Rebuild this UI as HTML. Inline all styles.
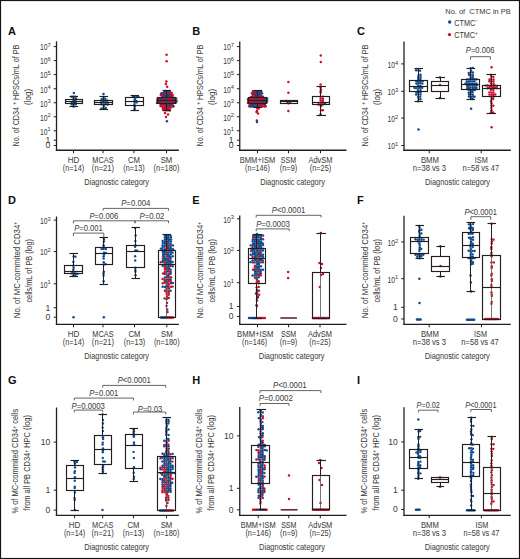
<!DOCTYPE html>
<html><head><meta charset="utf-8"><style>
html,body{margin:0;padding:0;background:#fff;}
body{width:520px;height:559px;overflow:hidden;}
svg{display:block;font-family:"Liberation Sans",sans-serif;}
text{stroke:#444;stroke-width:0.04px;}
</style></head><body>
<svg width="520" height="559" viewBox="0 0 520 559">
<rect x="0" y="0" width="520" height="559" fill="#fff"/>
<text x="8.10" y="34.80" font-size="11" text-anchor="start" fill="#111" font-weight="bold">A</text>
<text transform="translate(18.90,146.50) rotate(-90)" font-size="8.6" text-anchor="start" fill="#404040" textLength="39.50" lengthAdjust="spacingAndGlyphs">No. of CD34</text>
<text transform="translate(16.10,105.00) rotate(-90)" font-size="5.8" text-anchor="start" fill="#404040">+</text>
<text transform="translate(18.90,100.00) rotate(-90)" font-size="8.6" text-anchor="start" fill="#404040" textLength="55.40" lengthAdjust="spacingAndGlyphs"> HPSCs/mL of PB</text>
<text transform="translate(30.70,96.90) rotate(-90)" font-size="8.6" text-anchor="middle" fill="#404040" textLength="16.00" lengthAdjust="spacingAndGlyphs">(log)</text>
<line x1="56.50" y1="41.30" x2="56.50" y2="150.90" stroke="#231f20" stroke-width="1.3"/>
<line x1="55.85" y1="150.25" x2="178.90" y2="150.25" stroke="#231f20" stroke-width="1.3"/>
<line x1="53.70" y1="46.60" x2="56.50" y2="46.60" stroke="#231f20" stroke-width="1"/>
<text x="47.60" y="50.40" font-size="8.8" text-anchor="end" fill="#404040" textLength="7.60" lengthAdjust="spacingAndGlyphs">10</text>
<text x="47.60" y="47.20" font-size="5.8" text-anchor="start" fill="#404040">7</text>
<line x1="53.70" y1="60.60" x2="56.50" y2="60.60" stroke="#231f20" stroke-width="1"/>
<text x="47.60" y="64.40" font-size="8.8" text-anchor="end" fill="#404040" textLength="7.60" lengthAdjust="spacingAndGlyphs">10</text>
<text x="47.60" y="61.20" font-size="5.8" text-anchor="start" fill="#404040">6</text>
<line x1="53.70" y1="74.60" x2="56.50" y2="74.60" stroke="#231f20" stroke-width="1"/>
<text x="47.60" y="78.40" font-size="8.8" text-anchor="end" fill="#404040" textLength="7.60" lengthAdjust="spacingAndGlyphs">10</text>
<text x="47.60" y="75.20" font-size="5.8" text-anchor="start" fill="#404040">5</text>
<line x1="53.70" y1="88.75" x2="56.50" y2="88.75" stroke="#231f20" stroke-width="1"/>
<text x="47.60" y="92.55" font-size="8.8" text-anchor="end" fill="#404040" textLength="7.60" lengthAdjust="spacingAndGlyphs">10</text>
<text x="47.60" y="89.35" font-size="5.8" text-anchor="start" fill="#404040">4</text>
<line x1="53.70" y1="102.75" x2="56.50" y2="102.75" stroke="#231f20" stroke-width="1"/>
<text x="47.60" y="106.55" font-size="8.8" text-anchor="end" fill="#404040" textLength="7.60" lengthAdjust="spacingAndGlyphs">10</text>
<text x="47.60" y="103.35" font-size="5.8" text-anchor="start" fill="#404040">3</text>
<line x1="53.70" y1="116.75" x2="56.50" y2="116.75" stroke="#231f20" stroke-width="1"/>
<text x="47.60" y="120.55" font-size="8.8" text-anchor="end" fill="#404040" textLength="7.60" lengthAdjust="spacingAndGlyphs">10</text>
<text x="47.60" y="117.35" font-size="5.8" text-anchor="start" fill="#404040">2</text>
<line x1="53.70" y1="130.75" x2="56.50" y2="130.75" stroke="#231f20" stroke-width="1"/>
<text x="47.60" y="134.55" font-size="8.8" text-anchor="end" fill="#404040" textLength="7.60" lengthAdjust="spacingAndGlyphs">10</text>
<text x="47.60" y="131.35" font-size="5.8" text-anchor="start" fill="#404040">1</text>
<line x1="53.70" y1="140.20" x2="56.50" y2="140.20" stroke="#231f20" stroke-width="1"/>
<text x="50.30" y="143.10" font-size="8.6" text-anchor="end" fill="#404040">1</text>
<line x1="53.70" y1="145.50" x2="56.50" y2="145.50" stroke="#231f20" stroke-width="1"/>
<text x="50.30" y="148.40" font-size="8.6" text-anchor="end" fill="#404040">0</text>
<line x1="73.50" y1="150.25" x2="73.50" y2="153.25" stroke="#231f20" stroke-width="1"/>
<text x="73.50" y="162.85" font-size="8.6" text-anchor="middle" fill="#404040" textLength="11.60" lengthAdjust="spacingAndGlyphs">HD</text>
<text x="73.50" y="171.25" font-size="8.6" text-anchor="middle" fill="#404040" textLength="21.40" lengthAdjust="spacingAndGlyphs">(n=14)</text>
<line x1="103.00" y1="150.25" x2="103.00" y2="153.25" stroke="#231f20" stroke-width="1"/>
<text x="103.00" y="162.85" font-size="8.6" text-anchor="middle" fill="#404040" textLength="21.30" lengthAdjust="spacingAndGlyphs">MCAS</text>
<text x="103.00" y="171.25" font-size="8.6" text-anchor="middle" fill="#404040" textLength="22.30" lengthAdjust="spacingAndGlyphs">(n=21)</text>
<line x1="134.00" y1="150.25" x2="134.00" y2="153.25" stroke="#231f20" stroke-width="1"/>
<text x="134.00" y="162.85" font-size="8.6" text-anchor="middle" fill="#404040" textLength="12.00" lengthAdjust="spacingAndGlyphs">CM</text>
<text x="134.00" y="171.25" font-size="8.6" text-anchor="middle" fill="#404040" textLength="21.40" lengthAdjust="spacingAndGlyphs">(n=13)</text>
<line x1="166.50" y1="150.25" x2="166.50" y2="153.25" stroke="#231f20" stroke-width="1"/>
<text x="166.50" y="162.85" font-size="8.6" text-anchor="middle" fill="#404040" textLength="11.60" lengthAdjust="spacingAndGlyphs">SM</text>
<text x="166.50" y="171.25" font-size="8.6" text-anchor="middle" fill="#404040" textLength="25.80" lengthAdjust="spacingAndGlyphs">(n=180)</text>
<text x="116.60" y="185.05" font-size="9.2" text-anchor="middle" fill="#404040" textLength="64.70" lengthAdjust="spacingAndGlyphs">Diagnostic category</text>
<circle cx="73.60" cy="100.59" r="1.2" fill="#0f4c8e"/>
<circle cx="73.96" cy="102.33" r="1.2" fill="#0f4c8e"/>
<circle cx="73.46" cy="96.77" r="1.2" fill="#0f4c8e"/>
<circle cx="71.74" cy="104.26" r="1.2" fill="#0f4c8e"/>
<circle cx="71.65" cy="102.64" r="1.2" fill="#0f4c8e"/>
<circle cx="73.52" cy="106.50" r="1.2" fill="#0f4c8e"/>
<circle cx="75.44" cy="96.61" r="1.2" fill="#0f4c8e"/>
<circle cx="71.81" cy="96.73" r="1.2" fill="#0f4c8e"/>
<circle cx="75.63" cy="102.73" r="1.2" fill="#0f4c8e"/>
<circle cx="73.64" cy="98.83" r="1.2" fill="#0f4c8e"/>
<circle cx="75.41" cy="100.65" r="1.2" fill="#0f4c8e"/>
<circle cx="75.71" cy="104.22" r="1.2" fill="#0f4c8e"/>
<circle cx="73.55" cy="104.65" r="1.2" fill="#0f4c8e"/>
<circle cx="75.96" cy="98.55" r="1.2" fill="#0f4c8e"/>
<circle cx="73.90" cy="93.00" r="1.25" fill="#0f4c8e"/>
<line x1="73.50" y1="96.50" x2="73.50" y2="99.50" stroke="#231f20" stroke-width="1.0"/>
<line x1="73.50" y1="103.50" x2="73.50" y2="106.50" stroke="#231f20" stroke-width="1.0"/>
<line x1="69.50" y1="96.50" x2="78.00" y2="96.50" stroke="#231f20" stroke-width="1.15"/>
<line x1="69.50" y1="106.50" x2="78.00" y2="106.50" stroke="#231f20" stroke-width="1.15"/>
<rect x="65.50" y="99.50" width="17.00" height="4.00" fill="none" stroke="#231f20" stroke-width="1.15"/>
<line x1="65.50" y1="101.50" x2="82.50" y2="101.50" stroke="#231f20" stroke-width="1.15"/>
<circle cx="101.22" cy="104.21" r="1.2" fill="#0f4c8e"/>
<circle cx="103.58" cy="96.89" r="1.2" fill="#0f4c8e"/>
<circle cx="105.80" cy="108.05" r="1.2" fill="#0f4c8e"/>
<circle cx="105.32" cy="100.41" r="1.2" fill="#0f4c8e"/>
<circle cx="103.42" cy="98.84" r="1.2" fill="#0f4c8e"/>
<circle cx="101.53" cy="108.44" r="1.2" fill="#0f4c8e"/>
<circle cx="107.71" cy="102.67" r="1.2" fill="#0f4c8e"/>
<circle cx="105.55" cy="104.28" r="1.2" fill="#0f4c8e"/>
<circle cx="103.64" cy="108.19" r="1.2" fill="#0f4c8e"/>
<circle cx="105.28" cy="98.72" r="1.2" fill="#0f4c8e"/>
<circle cx="107.24" cy="100.51" r="1.2" fill="#0f4c8e"/>
<circle cx="103.38" cy="102.41" r="1.2" fill="#0f4c8e"/>
<circle cx="101.36" cy="100.67" r="1.2" fill="#0f4c8e"/>
<circle cx="105.63" cy="102.34" r="1.2" fill="#0f4c8e"/>
<circle cx="107.75" cy="104.62" r="1.2" fill="#0f4c8e"/>
<circle cx="103.78" cy="106.11" r="1.2" fill="#0f4c8e"/>
<circle cx="101.34" cy="102.64" r="1.2" fill="#0f4c8e"/>
<circle cx="103.59" cy="104.61" r="1.2" fill="#0f4c8e"/>
<circle cx="101.73" cy="99.09" r="1.2" fill="#0f4c8e"/>
<circle cx="103.37" cy="100.95" r="1.2" fill="#0f4c8e"/>
<circle cx="103.50" cy="94.00" r="1.25" fill="#0f4c8e"/>
<line x1="103.50" y1="96.50" x2="103.50" y2="100.50" stroke="#231f20" stroke-width="1.0"/>
<line x1="103.50" y1="104.50" x2="103.50" y2="109.50" stroke="#231f20" stroke-width="1.0"/>
<line x1="99.50" y1="96.50" x2="108.00" y2="96.50" stroke="#231f20" stroke-width="1.15"/>
<line x1="99.50" y1="109.50" x2="108.00" y2="109.50" stroke="#231f20" stroke-width="1.15"/>
<rect x="94.50" y="100.50" width="18.00" height="4.00" fill="none" stroke="#231f20" stroke-width="1.15"/>
<line x1="94.50" y1="102.50" x2="112.50" y2="102.50" stroke="#231f20" stroke-width="1.15"/>
<circle cx="134.65" cy="108.38" r="1.2" fill="#0f4c8e"/>
<circle cx="136.42" cy="100.92" r="1.2" fill="#0f4c8e"/>
<circle cx="134.67" cy="100.44" r="1.2" fill="#0f4c8e"/>
<circle cx="134.70" cy="106.29" r="1.2" fill="#0f4c8e"/>
<circle cx="136.59" cy="102.38" r="1.2" fill="#0f4c8e"/>
<circle cx="134.57" cy="110.03" r="1.2" fill="#0f4c8e"/>
<circle cx="136.91" cy="97.03" r="1.2" fill="#0f4c8e"/>
<circle cx="134.70" cy="97.10" r="1.2" fill="#0f4c8e"/>
<circle cx="134.63" cy="102.65" r="1.2" fill="#0f4c8e"/>
<circle cx="134.42" cy="104.63" r="1.2" fill="#0f4c8e"/>
<circle cx="132.97" cy="96.77" r="1.2" fill="#0f4c8e"/>
<circle cx="138.50" cy="96.87" r="1.2" fill="#0f4c8e"/>
<circle cx="134.90" cy="99.09" r="1.2" fill="#0f4c8e"/>
<line x1="134.50" y1="95.50" x2="134.50" y2="97.50" stroke="#231f20" stroke-width="1.0"/>
<line x1="134.50" y1="105.50" x2="134.50" y2="110.50" stroke="#231f20" stroke-width="1.0"/>
<line x1="130.50" y1="95.50" x2="139.00" y2="95.50" stroke="#231f20" stroke-width="1.15"/>
<line x1="130.50" y1="110.50" x2="139.00" y2="110.50" stroke="#231f20" stroke-width="1.15"/>
<rect x="125.50" y="97.50" width="18.00" height="8.00" fill="none" stroke="#231f20" stroke-width="1.15"/>
<line x1="125.50" y1="101.50" x2="143.50" y2="101.50" stroke="#231f20" stroke-width="1.15"/>
<circle cx="167.88" cy="91.40" r="1.2" fill="#cc1028"/>
<circle cx="175.51" cy="102.80" r="1.2" fill="#0f4c8e"/>
<circle cx="169.62" cy="110.47" r="1.2" fill="#cc1028"/>
<circle cx="162.84" cy="96.79" r="1.2" fill="#cc1028"/>
<circle cx="164.31" cy="104.32" r="1.2" fill="#cc1028"/>
<circle cx="166.36" cy="94.99" r="1.2" fill="#cc1028"/>
<circle cx="173.11" cy="98.68" r="1.2" fill="#cc1028"/>
<circle cx="169.18" cy="100.55" r="1.2" fill="#cc1028"/>
<circle cx="165.39" cy="92.99" r="1.2" fill="#cc1028"/>
<circle cx="172.32" cy="100.90" r="1.2" fill="#0f4c8e"/>
<circle cx="171.27" cy="98.81" r="1.2" fill="#0f4c8e"/>
<circle cx="164.81" cy="96.85" r="1.2" fill="#cc1028"/>
<circle cx="168.67" cy="102.80" r="1.2" fill="#cc1028"/>
<circle cx="162.88" cy="108.40" r="1.2" fill="#cc1028"/>
<circle cx="170.62" cy="94.79" r="1.2" fill="#cc1028"/>
<circle cx="167.40" cy="98.89" r="1.2" fill="#0f4c8e"/>
<circle cx="173.58" cy="106.32" r="1.2" fill="#cc1028"/>
<circle cx="162.46" cy="104.54" r="1.2" fill="#cc1028"/>
<circle cx="158.53" cy="100.63" r="1.2" fill="#cc1028"/>
<circle cx="169.44" cy="108.18" r="1.2" fill="#cc1028"/>
<circle cx="170.40" cy="104.51" r="1.2" fill="#cc1028"/>
<circle cx="157.85" cy="98.61" r="1.2" fill="#cc1028"/>
<circle cx="164.44" cy="91.24" r="1.2" fill="#0f4c8e"/>
<circle cx="167.66" cy="92.89" r="1.2" fill="#cc1028"/>
<circle cx="157.22" cy="100.64" r="1.2" fill="#0f4c8e"/>
<circle cx="171.30" cy="102.68" r="1.2" fill="#cc1028"/>
<circle cx="164.10" cy="99.05" r="1.2" fill="#cc1028"/>
<circle cx="175.03" cy="102.47" r="1.2" fill="#cc1028"/>
<circle cx="172.79" cy="98.73" r="1.2" fill="#cc1028"/>
<circle cx="166.77" cy="102.70" r="1.2" fill="#0f4c8e"/>
<circle cx="166.86" cy="104.60" r="1.2" fill="#0f4c8e"/>
<circle cx="161.65" cy="102.50" r="1.2" fill="#cc1028"/>
<circle cx="168.66" cy="104.68" r="1.2" fill="#cc1028"/>
<circle cx="166.48" cy="108.36" r="1.2" fill="#0f4c8e"/>
<circle cx="173.60" cy="102.64" r="1.2" fill="#cc1028"/>
<circle cx="169.58" cy="104.29" r="1.2" fill="#0f4c8e"/>
<circle cx="165.26" cy="102.61" r="1.2" fill="#cc1028"/>
<circle cx="161.61" cy="106.26" r="1.2" fill="#0f4c8e"/>
<circle cx="169.57" cy="90.91" r="1.2" fill="#cc1028"/>
<circle cx="160.50" cy="98.62" r="1.2" fill="#0f4c8e"/>
<circle cx="168.59" cy="106.26" r="1.2" fill="#0f4c8e"/>
<circle cx="168.48" cy="95.17" r="1.2" fill="#cc1028"/>
<circle cx="156.91" cy="102.89" r="1.2" fill="#cc1028"/>
<circle cx="157.54" cy="102.63" r="1.2" fill="#cc1028"/>
<circle cx="160.33" cy="98.54" r="1.2" fill="#cc1028"/>
<circle cx="162.80" cy="94.89" r="1.2" fill="#cc1028"/>
<circle cx="172.89" cy="106.49" r="1.2" fill="#0f4c8e"/>
<circle cx="161.48" cy="94.98" r="1.2" fill="#cc1028"/>
<circle cx="171.50" cy="104.59" r="1.2" fill="#cc1028"/>
<circle cx="168.53" cy="91.33" r="1.2" fill="#0f4c8e"/>
<circle cx="164.10" cy="102.51" r="1.2" fill="#0f4c8e"/>
<circle cx="167.48" cy="104.60" r="1.2" fill="#cc1028"/>
<circle cx="165.74" cy="104.43" r="1.2" fill="#0f4c8e"/>
<circle cx="166.89" cy="100.88" r="1.2" fill="#cc1028"/>
<circle cx="164.77" cy="102.40" r="1.2" fill="#cc1028"/>
<circle cx="164.61" cy="93.18" r="1.2" fill="#0f4c8e"/>
<circle cx="175.59" cy="100.65" r="1.2" fill="#0f4c8e"/>
<circle cx="166.82" cy="110.15" r="1.2" fill="#cc1028"/>
<circle cx="165.79" cy="98.63" r="1.2" fill="#cc1028"/>
<circle cx="163.43" cy="95.03" r="1.2" fill="#cc1028"/>
<circle cx="167.78" cy="110.03" r="1.2" fill="#cc1028"/>
<circle cx="165.65" cy="95.21" r="1.2" fill="#cc1028"/>
<circle cx="166.55" cy="96.97" r="1.2" fill="#cc1028"/>
<circle cx="174.95" cy="100.86" r="1.2" fill="#cc1028"/>
<circle cx="168.07" cy="98.81" r="1.2" fill="#0f4c8e"/>
<circle cx="171.51" cy="102.65" r="1.2" fill="#0f4c8e"/>
<circle cx="159.48" cy="98.97" r="1.2" fill="#cc1028"/>
<circle cx="167.75" cy="106.29" r="1.2" fill="#cc1028"/>
<circle cx="158.71" cy="98.85" r="1.2" fill="#cc1028"/>
<circle cx="168.28" cy="100.58" r="1.2" fill="#0f4c8e"/>
<circle cx="160.51" cy="102.63" r="1.2" fill="#cc1028"/>
<circle cx="161.77" cy="100.51" r="1.2" fill="#cc1028"/>
<circle cx="161.46" cy="93.23" r="1.2" fill="#0f4c8e"/>
<circle cx="165.63" cy="106.59" r="1.2" fill="#0f4c8e"/>
<circle cx="166.54" cy="91.18" r="1.2" fill="#0f4c8e"/>
<circle cx="163.84" cy="96.92" r="1.2" fill="#cc1028"/>
<circle cx="176.63" cy="100.99" r="1.2" fill="#0f4c8e"/>
<circle cx="163.30" cy="110.05" r="1.2" fill="#cc1028"/>
<circle cx="166.68" cy="98.59" r="1.2" fill="#0f4c8e"/>
<circle cx="168.47" cy="99.08" r="1.2" fill="#cc1028"/>
<circle cx="163.33" cy="100.83" r="1.2" fill="#cc1028"/>
<circle cx="165.87" cy="102.51" r="1.2" fill="#0f4c8e"/>
<circle cx="158.60" cy="102.44" r="1.2" fill="#cc1028"/>
<circle cx="174.50" cy="102.79" r="1.2" fill="#cc1028"/>
<circle cx="169.82" cy="99.00" r="1.2" fill="#cc1028"/>
<circle cx="168.54" cy="108.03" r="1.2" fill="#cc1028"/>
<circle cx="165.57" cy="108.30" r="1.2" fill="#cc1028"/>
<circle cx="163.56" cy="102.89" r="1.2" fill="#cc1028"/>
<circle cx="169.80" cy="100.97" r="1.2" fill="#0f4c8e"/>
<circle cx="165.75" cy="110.24" r="1.2" fill="#cc1028"/>
<circle cx="169.51" cy="106.43" r="1.2" fill="#0f4c8e"/>
<circle cx="173.22" cy="102.38" r="1.2" fill="#cc1028"/>
<circle cx="169.29" cy="102.84" r="1.2" fill="#0f4c8e"/>
<circle cx="170.41" cy="102.73" r="1.2" fill="#cc1028"/>
<circle cx="162.87" cy="106.58" r="1.2" fill="#cc1028"/>
<circle cx="176.26" cy="98.61" r="1.2" fill="#cc1028"/>
<circle cx="172.73" cy="94.92" r="1.2" fill="#cc1028"/>
<circle cx="165.75" cy="96.89" r="1.2" fill="#cc1028"/>
<circle cx="162.14" cy="98.98" r="1.2" fill="#cc1028"/>
<circle cx="160.71" cy="94.76" r="1.2" fill="#cc1028"/>
<circle cx="162.22" cy="100.48" r="1.2" fill="#cc1028"/>
<circle cx="168.46" cy="93.32" r="1.2" fill="#cc1028"/>
<circle cx="172.66" cy="97.05" r="1.2" fill="#cc1028"/>
<circle cx="170.34" cy="108.55" r="1.2" fill="#cc1028"/>
<circle cx="170.43" cy="106.13" r="1.2" fill="#0f4c8e"/>
<circle cx="171.31" cy="100.81" r="1.2" fill="#cc1028"/>
<circle cx="171.49" cy="94.75" r="1.2" fill="#cc1028"/>
<circle cx="166.47" cy="106.20" r="1.2" fill="#0f4c8e"/>
<circle cx="159.12" cy="100.71" r="1.2" fill="#cc1028"/>
<circle cx="174.27" cy="98.54" r="1.2" fill="#cc1028"/>
<circle cx="164.72" cy="108.32" r="1.2" fill="#cc1028"/>
<circle cx="175.36" cy="98.52" r="1.2" fill="#0f4c8e"/>
<circle cx="160.87" cy="100.45" r="1.2" fill="#cc1028"/>
<circle cx="172.39" cy="104.78" r="1.2" fill="#0f4c8e"/>
<circle cx="167.71" cy="97.05" r="1.2" fill="#0f4c8e"/>
<circle cx="171.53" cy="106.42" r="1.2" fill="#cc1028"/>
<circle cx="163.00" cy="102.42" r="1.2" fill="#cc1028"/>
<circle cx="157.56" cy="98.86" r="1.2" fill="#cc1028"/>
<circle cx="173.69" cy="98.57" r="1.2" fill="#0f4c8e"/>
<circle cx="163.42" cy="99.01" r="1.2" fill="#cc1028"/>
<circle cx="171.79" cy="92.85" r="1.2" fill="#cc1028"/>
<circle cx="167.58" cy="95.27" r="1.2" fill="#0f4c8e"/>
<circle cx="167.30" cy="102.31" r="1.2" fill="#cc1028"/>
<circle cx="161.32" cy="104.60" r="1.2" fill="#0f4c8e"/>
<circle cx="159.06" cy="102.37" r="1.2" fill="#cc1028"/>
<circle cx="173.04" cy="100.49" r="1.2" fill="#cc1028"/>
<circle cx="160.44" cy="106.11" r="1.2" fill="#cc1028"/>
<circle cx="164.83" cy="106.65" r="1.2" fill="#cc1028"/>
<circle cx="169.77" cy="102.39" r="1.2" fill="#cc1028"/>
<circle cx="165.69" cy="90.91" r="1.2" fill="#0f4c8e"/>
<circle cx="160.66" cy="104.48" r="1.2" fill="#cc1028"/>
<circle cx="171.33" cy="97.04" r="1.2" fill="#cc1028"/>
<circle cx="175.60" cy="98.64" r="1.2" fill="#cc1028"/>
<circle cx="162.90" cy="99.07" r="1.2" fill="#0f4c8e"/>
<circle cx="169.90" cy="92.96" r="1.2" fill="#0f4c8e"/>
<circle cx="169.35" cy="95.20" r="1.2" fill="#0f4c8e"/>
<circle cx="168.90" cy="97.10" r="1.2" fill="#0f4c8e"/>
<circle cx="168.84" cy="109.96" r="1.2" fill="#cc1028"/>
<circle cx="165.45" cy="98.74" r="1.2" fill="#0f4c8e"/>
<circle cx="169.56" cy="96.94" r="1.2" fill="#0f4c8e"/>
<circle cx="159.77" cy="100.64" r="1.2" fill="#cc1028"/>
<circle cx="161.84" cy="97.04" r="1.2" fill="#cc1028"/>
<circle cx="163.62" cy="92.89" r="1.2" fill="#cc1028"/>
<circle cx="171.79" cy="98.75" r="1.2" fill="#0f4c8e"/>
<circle cx="167.25" cy="100.77" r="1.2" fill="#0f4c8e"/>
<circle cx="170.76" cy="92.80" r="1.2" fill="#cc1028"/>
<circle cx="162.79" cy="93.31" r="1.2" fill="#0f4c8e"/>
<circle cx="159.49" cy="102.85" r="1.2" fill="#0f4c8e"/>
<circle cx="163.54" cy="108.14" r="1.2" fill="#cc1028"/>
<circle cx="175.85" cy="102.32" r="1.2" fill="#0f4c8e"/>
<circle cx="164.78" cy="109.97" r="1.2" fill="#cc1028"/>
<circle cx="167.34" cy="108.07" r="1.2" fill="#cc1028"/>
<circle cx="163.94" cy="100.84" r="1.2" fill="#cc1028"/>
<circle cx="160.88" cy="102.37" r="1.2" fill="#0f4c8e"/>
<circle cx="169.24" cy="98.93" r="1.2" fill="#cc1028"/>
<circle cx="164.85" cy="100.64" r="1.2" fill="#cc1028"/>
<circle cx="170.71" cy="99.00" r="1.2" fill="#cc1028"/>
<circle cx="164.55" cy="95.25" r="1.2" fill="#0f4c8e"/>
<circle cx="170.62" cy="96.86" r="1.2" fill="#cc1028"/>
<circle cx="173.78" cy="100.95" r="1.2" fill="#cc1028"/>
<circle cx="163.87" cy="106.39" r="1.2" fill="#cc1028"/>
<circle cx="167.96" cy="102.36" r="1.2" fill="#cc1028"/>
<circle cx="163.53" cy="104.54" r="1.2" fill="#cc1028"/>
<circle cx="172.56" cy="102.52" r="1.2" fill="#cc1028"/>
<circle cx="161.99" cy="102.35" r="1.2" fill="#cc1028"/>
<circle cx="161.15" cy="98.94" r="1.2" fill="#0f4c8e"/>
<circle cx="166.78" cy="93.23" r="1.2" fill="#cc1028"/>
<circle cx="170.63" cy="100.90" r="1.2" fill="#cc1028"/>
<circle cx="164.74" cy="98.80" r="1.2" fill="#cc1028"/>
<circle cx="165.65" cy="100.63" r="1.2" fill="#0f4c8e"/>
<circle cx="166.60" cy="54.80" r="1.25" fill="#cc1028"/>
<circle cx="166.60" cy="61.30" r="1.25" fill="#cc1028"/>
<circle cx="166.40" cy="81.50" r="1.25" fill="#cc1028"/>
<circle cx="165.80" cy="84.00" r="1.25" fill="#cc1028"/>
<circle cx="167.20" cy="86.70" r="1.25" fill="#cc1028"/>
<circle cx="165.00" cy="113.00" r="1.25" fill="#cc1028"/>
<circle cx="168.00" cy="114.50" r="1.25" fill="#cc1028"/>
<circle cx="166.00" cy="117.00" r="1.25" fill="#cc1028"/>
<circle cx="166.90" cy="121.30" r="1.25" fill="#0f4c8e"/>
<line x1="166.50" y1="90.50" x2="166.50" y2="97.50" stroke="#231f20" stroke-width="1.0"/>
<line x1="166.50" y1="103.50" x2="166.50" y2="110.50" stroke="#231f20" stroke-width="1.0"/>
<line x1="162.50" y1="90.50" x2="171.00" y2="90.50" stroke="#231f20" stroke-width="1.15"/>
<line x1="162.50" y1="110.50" x2="171.00" y2="110.50" stroke="#231f20" stroke-width="1.15"/>
<rect x="157.50" y="97.50" width="18.00" height="6.00" fill="none" stroke="#231f20" stroke-width="1.15"/>
<line x1="157.50" y1="100.50" x2="175.50" y2="100.50" stroke="#231f20" stroke-width="1.15"/>
<text x="192.30" y="34.80" font-size="11" text-anchor="start" fill="#111" font-weight="bold">B</text>
<text transform="translate(203.00,146.50) rotate(-90)" font-size="8.6" text-anchor="start" fill="#404040" textLength="39.50" lengthAdjust="spacingAndGlyphs">No. of CD34</text>
<text transform="translate(200.20,105.00) rotate(-90)" font-size="5.8" text-anchor="start" fill="#404040">+</text>
<text transform="translate(203.00,100.00) rotate(-90)" font-size="8.6" text-anchor="start" fill="#404040" textLength="55.40" lengthAdjust="spacingAndGlyphs"> HPSCs/mL of PB</text>
<text transform="translate(214.60,96.90) rotate(-90)" font-size="8.6" text-anchor="middle" fill="#404040" textLength="16.00" lengthAdjust="spacingAndGlyphs">(log)</text>
<line x1="239.75" y1="41.50" x2="239.75" y2="150.90" stroke="#231f20" stroke-width="1.3"/>
<line x1="239.10" y1="150.25" x2="346.50" y2="150.25" stroke="#231f20" stroke-width="1.3"/>
<line x1="236.95" y1="46.60" x2="239.75" y2="46.60" stroke="#231f20" stroke-width="1"/>
<text x="230.85" y="50.40" font-size="8.8" text-anchor="end" fill="#404040" textLength="7.60" lengthAdjust="spacingAndGlyphs">10</text>
<text x="230.85" y="47.20" font-size="5.8" text-anchor="start" fill="#404040">7</text>
<line x1="236.95" y1="60.60" x2="239.75" y2="60.60" stroke="#231f20" stroke-width="1"/>
<text x="230.85" y="64.40" font-size="8.8" text-anchor="end" fill="#404040" textLength="7.60" lengthAdjust="spacingAndGlyphs">10</text>
<text x="230.85" y="61.20" font-size="5.8" text-anchor="start" fill="#404040">6</text>
<line x1="236.95" y1="74.60" x2="239.75" y2="74.60" stroke="#231f20" stroke-width="1"/>
<text x="230.85" y="78.40" font-size="8.8" text-anchor="end" fill="#404040" textLength="7.60" lengthAdjust="spacingAndGlyphs">10</text>
<text x="230.85" y="75.20" font-size="5.8" text-anchor="start" fill="#404040">5</text>
<line x1="236.95" y1="88.75" x2="239.75" y2="88.75" stroke="#231f20" stroke-width="1"/>
<text x="230.85" y="92.55" font-size="8.8" text-anchor="end" fill="#404040" textLength="7.60" lengthAdjust="spacingAndGlyphs">10</text>
<text x="230.85" y="89.35" font-size="5.8" text-anchor="start" fill="#404040">4</text>
<line x1="236.95" y1="102.75" x2="239.75" y2="102.75" stroke="#231f20" stroke-width="1"/>
<text x="230.85" y="106.55" font-size="8.8" text-anchor="end" fill="#404040" textLength="7.60" lengthAdjust="spacingAndGlyphs">10</text>
<text x="230.85" y="103.35" font-size="5.8" text-anchor="start" fill="#404040">3</text>
<line x1="236.95" y1="116.75" x2="239.75" y2="116.75" stroke="#231f20" stroke-width="1"/>
<text x="230.85" y="120.55" font-size="8.8" text-anchor="end" fill="#404040" textLength="7.60" lengthAdjust="spacingAndGlyphs">10</text>
<text x="230.85" y="117.35" font-size="5.8" text-anchor="start" fill="#404040">2</text>
<line x1="236.95" y1="130.75" x2="239.75" y2="130.75" stroke="#231f20" stroke-width="1"/>
<text x="230.85" y="134.55" font-size="8.8" text-anchor="end" fill="#404040" textLength="7.60" lengthAdjust="spacingAndGlyphs">10</text>
<text x="230.85" y="131.35" font-size="5.8" text-anchor="start" fill="#404040">1</text>
<line x1="236.95" y1="140.20" x2="239.75" y2="140.20" stroke="#231f20" stroke-width="1"/>
<text x="233.55" y="143.10" font-size="8.6" text-anchor="end" fill="#404040">1</text>
<line x1="236.95" y1="145.50" x2="239.75" y2="145.50" stroke="#231f20" stroke-width="1"/>
<text x="233.55" y="148.40" font-size="8.6" text-anchor="end" fill="#404040">0</text>
<line x1="257.50" y1="150.25" x2="257.50" y2="153.25" stroke="#231f20" stroke-width="1"/>
<text x="257.50" y="162.85" font-size="8.6" text-anchor="middle" fill="#404040" textLength="35.40" lengthAdjust="spacingAndGlyphs">BMM+ISM</text>
<text x="257.50" y="171.25" font-size="8.6" text-anchor="middle" fill="#404040" textLength="24.90" lengthAdjust="spacingAndGlyphs">(n=146)</text>
<line x1="288.50" y1="150.25" x2="288.50" y2="153.25" stroke="#231f20" stroke-width="1"/>
<text x="288.50" y="162.85" font-size="8.6" text-anchor="middle" fill="#404040" textLength="15.30" lengthAdjust="spacingAndGlyphs">SSM</text>
<text x="288.50" y="171.25" font-size="8.6" text-anchor="middle" fill="#404040" textLength="17.50" lengthAdjust="spacingAndGlyphs">(n=9)</text>
<line x1="320.50" y1="150.25" x2="320.50" y2="153.25" stroke="#231f20" stroke-width="1"/>
<text x="320.50" y="162.85" font-size="8.6" text-anchor="middle" fill="#404040" textLength="24.00" lengthAdjust="spacingAndGlyphs">AdvSM</text>
<text x="320.50" y="171.25" font-size="8.6" text-anchor="middle" fill="#404040" textLength="21.40" lengthAdjust="spacingAndGlyphs">(n=25)</text>
<text x="292.50" y="185.05" font-size="9.2" text-anchor="middle" fill="#404040" textLength="64.70" lengthAdjust="spacingAndGlyphs">Diagnostic category</text>
<circle cx="259.28" cy="104.67" r="1.2" fill="#0f4c8e"/>
<circle cx="258.74" cy="100.57" r="1.2" fill="#0f4c8e"/>
<circle cx="255.07" cy="102.85" r="1.2" fill="#cc1028"/>
<circle cx="260.83" cy="93.18" r="1.2" fill="#cc1028"/>
<circle cx="253.83" cy="106.56" r="1.2" fill="#cc1028"/>
<circle cx="252.32" cy="102.75" r="1.2" fill="#cc1028"/>
<circle cx="252.77" cy="100.89" r="1.2" fill="#cc1028"/>
<circle cx="261.86" cy="106.31" r="1.2" fill="#0f4c8e"/>
<circle cx="252.11" cy="96.88" r="1.2" fill="#cc1028"/>
<circle cx="251.76" cy="98.54" r="1.2" fill="#0f4c8e"/>
<circle cx="260.09" cy="106.23" r="1.2" fill="#cc1028"/>
<circle cx="263.14" cy="100.70" r="1.2" fill="#0f4c8e"/>
<circle cx="267.21" cy="98.57" r="1.2" fill="#0f4c8e"/>
<circle cx="258.28" cy="106.44" r="1.2" fill="#0f4c8e"/>
<circle cx="257.61" cy="100.62" r="1.2" fill="#cc1028"/>
<circle cx="264.25" cy="98.51" r="1.2" fill="#0f4c8e"/>
<circle cx="256.00" cy="94.87" r="1.2" fill="#cc1028"/>
<circle cx="251.36" cy="100.44" r="1.2" fill="#cc1028"/>
<circle cx="252.87" cy="96.85" r="1.2" fill="#0f4c8e"/>
<circle cx="254.44" cy="98.51" r="1.2" fill="#0f4c8e"/>
<circle cx="254.75" cy="93.19" r="1.2" fill="#cc1028"/>
<circle cx="262.05" cy="93.20" r="1.2" fill="#0f4c8e"/>
<circle cx="249.82" cy="106.14" r="1.2" fill="#0f4c8e"/>
<circle cx="256.88" cy="98.62" r="1.2" fill="#0f4c8e"/>
<circle cx="257.79" cy="102.58" r="1.2" fill="#0f4c8e"/>
<circle cx="252.07" cy="106.28" r="1.2" fill="#cc1028"/>
<circle cx="264.22" cy="106.56" r="1.2" fill="#cc1028"/>
<circle cx="260.24" cy="91.30" r="1.2" fill="#cc1028"/>
<circle cx="254.95" cy="100.93" r="1.2" fill="#cc1028"/>
<circle cx="252.73" cy="94.78" r="1.2" fill="#0f4c8e"/>
<circle cx="267.21" cy="100.71" r="1.2" fill="#0f4c8e"/>
<circle cx="253.82" cy="93.05" r="1.2" fill="#cc1028"/>
<circle cx="249.79" cy="104.54" r="1.2" fill="#0f4c8e"/>
<circle cx="259.50" cy="102.57" r="1.2" fill="#0f4c8e"/>
<circle cx="259.84" cy="93.09" r="1.2" fill="#cc1028"/>
<circle cx="261.42" cy="98.78" r="1.2" fill="#cc1028"/>
<circle cx="260.19" cy="96.71" r="1.2" fill="#0f4c8e"/>
<circle cx="249.90" cy="98.90" r="1.2" fill="#cc1028"/>
<circle cx="254.74" cy="97.16" r="1.2" fill="#cc1028"/>
<circle cx="248.93" cy="98.71" r="1.2" fill="#cc1028"/>
<circle cx="258.20" cy="91.21" r="1.2" fill="#0f4c8e"/>
<circle cx="258.77" cy="108.49" r="1.2" fill="#cc1028"/>
<circle cx="260.42" cy="98.54" r="1.2" fill="#cc1028"/>
<circle cx="258.23" cy="96.64" r="1.2" fill="#0f4c8e"/>
<circle cx="259.74" cy="95.09" r="1.2" fill="#cc1028"/>
<circle cx="262.80" cy="104.26" r="1.2" fill="#cc1028"/>
<circle cx="263.27" cy="99.05" r="1.2" fill="#cc1028"/>
<circle cx="260.44" cy="100.87" r="1.2" fill="#0f4c8e"/>
<circle cx="255.77" cy="92.87" r="1.2" fill="#cc1028"/>
<circle cx="263.97" cy="100.53" r="1.2" fill="#cc1028"/>
<circle cx="260.04" cy="104.24" r="1.2" fill="#cc1028"/>
<circle cx="257.95" cy="93.10" r="1.2" fill="#cc1028"/>
<circle cx="259.30" cy="95.08" r="1.2" fill="#cc1028"/>
<circle cx="254.39" cy="102.33" r="1.2" fill="#0f4c8e"/>
<circle cx="265.78" cy="106.17" r="1.2" fill="#cc1028"/>
<circle cx="248.88" cy="100.47" r="1.2" fill="#cc1028"/>
<circle cx="265.78" cy="101.00" r="1.2" fill="#cc1028"/>
<circle cx="252.74" cy="98.80" r="1.2" fill="#0f4c8e"/>
<circle cx="258.70" cy="91.48" r="1.2" fill="#0f4c8e"/>
<circle cx="250.90" cy="98.97" r="1.2" fill="#cc1028"/>
<circle cx="263.02" cy="102.37" r="1.2" fill="#cc1028"/>
<circle cx="262.65" cy="100.80" r="1.2" fill="#0f4c8e"/>
<circle cx="250.78" cy="104.74" r="1.2" fill="#0f4c8e"/>
<circle cx="253.09" cy="100.42" r="1.2" fill="#0f4c8e"/>
<circle cx="257.14" cy="102.75" r="1.2" fill="#cc1028"/>
<circle cx="256.71" cy="100.77" r="1.2" fill="#0f4c8e"/>
<circle cx="256.71" cy="94.78" r="1.2" fill="#cc1028"/>
<circle cx="254.92" cy="98.56" r="1.2" fill="#cc1028"/>
<circle cx="265.80" cy="102.56" r="1.2" fill="#0f4c8e"/>
<circle cx="262.70" cy="106.14" r="1.2" fill="#cc1028"/>
<circle cx="257.89" cy="95.13" r="1.2" fill="#0f4c8e"/>
<circle cx="257.05" cy="91.20" r="1.2" fill="#cc1028"/>
<circle cx="256.76" cy="93.11" r="1.2" fill="#0f4c8e"/>
<circle cx="252.79" cy="91.12" r="1.2" fill="#cc1028"/>
<circle cx="247.91" cy="99.08" r="1.2" fill="#0f4c8e"/>
<circle cx="254.76" cy="104.80" r="1.2" fill="#cc1028"/>
<circle cx="263.78" cy="102.39" r="1.2" fill="#0f4c8e"/>
<circle cx="264.19" cy="104.50" r="1.2" fill="#cc1028"/>
<circle cx="254.97" cy="94.89" r="1.2" fill="#0f4c8e"/>
<circle cx="259.88" cy="100.46" r="1.2" fill="#cc1028"/>
<circle cx="250.65" cy="100.79" r="1.2" fill="#cc1028"/>
<circle cx="262.05" cy="104.48" r="1.2" fill="#cc1028"/>
<circle cx="248.65" cy="102.42" r="1.2" fill="#cc1028"/>
<circle cx="252.68" cy="102.58" r="1.2" fill="#cc1028"/>
<circle cx="256.30" cy="106.33" r="1.2" fill="#cc1028"/>
<circle cx="264.29" cy="102.46" r="1.2" fill="#cc1028"/>
<circle cx="259.23" cy="93.37" r="1.2" fill="#0f4c8e"/>
<circle cx="258.23" cy="104.27" r="1.2" fill="#cc1028"/>
<circle cx="252.29" cy="104.55" r="1.2" fill="#0f4c8e"/>
<circle cx="251.09" cy="96.92" r="1.2" fill="#cc1028"/>
<circle cx="257.28" cy="108.43" r="1.2" fill="#cc1028"/>
<circle cx="254.06" cy="94.86" r="1.2" fill="#cc1028"/>
<circle cx="254.28" cy="91.18" r="1.2" fill="#cc1028"/>
<circle cx="256.00" cy="96.63" r="1.2" fill="#0f4c8e"/>
<circle cx="255.76" cy="91.38" r="1.2" fill="#0f4c8e"/>
<circle cx="256.96" cy="97.05" r="1.2" fill="#cc1028"/>
<circle cx="255.12" cy="91.37" r="1.2" fill="#cc1028"/>
<circle cx="251.03" cy="102.85" r="1.2" fill="#0f4c8e"/>
<circle cx="249.38" cy="102.32" r="1.2" fill="#0f4c8e"/>
<circle cx="253.90" cy="97.16" r="1.2" fill="#cc1028"/>
<circle cx="256.92" cy="104.70" r="1.2" fill="#0f4c8e"/>
<circle cx="257.81" cy="98.59" r="1.2" fill="#cc1028"/>
<circle cx="250.16" cy="102.36" r="1.2" fill="#cc1028"/>
<circle cx="252.91" cy="104.35" r="1.2" fill="#0f4c8e"/>
<circle cx="256.38" cy="102.60" r="1.2" fill="#0f4c8e"/>
<circle cx="255.95" cy="104.54" r="1.2" fill="#cc1028"/>
<circle cx="252.92" cy="93.00" r="1.2" fill="#0f4c8e"/>
<circle cx="258.58" cy="102.62" r="1.2" fill="#cc1028"/>
<circle cx="260.04" cy="102.49" r="1.2" fill="#cc1028"/>
<circle cx="250.82" cy="106.53" r="1.2" fill="#0f4c8e"/>
<circle cx="265.17" cy="102.61" r="1.2" fill="#cc1028"/>
<circle cx="258.52" cy="98.74" r="1.2" fill="#cc1028"/>
<circle cx="262.07" cy="96.62" r="1.2" fill="#cc1028"/>
<circle cx="255.21" cy="106.67" r="1.2" fill="#0f4c8e"/>
<circle cx="253.43" cy="98.85" r="1.2" fill="#cc1028"/>
<circle cx="259.19" cy="106.52" r="1.2" fill="#0f4c8e"/>
<circle cx="249.47" cy="100.87" r="1.2" fill="#cc1028"/>
<circle cx="264.86" cy="106.32" r="1.2" fill="#cc1028"/>
<circle cx="265.39" cy="98.53" r="1.2" fill="#0f4c8e"/>
<circle cx="261.27" cy="96.73" r="1.2" fill="#cc1028"/>
<circle cx="265.10" cy="100.54" r="1.2" fill="#0f4c8e"/>
<circle cx="261.99" cy="102.33" r="1.2" fill="#0f4c8e"/>
<circle cx="247.91" cy="102.88" r="1.2" fill="#cc1028"/>
<circle cx="248.05" cy="100.87" r="1.2" fill="#cc1028"/>
<circle cx="249.07" cy="106.27" r="1.2" fill="#cc1028"/>
<circle cx="259.98" cy="99.00" r="1.2" fill="#cc1028"/>
<circle cx="256.89" cy="106.67" r="1.2" fill="#0f4c8e"/>
<circle cx="262.99" cy="96.65" r="1.2" fill="#0f4c8e"/>
<circle cx="266.76" cy="102.36" r="1.2" fill="#cc1028"/>
<circle cx="262.60" cy="99.03" r="1.2" fill="#cc1028"/>
<circle cx="253.84" cy="104.60" r="1.2" fill="#0f4c8e"/>
<circle cx="261.58" cy="100.82" r="1.2" fill="#0f4c8e"/>
<circle cx="256.15" cy="100.92" r="1.2" fill="#cc1028"/>
<circle cx="256.02" cy="98.61" r="1.2" fill="#0f4c8e"/>
<circle cx="252.72" cy="106.27" r="1.2" fill="#0f4c8e"/>
<circle cx="261.23" cy="91.16" r="1.2" fill="#0f4c8e"/>
<circle cx="264.80" cy="104.57" r="1.2" fill="#0f4c8e"/>
<circle cx="254.38" cy="100.67" r="1.2" fill="#cc1028"/>
<circle cx="260.83" cy="94.81" r="1.2" fill="#0f4c8e"/>
<circle cx="261.01" cy="104.39" r="1.2" fill="#cc1028"/>
<circle cx="260.80" cy="106.45" r="1.2" fill="#cc1028"/>
<circle cx="260.98" cy="102.67" r="1.2" fill="#cc1028"/>
<circle cx="251.86" cy="93.20" r="1.2" fill="#cc1028"/>
<circle cx="266.01" cy="98.93" r="1.2" fill="#cc1028"/>
<circle cx="253.72" cy="102.50" r="1.2" fill="#cc1028"/>
<circle cx="259.22" cy="97.18" r="1.2" fill="#cc1028"/>
<circle cx="256.50" cy="112.00" r="1.25" fill="#cc1028"/>
<circle cx="258.00" cy="113.50" r="1.25" fill="#cc1028"/>
<circle cx="257.00" cy="111.00" r="1.25" fill="#cc1028"/>
<circle cx="256.90" cy="120.40" r="1.25" fill="#cc1028"/>
<circle cx="257.00" cy="122.10" r="1.25" fill="#0f4c8e"/>
<line x1="257.50" y1="90.50" x2="257.50" y2="97.50" stroke="#231f20" stroke-width="1.0"/>
<line x1="257.50" y1="103.50" x2="257.50" y2="107.50" stroke="#231f20" stroke-width="1.0"/>
<line x1="253.50" y1="90.50" x2="262.00" y2="90.50" stroke="#231f20" stroke-width="1.15"/>
<line x1="253.50" y1="107.50" x2="262.00" y2="107.50" stroke="#231f20" stroke-width="1.15"/>
<rect x="248.50" y="97.50" width="18.00" height="6.00" fill="none" stroke="#231f20" stroke-width="1.15"/>
<line x1="248.50" y1="100.50" x2="266.50" y2="100.50" stroke="#231f20" stroke-width="1.15"/>
<circle cx="288.40" cy="82.10" r="1.25" fill="#cc1028"/>
<circle cx="288.40" cy="92.70" r="1.25" fill="#cc1028"/>
<circle cx="288.40" cy="110.90" r="1.25" fill="#cc1028"/>
<circle cx="286.50" cy="101.00" r="1.25" fill="#cc1028"/>
<circle cx="290.00" cy="102.00" r="1.25" fill="#cc1028"/>
<circle cx="287.50" cy="103.00" r="1.25" fill="#cc1028"/>
<line x1="288.50" y1="103.50" x2="288.50" y2="104.50" stroke="#231f20" stroke-width="1.0"/>
<rect x="280.50" y="100.50" width="17.00" height="3.00" fill="none" stroke="#231f20" stroke-width="1.15"/>
<line x1="280.50" y1="101.50" x2="297.50" y2="101.50" stroke="#231f20" stroke-width="1.15"/>
<circle cx="320.57" cy="114.16" r="1.2" fill="#cc1028"/>
<circle cx="320.56" cy="87.57" r="1.2" fill="#cc1028"/>
<circle cx="321.09" cy="104.75" r="1.2" fill="#cc1028"/>
<circle cx="322.87" cy="110.24" r="1.2" fill="#cc1028"/>
<circle cx="322.77" cy="104.49" r="1.2" fill="#cc1028"/>
<circle cx="320.70" cy="91.32" r="1.2" fill="#cc1028"/>
<circle cx="322.94" cy="98.84" r="1.2" fill="#cc1028"/>
<circle cx="320.65" cy="92.84" r="1.2" fill="#cc1028"/>
<circle cx="318.59" cy="102.87" r="1.2" fill="#cc1028"/>
<circle cx="322.83" cy="102.50" r="1.2" fill="#cc1028"/>
<circle cx="318.64" cy="104.65" r="1.2" fill="#cc1028"/>
<circle cx="320.99" cy="106.33" r="1.2" fill="#cc1028"/>
<circle cx="320.96" cy="89.48" r="1.2" fill="#cc1028"/>
<circle cx="320.92" cy="102.64" r="1.2" fill="#cc1028"/>
<circle cx="320.64" cy="98.66" r="1.2" fill="#cc1028"/>
<circle cx="320.63" cy="100.52" r="1.2" fill="#cc1028"/>
<circle cx="320.56" cy="96.78" r="1.2" fill="#cc1028"/>
<circle cx="323.01" cy="96.62" r="1.2" fill="#cc1028"/>
<circle cx="320.93" cy="110.16" r="1.2" fill="#cc1028"/>
<circle cx="322.82" cy="100.77" r="1.2" fill="#cc1028"/>
<circle cx="320.80" cy="55.50" r="1.25" fill="#cc1028"/>
<circle cx="320.80" cy="61.90" r="1.25" fill="#cc1028"/>
<circle cx="320.60" cy="84.60" r="1.25" fill="#cc1028"/>
<circle cx="325.00" cy="103.50" r="1.25" fill="#0f4c8e"/>
<line x1="320.50" y1="86.50" x2="320.50" y2="96.50" stroke="#231f20" stroke-width="1.0"/>
<line x1="320.50" y1="104.50" x2="320.50" y2="115.50" stroke="#231f20" stroke-width="1.0"/>
<line x1="316.50" y1="86.50" x2="326.00" y2="86.50" stroke="#231f20" stroke-width="1.15"/>
<line x1="316.50" y1="115.50" x2="326.00" y2="115.50" stroke="#231f20" stroke-width="1.15"/>
<rect x="312.50" y="96.50" width="17.00" height="8.00" fill="none" stroke="#231f20" stroke-width="1.15"/>
<line x1="312.50" y1="102.50" x2="329.50" y2="102.50" stroke="#231f20" stroke-width="1.15"/>
<text x="357.10" y="34.80" font-size="11" text-anchor="start" fill="#111" font-weight="bold">C</text>
<text transform="translate(367.70,146.50) rotate(-90)" font-size="8.6" text-anchor="start" fill="#404040" textLength="39.50" lengthAdjust="spacingAndGlyphs">No. of CD34</text>
<text transform="translate(364.90,105.00) rotate(-90)" font-size="5.8" text-anchor="start" fill="#404040">+</text>
<text transform="translate(367.70,100.00) rotate(-90)" font-size="8.6" text-anchor="start" fill="#404040" textLength="55.40" lengthAdjust="spacingAndGlyphs"> HPSCs/mL of PB</text>
<text transform="translate(379.60,96.90) rotate(-90)" font-size="8.6" text-anchor="middle" fill="#404040" textLength="16.00" lengthAdjust="spacingAndGlyphs">(log)</text>
<line x1="404.00" y1="41.50" x2="404.00" y2="150.90" stroke="#231f20" stroke-width="1.3"/>
<line x1="403.35" y1="150.25" x2="510.80" y2="150.25" stroke="#231f20" stroke-width="1.3"/>
<line x1="401.20" y1="63.90" x2="404.00" y2="63.90" stroke="#231f20" stroke-width="1"/>
<text x="395.10" y="67.70" font-size="8.8" text-anchor="end" fill="#404040" textLength="7.60" lengthAdjust="spacingAndGlyphs">10</text>
<text x="395.10" y="64.50" font-size="5.8" text-anchor="start" fill="#404040">4</text>
<line x1="401.20" y1="91.30" x2="404.00" y2="91.30" stroke="#231f20" stroke-width="1"/>
<text x="395.10" y="95.10" font-size="8.8" text-anchor="end" fill="#404040" textLength="7.60" lengthAdjust="spacingAndGlyphs">10</text>
<text x="395.10" y="91.90" font-size="5.8" text-anchor="start" fill="#404040">3</text>
<line x1="401.20" y1="118.10" x2="404.00" y2="118.10" stroke="#231f20" stroke-width="1"/>
<text x="395.10" y="121.90" font-size="8.8" text-anchor="end" fill="#404040" textLength="7.60" lengthAdjust="spacingAndGlyphs">10</text>
<text x="395.10" y="118.70" font-size="5.8" text-anchor="start" fill="#404040">2</text>
<line x1="401.20" y1="145.50" x2="404.00" y2="145.50" stroke="#231f20" stroke-width="1"/>
<text x="395.10" y="149.30" font-size="8.8" text-anchor="end" fill="#404040" textLength="7.60" lengthAdjust="spacingAndGlyphs">10</text>
<text x="395.10" y="146.10" font-size="5.8" text-anchor="start" fill="#404040">1</text>
<line x1="429.20" y1="150.25" x2="429.20" y2="153.25" stroke="#231f20" stroke-width="1"/>
<text x="429.90" y="162.85" font-size="8.6" text-anchor="middle" fill="#404040" textLength="18.00" lengthAdjust="spacingAndGlyphs">BMM</text>
<text x="429.40" y="171.25" font-size="8.6" text-anchor="middle" fill="#404040" textLength="33.30" lengthAdjust="spacingAndGlyphs">n=38 vs 3</text>
<line x1="481.20" y1="150.25" x2="481.20" y2="153.25" stroke="#231f20" stroke-width="1"/>
<text x="481.30" y="162.85" font-size="8.6" text-anchor="middle" fill="#404040" textLength="13.00" lengthAdjust="spacingAndGlyphs">ISM</text>
<text x="480.80" y="171.25" font-size="8.6" text-anchor="middle" fill="#404040" textLength="36.50" lengthAdjust="spacingAndGlyphs">n=58 vs 47</text>
<text x="457.50" y="185.05" font-size="9.2" text-anchor="middle" fill="#404040" textLength="65.10" lengthAdjust="spacingAndGlyphs">Diagnostic category</text>
<circle cx="420.59" cy="90.12" r="1.2" fill="#0f4c8e"/>
<circle cx="416.14" cy="94.48" r="1.2" fill="#0f4c8e"/>
<circle cx="418.53" cy="87.81" r="1.2" fill="#0f4c8e"/>
<circle cx="416.47" cy="92.33" r="1.2" fill="#0f4c8e"/>
<circle cx="418.17" cy="101.26" r="1.2" fill="#0f4c8e"/>
<circle cx="418.30" cy="70.33" r="1.2" fill="#0f4c8e"/>
<circle cx="418.56" cy="98.79" r="1.2" fill="#0f4c8e"/>
<circle cx="418.24" cy="83.50" r="1.2" fill="#0f4c8e"/>
<circle cx="420.56" cy="74.71" r="1.2" fill="#0f4c8e"/>
<circle cx="418.21" cy="77.25" r="1.2" fill="#0f4c8e"/>
<circle cx="418.44" cy="79.19" r="1.2" fill="#0f4c8e"/>
<circle cx="418.20" cy="96.90" r="1.2" fill="#0f4c8e"/>
<circle cx="416.32" cy="81.15" r="1.2" fill="#0f4c8e"/>
<circle cx="420.40" cy="81.57" r="1.2" fill="#0f4c8e"/>
<circle cx="420.53" cy="94.41" r="1.2" fill="#0f4c8e"/>
<circle cx="418.20" cy="81.54" r="1.2" fill="#0f4c8e"/>
<circle cx="416.29" cy="88.17" r="1.2" fill="#0f4c8e"/>
<circle cx="418.08" cy="92.57" r="1.2" fill="#0f4c8e"/>
<circle cx="418.13" cy="90.15" r="1.2" fill="#0f4c8e"/>
<circle cx="420.41" cy="86.03" r="1.2" fill="#0f4c8e"/>
<circle cx="414.39" cy="87.86" r="1.2" fill="#0f4c8e"/>
<circle cx="418.53" cy="75.08" r="1.2" fill="#0f4c8e"/>
<circle cx="422.35" cy="83.62" r="1.2" fill="#0f4c8e"/>
<circle cx="420.21" cy="83.31" r="1.2" fill="#0f4c8e"/>
<circle cx="420.59" cy="76.93" r="1.2" fill="#0f4c8e"/>
<circle cx="418.31" cy="94.45" r="1.2" fill="#0f4c8e"/>
<circle cx="420.43" cy="99.27" r="1.2" fill="#0f4c8e"/>
<circle cx="420.27" cy="96.64" r="1.2" fill="#0f4c8e"/>
<circle cx="416.46" cy="83.46" r="1.2" fill="#0f4c8e"/>
<circle cx="420.49" cy="78.91" r="1.2" fill="#0f4c8e"/>
<circle cx="416.09" cy="70.22" r="1.2" fill="#0f4c8e"/>
<circle cx="422.20" cy="87.84" r="1.2" fill="#0f4c8e"/>
<circle cx="422.46" cy="81.25" r="1.2" fill="#0f4c8e"/>
<circle cx="420.09" cy="87.85" r="1.2" fill="#0f4c8e"/>
<circle cx="418.12" cy="85.58" r="1.2" fill="#0f4c8e"/>
<circle cx="420.47" cy="92.30" r="1.2" fill="#0f4c8e"/>
<circle cx="420.04" cy="70.65" r="1.2" fill="#0f4c8e"/>
<circle cx="418.50" cy="129.40" r="1.25" fill="#0f4c8e"/>
<line x1="418.50" y1="68.50" x2="418.50" y2="80.50" stroke="#231f20" stroke-width="1.0"/>
<line x1="418.50" y1="91.50" x2="418.50" y2="101.50" stroke="#231f20" stroke-width="1.0"/>
<line x1="414.50" y1="68.50" x2="423.00" y2="68.50" stroke="#231f20" stroke-width="1.15"/>
<line x1="414.50" y1="101.50" x2="423.00" y2="101.50" stroke="#231f20" stroke-width="1.15"/>
<rect x="409.50" y="80.50" width="18.00" height="11.00" fill="none" stroke="#231f20" stroke-width="1.15"/>
<line x1="409.50" y1="86.50" x2="427.50" y2="86.50" stroke="#231f20" stroke-width="1.15"/>
<circle cx="440.00" cy="77.50" r="1.25" fill="#cc1028"/>
<circle cx="440.00" cy="85.00" r="1.25" fill="#cc1028"/>
<circle cx="440.00" cy="98.10" r="1.25" fill="#cc1028"/>
<line x1="440.50" y1="77.50" x2="440.50" y2="81.50" stroke="#231f20" stroke-width="1.0"/>
<line x1="440.50" y1="91.50" x2="440.50" y2="98.50" stroke="#231f20" stroke-width="1.0"/>
<line x1="435.50" y1="77.50" x2="445.00" y2="77.50" stroke="#231f20" stroke-width="1.15"/>
<line x1="435.50" y1="98.50" x2="445.00" y2="98.50" stroke="#231f20" stroke-width="1.15"/>
<rect x="431.50" y="81.50" width="17.00" height="10.00" fill="none" stroke="#231f20" stroke-width="1.15"/>
<line x1="431.50" y1="85.50" x2="448.50" y2="85.50" stroke="#231f20" stroke-width="1.15"/>
<circle cx="467.14" cy="79.36" r="1.2" fill="#0f4c8e"/>
<circle cx="470.89" cy="96.91" r="1.2" fill="#0f4c8e"/>
<circle cx="470.76" cy="94.38" r="1.2" fill="#0f4c8e"/>
<circle cx="470.77" cy="81.36" r="1.2" fill="#0f4c8e"/>
<circle cx="474.53" cy="96.78" r="1.2" fill="#0f4c8e"/>
<circle cx="472.48" cy="83.62" r="1.2" fill="#0f4c8e"/>
<circle cx="472.91" cy="88.01" r="1.2" fill="#0f4c8e"/>
<circle cx="470.76" cy="98.97" r="1.2" fill="#0f4c8e"/>
<circle cx="468.95" cy="94.54" r="1.2" fill="#0f4c8e"/>
<circle cx="474.34" cy="79.16" r="1.2" fill="#0f4c8e"/>
<circle cx="476.75" cy="85.57" r="1.2" fill="#0f4c8e"/>
<circle cx="470.70" cy="92.14" r="1.2" fill="#0f4c8e"/>
<circle cx="468.96" cy="74.70" r="1.2" fill="#0f4c8e"/>
<circle cx="471.06" cy="70.65" r="1.2" fill="#0f4c8e"/>
<circle cx="466.87" cy="83.39" r="1.2" fill="#0f4c8e"/>
<circle cx="468.90" cy="79.48" r="1.2" fill="#0f4c8e"/>
<circle cx="474.46" cy="81.14" r="1.2" fill="#0f4c8e"/>
<circle cx="469.11" cy="81.63" r="1.2" fill="#0f4c8e"/>
<circle cx="471.02" cy="90.22" r="1.2" fill="#0f4c8e"/>
<circle cx="474.85" cy="90.04" r="1.2" fill="#0f4c8e"/>
<circle cx="474.28" cy="83.76" r="1.2" fill="#0f4c8e"/>
<circle cx="472.78" cy="90.35" r="1.2" fill="#0f4c8e"/>
<circle cx="468.82" cy="92.67" r="1.2" fill="#0f4c8e"/>
<circle cx="472.87" cy="96.53" r="1.2" fill="#0f4c8e"/>
<circle cx="472.87" cy="75.08" r="1.2" fill="#0f4c8e"/>
<circle cx="468.65" cy="90.02" r="1.2" fill="#0f4c8e"/>
<circle cx="470.51" cy="85.54" r="1.2" fill="#0f4c8e"/>
<circle cx="470.75" cy="72.48" r="1.2" fill="#0f4c8e"/>
<circle cx="472.53" cy="92.31" r="1.2" fill="#0f4c8e"/>
<circle cx="468.86" cy="87.94" r="1.2" fill="#0f4c8e"/>
<circle cx="470.69" cy="77.16" r="1.2" fill="#0f4c8e"/>
<circle cx="470.67" cy="75.07" r="1.2" fill="#0f4c8e"/>
<circle cx="474.80" cy="87.85" r="1.2" fill="#0f4c8e"/>
<circle cx="469.27" cy="83.62" r="1.2" fill="#0f4c8e"/>
<circle cx="472.76" cy="94.64" r="1.2" fill="#0f4c8e"/>
<circle cx="472.79" cy="67.92" r="1.2" fill="#0f4c8e"/>
<circle cx="467.08" cy="85.69" r="1.2" fill="#0f4c8e"/>
<circle cx="471.06" cy="83.84" r="1.2" fill="#0f4c8e"/>
<circle cx="470.88" cy="79.15" r="1.2" fill="#0f4c8e"/>
<circle cx="472.89" cy="77.12" r="1.2" fill="#0f4c8e"/>
<circle cx="468.78" cy="72.83" r="1.2" fill="#0f4c8e"/>
<circle cx="472.62" cy="85.78" r="1.2" fill="#0f4c8e"/>
<circle cx="472.69" cy="99.07" r="1.2" fill="#0f4c8e"/>
<circle cx="468.93" cy="96.58" r="1.2" fill="#0f4c8e"/>
<circle cx="470.68" cy="87.83" r="1.2" fill="#0f4c8e"/>
<circle cx="476.49" cy="79.28" r="1.2" fill="#0f4c8e"/>
<circle cx="472.63" cy="79.04" r="1.2" fill="#0f4c8e"/>
<circle cx="470.67" cy="68.21" r="1.2" fill="#0f4c8e"/>
<circle cx="472.96" cy="72.57" r="1.2" fill="#0f4c8e"/>
<circle cx="465.43" cy="83.74" r="1.2" fill="#0f4c8e"/>
<circle cx="467.20" cy="88.12" r="1.2" fill="#0f4c8e"/>
<circle cx="476.43" cy="87.92" r="1.2" fill="#0f4c8e"/>
<circle cx="466.73" cy="81.52" r="1.2" fill="#0f4c8e"/>
<circle cx="474.78" cy="85.79" r="1.2" fill="#0f4c8e"/>
<circle cx="476.33" cy="83.46" r="1.2" fill="#0f4c8e"/>
<circle cx="468.68" cy="86.07" r="1.2" fill="#0f4c8e"/>
<circle cx="472.53" cy="81.38" r="1.2" fill="#0f4c8e"/>
<circle cx="471.10" cy="108.70" r="1.25" fill="#0f4c8e"/>
<line x1="470.50" y1="68.50" x2="470.50" y2="79.50" stroke="#231f20" stroke-width="1.0"/>
<line x1="470.50" y1="89.50" x2="470.50" y2="99.50" stroke="#231f20" stroke-width="1.0"/>
<line x1="466.50" y1="68.50" x2="475.00" y2="68.50" stroke="#231f20" stroke-width="1.15"/>
<line x1="466.50" y1="99.50" x2="475.00" y2="99.50" stroke="#231f20" stroke-width="1.15"/>
<rect x="461.50" y="79.50" width="18.00" height="10.00" fill="none" stroke="#231f20" stroke-width="1.15"/>
<line x1="461.50" y1="84.50" x2="479.50" y2="84.50" stroke="#231f20" stroke-width="1.15"/>
<circle cx="493.53" cy="79.49" r="1.2" fill="#cc1028"/>
<circle cx="493.48" cy="87.71" r="1.2" fill="#cc1028"/>
<circle cx="491.52" cy="92.60" r="1.2" fill="#cc1028"/>
<circle cx="489.64" cy="86.04" r="1.2" fill="#cc1028"/>
<circle cx="493.13" cy="98.97" r="1.2" fill="#cc1028"/>
<circle cx="491.59" cy="87.75" r="1.2" fill="#cc1028"/>
<circle cx="493.39" cy="90.03" r="1.2" fill="#cc1028"/>
<circle cx="491.01" cy="90.03" r="1.2" fill="#cc1028"/>
<circle cx="493.52" cy="96.81" r="1.2" fill="#cc1028"/>
<circle cx="491.53" cy="94.75" r="1.2" fill="#cc1028"/>
<circle cx="491.54" cy="99.10" r="1.2" fill="#cc1028"/>
<circle cx="493.37" cy="94.70" r="1.2" fill="#cc1028"/>
<circle cx="495.16" cy="87.77" r="1.2" fill="#cc1028"/>
<circle cx="491.10" cy="101.18" r="1.2" fill="#cc1028"/>
<circle cx="491.49" cy="110.13" r="1.2" fill="#cc1028"/>
<circle cx="495.25" cy="94.53" r="1.2" fill="#cc1028"/>
<circle cx="491.24" cy="79.23" r="1.2" fill="#cc1028"/>
<circle cx="496.92" cy="88.16" r="1.2" fill="#cc1028"/>
<circle cx="491.33" cy="105.50" r="1.2" fill="#cc1028"/>
<circle cx="493.38" cy="76.86" r="1.2" fill="#cc1028"/>
<circle cx="493.41" cy="92.52" r="1.2" fill="#cc1028"/>
<circle cx="485.67" cy="85.61" r="1.2" fill="#cc1028"/>
<circle cx="489.42" cy="94.60" r="1.2" fill="#cc1028"/>
<circle cx="493.35" cy="105.68" r="1.2" fill="#cc1028"/>
<circle cx="491.31" cy="96.69" r="1.2" fill="#cc1028"/>
<circle cx="493.20" cy="112.47" r="1.2" fill="#cc1028"/>
<circle cx="491.02" cy="74.98" r="1.2" fill="#cc1028"/>
<circle cx="493.58" cy="83.63" r="1.2" fill="#cc1028"/>
<circle cx="489.20" cy="87.93" r="1.2" fill="#cc1028"/>
<circle cx="487.57" cy="88.26" r="1.2" fill="#cc1028"/>
<circle cx="491.46" cy="103.13" r="1.2" fill="#cc1028"/>
<circle cx="489.55" cy="79.40" r="1.2" fill="#cc1028"/>
<circle cx="489.31" cy="81.29" r="1.2" fill="#cc1028"/>
<circle cx="491.16" cy="81.17" r="1.2" fill="#cc1028"/>
<circle cx="491.30" cy="85.78" r="1.2" fill="#cc1028"/>
<circle cx="491.04" cy="112.36" r="1.2" fill="#cc1028"/>
<circle cx="487.51" cy="85.52" r="1.2" fill="#cc1028"/>
<circle cx="489.45" cy="92.37" r="1.2" fill="#cc1028"/>
<circle cx="491.04" cy="83.45" r="1.2" fill="#cc1028"/>
<circle cx="491.36" cy="107.85" r="1.2" fill="#cc1028"/>
<circle cx="494.80" cy="85.51" r="1.2" fill="#cc1028"/>
<circle cx="493.51" cy="81.38" r="1.2" fill="#cc1028"/>
<circle cx="491.34" cy="76.76" r="1.2" fill="#cc1028"/>
<circle cx="496.98" cy="85.87" r="1.2" fill="#cc1028"/>
<circle cx="493.15" cy="85.82" r="1.2" fill="#cc1028"/>
<circle cx="491.60" cy="67.30" r="1.25" fill="#cc1028"/>
<circle cx="491.60" cy="127.20" r="1.25" fill="#cc1028"/>
<line x1="491.50" y1="74.50" x2="491.50" y2="85.50" stroke="#231f20" stroke-width="1.0"/>
<line x1="491.50" y1="96.50" x2="491.50" y2="113.50" stroke="#231f20" stroke-width="1.0"/>
<line x1="486.50" y1="74.50" x2="496.00" y2="74.50" stroke="#231f20" stroke-width="1.15"/>
<line x1="486.50" y1="113.50" x2="496.00" y2="113.50" stroke="#231f20" stroke-width="1.15"/>
<rect x="482.50" y="85.50" width="18.00" height="11.00" fill="none" stroke="#231f20" stroke-width="1.15"/>
<line x1="482.50" y1="88.50" x2="500.50" y2="88.50" stroke="#231f20" stroke-width="1.15"/>
<path d="M470.50,59.70 V56.70 H490.40 V59.70" fill="none" stroke="#555" stroke-width="0.9"/>
<text x="480.20" y="53.40" font-size="8.4" text-anchor="middle" fill="#404040" textLength="28.90" lengthAdjust="spacingAndGlyphs"><tspan font-style="italic">P</tspan>=0.006</text>
<text x="478.00" y="14.20" font-size="8.0" text-anchor="middle" fill="#404040" textLength="65.40" lengthAdjust="spacingAndGlyphs">No. of&#160; CTMC in PB</text>
<circle cx="449.70" cy="22.00" r="1.7" fill="#0f4c8e"/>
<circle cx="449.50" cy="34.60" r="1.7" fill="#cc1028"/>
<text x="454.2" y="25.5" font-size="8.6" fill="#404040" textLength="23.5" lengthAdjust="spacingAndGlyphs">CTMC<tspan font-size="5" dy="-3.2">−</tspan></text>
<text x="454.2" y="37.8" font-size="8.6" fill="#404040" textLength="23.5" lengthAdjust="spacingAndGlyphs">CTMC<tspan font-size="5.5" dy="-3.2">+</tspan></text>
<text x="8.10" y="204.00" font-size="11" text-anchor="start" fill="#111" font-weight="bold">D</text>
<text transform="translate(19.80,269.90) rotate(-90)" font-size="8.6" text-anchor="middle" fill="#404040" textLength="96.50" lengthAdjust="spacingAndGlyphs">No. of  MC-commited CD34<tspan font-size='5.8' dy='-2.8'>+</tspan></text>
<text transform="translate(32.00,270.80) rotate(-90)" font-size="8.6" text-anchor="middle" fill="#404040" textLength="63.60" lengthAdjust="spacingAndGlyphs">cells/mL of PB (log)</text>
<line x1="56.50" y1="216.50" x2="56.50" y2="324.95" stroke="#231f20" stroke-width="1.3"/>
<line x1="55.85" y1="324.30" x2="178.90" y2="324.30" stroke="#231f20" stroke-width="1.3"/>
<line x1="53.70" y1="220.10" x2="56.50" y2="220.10" stroke="#231f20" stroke-width="1"/>
<text x="47.60" y="223.90" font-size="8.8" text-anchor="end" fill="#404040" textLength="7.60" lengthAdjust="spacingAndGlyphs">10</text>
<text x="47.60" y="220.70" font-size="5.8" text-anchor="start" fill="#404040">3</text>
<line x1="53.70" y1="251.60" x2="56.50" y2="251.60" stroke="#231f20" stroke-width="1"/>
<text x="47.60" y="255.40" font-size="8.8" text-anchor="end" fill="#404040" textLength="7.60" lengthAdjust="spacingAndGlyphs">10</text>
<text x="47.60" y="252.20" font-size="5.8" text-anchor="start" fill="#404040">2</text>
<line x1="53.70" y1="283.80" x2="56.50" y2="283.80" stroke="#231f20" stroke-width="1"/>
<text x="47.60" y="287.60" font-size="8.8" text-anchor="end" fill="#404040" textLength="7.60" lengthAdjust="spacingAndGlyphs">10</text>
<text x="47.60" y="284.40" font-size="5.8" text-anchor="start" fill="#404040">1</text>
<line x1="53.70" y1="307.70" x2="56.50" y2="307.70" stroke="#231f20" stroke-width="1"/>
<text x="50.30" y="310.60" font-size="8.6" text-anchor="end" fill="#404040">1</text>
<line x1="53.70" y1="317.20" x2="56.50" y2="317.20" stroke="#231f20" stroke-width="1"/>
<text x="50.30" y="320.10" font-size="8.6" text-anchor="end" fill="#404040">0</text>
<line x1="73.50" y1="324.30" x2="73.50" y2="327.30" stroke="#231f20" stroke-width="1"/>
<text x="73.50" y="336.90" font-size="8.6" text-anchor="middle" fill="#404040" textLength="11.60" lengthAdjust="spacingAndGlyphs">HD</text>
<text x="73.50" y="345.30" font-size="8.6" text-anchor="middle" fill="#404040" textLength="21.40" lengthAdjust="spacingAndGlyphs">(n=14)</text>
<line x1="103.00" y1="324.30" x2="103.00" y2="327.30" stroke="#231f20" stroke-width="1"/>
<text x="103.00" y="336.90" font-size="8.6" text-anchor="middle" fill="#404040" textLength="21.30" lengthAdjust="spacingAndGlyphs">MCAS</text>
<text x="103.00" y="345.30" font-size="8.6" text-anchor="middle" fill="#404040" textLength="22.30" lengthAdjust="spacingAndGlyphs">(n=21)</text>
<line x1="134.50" y1="324.30" x2="134.50" y2="327.30" stroke="#231f20" stroke-width="1"/>
<text x="134.50" y="336.90" font-size="8.6" text-anchor="middle" fill="#404040" textLength="12.00" lengthAdjust="spacingAndGlyphs">CM</text>
<text x="134.50" y="345.30" font-size="8.6" text-anchor="middle" fill="#404040" textLength="21.40" lengthAdjust="spacingAndGlyphs">(n=13)</text>
<line x1="166.80" y1="324.30" x2="166.80" y2="327.30" stroke="#231f20" stroke-width="1"/>
<text x="166.80" y="336.90" font-size="8.6" text-anchor="middle" fill="#404040" textLength="11.60" lengthAdjust="spacingAndGlyphs">SM</text>
<text x="166.80" y="345.30" font-size="8.6" text-anchor="middle" fill="#404040" textLength="25.80" lengthAdjust="spacingAndGlyphs">(n=180)</text>
<text x="116.60" y="359.10" font-size="9.2" text-anchor="middle" fill="#404040" textLength="64.70" lengthAdjust="spacingAndGlyphs">Diagnostic category</text>
<circle cx="75.43" cy="256.65" r="1.2" fill="#0f4c8e"/>
<circle cx="73.26" cy="265.70" r="1.2" fill="#0f4c8e"/>
<circle cx="73.67" cy="256.45" r="1.2" fill="#0f4c8e"/>
<circle cx="75.59" cy="273.39" r="1.2" fill="#0f4c8e"/>
<circle cx="75.24" cy="275.51" r="1.2" fill="#0f4c8e"/>
<circle cx="73.68" cy="267.96" r="1.2" fill="#0f4c8e"/>
<circle cx="71.63" cy="273.38" r="1.2" fill="#0f4c8e"/>
<circle cx="73.24" cy="270.00" r="1.2" fill="#0f4c8e"/>
<circle cx="73.47" cy="275.46" r="1.2" fill="#0f4c8e"/>
<circle cx="73.38" cy="271.99" r="1.2" fill="#0f4c8e"/>
<circle cx="73.34" cy="262.01" r="1.2" fill="#0f4c8e"/>
<circle cx="77.41" cy="273.89" r="1.2" fill="#0f4c8e"/>
<circle cx="73.74" cy="273.44" r="1.2" fill="#0f4c8e"/>
<circle cx="73.50" cy="317.20" r="1.25" fill="#0f4c8e"/>
<line x1="73.50" y1="253.50" x2="73.50" y2="265.50" stroke="#231f20" stroke-width="1.0"/>
<line x1="73.50" y1="273.50" x2="73.50" y2="276.50" stroke="#231f20" stroke-width="1.0"/>
<line x1="69.50" y1="253.50" x2="78.00" y2="253.50" stroke="#231f20" stroke-width="1.15"/>
<line x1="69.50" y1="276.50" x2="78.00" y2="276.50" stroke="#231f20" stroke-width="1.15"/>
<rect x="64.50" y="265.50" width="18.00" height="8.00" fill="none" stroke="#231f20" stroke-width="1.15"/>
<line x1="64.50" y1="271.50" x2="82.50" y2="271.50" stroke="#231f20" stroke-width="1.15"/>
<circle cx="103.91" cy="271.65" r="1.2" fill="#0f4c8e"/>
<circle cx="105.78" cy="249.00" r="1.2" fill="#0f4c8e"/>
<circle cx="103.61" cy="248.88" r="1.2" fill="#0f4c8e"/>
<circle cx="103.58" cy="281.31" r="1.2" fill="#0f4c8e"/>
<circle cx="103.64" cy="258.53" r="1.2" fill="#0f4c8e"/>
<circle cx="103.65" cy="256.35" r="1.2" fill="#0f4c8e"/>
<circle cx="104.05" cy="239.58" r="1.2" fill="#0f4c8e"/>
<circle cx="105.87" cy="252.95" r="1.2" fill="#0f4c8e"/>
<circle cx="105.58" cy="264.16" r="1.2" fill="#0f4c8e"/>
<circle cx="103.78" cy="262.20" r="1.2" fill="#0f4c8e"/>
<circle cx="103.97" cy="252.72" r="1.2" fill="#0f4c8e"/>
<circle cx="103.62" cy="245.20" r="1.2" fill="#0f4c8e"/>
<circle cx="103.72" cy="247.09" r="1.2" fill="#0f4c8e"/>
<circle cx="103.72" cy="237.76" r="1.2" fill="#0f4c8e"/>
<circle cx="101.66" cy="248.94" r="1.2" fill="#0f4c8e"/>
<circle cx="103.57" cy="275.61" r="1.2" fill="#0f4c8e"/>
<circle cx="103.88" cy="241.38" r="1.2" fill="#0f4c8e"/>
<circle cx="103.52" cy="273.56" r="1.2" fill="#0f4c8e"/>
<circle cx="103.89" cy="264.38" r="1.2" fill="#0f4c8e"/>
<circle cx="104.01" cy="254.63" r="1.2" fill="#0f4c8e"/>
<circle cx="103.80" cy="317.20" r="1.25" fill="#0f4c8e"/>
<line x1="103.50" y1="237.50" x2="103.50" y2="247.50" stroke="#231f20" stroke-width="1.0"/>
<line x1="103.50" y1="264.50" x2="103.50" y2="284.50" stroke="#231f20" stroke-width="1.0"/>
<line x1="99.50" y1="237.50" x2="108.00" y2="237.50" stroke="#231f20" stroke-width="1.15"/>
<line x1="99.50" y1="284.50" x2="108.00" y2="284.50" stroke="#231f20" stroke-width="1.15"/>
<rect x="95.50" y="247.50" width="17.00" height="17.00" fill="none" stroke="#231f20" stroke-width="1.15"/>
<line x1="95.50" y1="253.50" x2="112.50" y2="253.50" stroke="#231f20" stroke-width="1.15"/>
<circle cx="135.53" cy="245.24" r="1.2" fill="#0f4c8e"/>
<circle cx="135.34" cy="271.49" r="1.2" fill="#0f4c8e"/>
<circle cx="135.39" cy="267.79" r="1.2" fill="#0f4c8e"/>
<circle cx="135.57" cy="235.57" r="1.2" fill="#0f4c8e"/>
<circle cx="135.07" cy="228.12" r="1.2" fill="#0f4c8e"/>
<circle cx="135.10" cy="246.77" r="1.2" fill="#0f4c8e"/>
<circle cx="135.44" cy="250.50" r="1.2" fill="#0f4c8e"/>
<circle cx="135.34" cy="241.06" r="1.2" fill="#0f4c8e"/>
<circle cx="135.51" cy="275.25" r="1.2" fill="#0f4c8e"/>
<circle cx="137.10" cy="250.59" r="1.2" fill="#0f4c8e"/>
<circle cx="135.32" cy="270.08" r="1.2" fill="#0f4c8e"/>
<circle cx="135.23" cy="260.55" r="1.2" fill="#0f4c8e"/>
<circle cx="135.14" cy="256.29" r="1.2" fill="#0f4c8e"/>
<line x1="135.50" y1="227.50" x2="135.50" y2="245.50" stroke="#231f20" stroke-width="1.0"/>
<line x1="135.50" y1="267.50" x2="135.50" y2="278.50" stroke="#231f20" stroke-width="1.0"/>
<line x1="131.50" y1="227.50" x2="140.00" y2="227.50" stroke="#231f20" stroke-width="1.15"/>
<line x1="131.50" y1="278.50" x2="140.00" y2="278.50" stroke="#231f20" stroke-width="1.15"/>
<rect x="126.50" y="245.50" width="18.00" height="22.00" fill="none" stroke="#231f20" stroke-width="1.15"/>
<line x1="126.50" y1="251.50" x2="144.50" y2="251.50" stroke="#231f20" stroke-width="1.15"/>
<circle cx="168.59" cy="243.24" r="1.2" fill="#0f4c8e"/>
<circle cx="170.68" cy="247.06" r="1.2" fill="#0f4c8e"/>
<circle cx="164.52" cy="298.37" r="1.2" fill="#cc1028"/>
<circle cx="168.93" cy="268.17" r="1.2" fill="#0f4c8e"/>
<circle cx="168.75" cy="266.18" r="1.2" fill="#0f4c8e"/>
<circle cx="164.71" cy="245.26" r="1.2" fill="#0f4c8e"/>
<circle cx="162.72" cy="241.00" r="1.2" fill="#0f4c8e"/>
<circle cx="172.68" cy="252.64" r="1.2" fill="#0f4c8e"/>
<circle cx="171.02" cy="241.37" r="1.2" fill="#0f4c8e"/>
<circle cx="170.58" cy="243.48" r="1.2" fill="#0f4c8e"/>
<circle cx="168.71" cy="277.13" r="1.2" fill="#0f4c8e"/>
<circle cx="162.64" cy="265.71" r="1.2" fill="#0f4c8e"/>
<circle cx="164.91" cy="251.05" r="1.2" fill="#0f4c8e"/>
<circle cx="168.82" cy="298.06" r="1.2" fill="#cc1028"/>
<circle cx="168.67" cy="264.13" r="1.2" fill="#0f4c8e"/>
<circle cx="168.60" cy="286.63" r="1.2" fill="#cc1028"/>
<circle cx="166.80" cy="294.45" r="1.2" fill="#cc1028"/>
<circle cx="167.09" cy="246.93" r="1.2" fill="#0f4c8e"/>
<circle cx="167.02" cy="248.63" r="1.2" fill="#cc1028"/>
<circle cx="170.90" cy="250.86" r="1.2" fill="#0f4c8e"/>
<circle cx="162.70" cy="283.26" r="1.2" fill="#cc1028"/>
<circle cx="162.74" cy="262.05" r="1.2" fill="#0f4c8e"/>
<circle cx="162.79" cy="260.54" r="1.2" fill="#0f4c8e"/>
<circle cx="164.76" cy="271.88" r="1.2" fill="#cc1028"/>
<circle cx="166.85" cy="286.64" r="1.2" fill="#0f4c8e"/>
<circle cx="167.04" cy="279.59" r="1.2" fill="#0f4c8e"/>
<circle cx="167.00" cy="239.47" r="1.2" fill="#0f4c8e"/>
<circle cx="164.87" cy="241.38" r="1.2" fill="#0f4c8e"/>
<circle cx="169.09" cy="239.46" r="1.2" fill="#0f4c8e"/>
<circle cx="169.03" cy="279.55" r="1.2" fill="#cc1028"/>
<circle cx="166.50" cy="290.48" r="1.2" fill="#cc1028"/>
<circle cx="171.09" cy="239.38" r="1.2" fill="#0f4c8e"/>
<circle cx="170.75" cy="263.83" r="1.2" fill="#0f4c8e"/>
<circle cx="164.66" cy="246.83" r="1.2" fill="#cc1028"/>
<circle cx="164.65" cy="279.49" r="1.2" fill="#cc1028"/>
<circle cx="168.58" cy="275.38" r="1.2" fill="#0f4c8e"/>
<circle cx="168.94" cy="260.50" r="1.2" fill="#0f4c8e"/>
<circle cx="166.59" cy="235.59" r="1.2" fill="#0f4c8e"/>
<circle cx="168.54" cy="247.10" r="1.2" fill="#0f4c8e"/>
<circle cx="166.53" cy="281.43" r="1.2" fill="#0f4c8e"/>
<circle cx="172.77" cy="256.22" r="1.2" fill="#0f4c8e"/>
<circle cx="168.81" cy="269.66" r="1.2" fill="#cc1028"/>
<circle cx="162.59" cy="249.18" r="1.2" fill="#0f4c8e"/>
<circle cx="164.70" cy="266.29" r="1.2" fill="#cc1028"/>
<circle cx="170.71" cy="269.67" r="1.2" fill="#0f4c8e"/>
<circle cx="166.72" cy="285.25" r="1.2" fill="#0f4c8e"/>
<circle cx="166.98" cy="275.70" r="1.2" fill="#0f4c8e"/>
<circle cx="164.73" cy="273.89" r="1.2" fill="#0f4c8e"/>
<circle cx="168.52" cy="235.82" r="1.2" fill="#0f4c8e"/>
<circle cx="170.74" cy="252.56" r="1.2" fill="#0f4c8e"/>
<circle cx="172.68" cy="266.24" r="1.2" fill="#0f4c8e"/>
<circle cx="168.54" cy="284.88" r="1.2" fill="#cc1028"/>
<circle cx="164.87" cy="286.97" r="1.2" fill="#0f4c8e"/>
<circle cx="166.67" cy="269.79" r="1.2" fill="#0f4c8e"/>
<circle cx="168.67" cy="245.33" r="1.2" fill="#0f4c8e"/>
<circle cx="162.91" cy="252.46" r="1.2" fill="#0f4c8e"/>
<circle cx="168.82" cy="271.43" r="1.2" fill="#cc1028"/>
<circle cx="164.71" cy="281.02" r="1.2" fill="#0f4c8e"/>
<circle cx="163.07" cy="273.43" r="1.2" fill="#cc1028"/>
<circle cx="168.51" cy="252.60" r="1.2" fill="#0f4c8e"/>
<circle cx="168.90" cy="250.53" r="1.2" fill="#0f4c8e"/>
<circle cx="166.84" cy="260.04" r="1.2" fill="#0f4c8e"/>
<circle cx="166.57" cy="266.06" r="1.2" fill="#0f4c8e"/>
<circle cx="164.87" cy="237.64" r="1.2" fill="#0f4c8e"/>
<circle cx="166.99" cy="258.56" r="1.2" fill="#0f4c8e"/>
<circle cx="168.62" cy="262.17" r="1.2" fill="#0f4c8e"/>
<circle cx="170.54" cy="260.44" r="1.2" fill="#0f4c8e"/>
<circle cx="172.59" cy="286.62" r="1.2" fill="#cc1028"/>
<circle cx="172.95" cy="245.39" r="1.2" fill="#0f4c8e"/>
<circle cx="167.00" cy="296.60" r="1.2" fill="#cc1028"/>
<circle cx="164.55" cy="264.22" r="1.2" fill="#0f4c8e"/>
<circle cx="162.81" cy="243.06" r="1.2" fill="#0f4c8e"/>
<circle cx="166.99" cy="241.59" r="1.2" fill="#0f4c8e"/>
<circle cx="171.09" cy="277.27" r="1.2" fill="#cc1028"/>
<circle cx="166.83" cy="267.92" r="1.2" fill="#0f4c8e"/>
<circle cx="170.72" cy="244.91" r="1.2" fill="#cc1028"/>
<circle cx="167.07" cy="256.28" r="1.2" fill="#cc1028"/>
<circle cx="168.78" cy="241.01" r="1.2" fill="#0f4c8e"/>
<circle cx="167.09" cy="254.57" r="1.2" fill="#0f4c8e"/>
<circle cx="166.69" cy="298.50" r="1.2" fill="#cc1028"/>
<circle cx="165.01" cy="239.56" r="1.2" fill="#0f4c8e"/>
<circle cx="166.89" cy="271.46" r="1.2" fill="#0f4c8e"/>
<circle cx="162.99" cy="256.50" r="1.2" fill="#cc1028"/>
<circle cx="166.58" cy="292.38" r="1.2" fill="#cc1028"/>
<circle cx="164.91" cy="262.23" r="1.2" fill="#cc1028"/>
<circle cx="162.95" cy="258.60" r="1.2" fill="#0f4c8e"/>
<circle cx="170.62" cy="266.02" r="1.2" fill="#cc1028"/>
<circle cx="162.98" cy="251.08" r="1.2" fill="#0f4c8e"/>
<circle cx="165.00" cy="260.03" r="1.2" fill="#0f4c8e"/>
<circle cx="168.91" cy="254.70" r="1.2" fill="#0f4c8e"/>
<circle cx="166.98" cy="277.23" r="1.2" fill="#cc1028"/>
<circle cx="170.93" cy="283.22" r="1.2" fill="#0f4c8e"/>
<circle cx="164.50" cy="256.68" r="1.2" fill="#0f4c8e"/>
<circle cx="172.85" cy="283.05" r="1.2" fill="#0f4c8e"/>
<circle cx="164.96" cy="277.38" r="1.2" fill="#0f4c8e"/>
<circle cx="164.91" cy="249.10" r="1.2" fill="#0f4c8e"/>
<circle cx="167.04" cy="252.64" r="1.2" fill="#cc1028"/>
<circle cx="170.57" cy="290.79" r="1.2" fill="#0f4c8e"/>
<circle cx="170.66" cy="271.89" r="1.2" fill="#0f4c8e"/>
<circle cx="162.55" cy="279.06" r="1.2" fill="#cc1028"/>
<circle cx="167.09" cy="243.37" r="1.2" fill="#cc1028"/>
<circle cx="170.94" cy="248.75" r="1.2" fill="#0f4c8e"/>
<circle cx="168.82" cy="283.36" r="1.2" fill="#cc1028"/>
<circle cx="163.04" cy="254.73" r="1.2" fill="#0f4c8e"/>
<circle cx="164.86" cy="290.69" r="1.2" fill="#cc1028"/>
<circle cx="169.01" cy="273.83" r="1.2" fill="#cc1028"/>
<circle cx="170.57" cy="261.90" r="1.2" fill="#0f4c8e"/>
<circle cx="170.53" cy="258.18" r="1.2" fill="#0f4c8e"/>
<circle cx="166.82" cy="244.97" r="1.2" fill="#0f4c8e"/>
<circle cx="166.98" cy="262.18" r="1.2" fill="#0f4c8e"/>
<circle cx="162.69" cy="247.10" r="1.2" fill="#0f4c8e"/>
<circle cx="168.55" cy="290.88" r="1.2" fill="#cc1028"/>
<circle cx="167.05" cy="237.61" r="1.2" fill="#0f4c8e"/>
<circle cx="170.88" cy="254.34" r="1.2" fill="#0f4c8e"/>
<circle cx="171.07" cy="286.78" r="1.2" fill="#cc1028"/>
<circle cx="164.87" cy="243.26" r="1.2" fill="#0f4c8e"/>
<circle cx="162.50" cy="245.38" r="1.2" fill="#0f4c8e"/>
<circle cx="168.51" cy="237.72" r="1.2" fill="#0f4c8e"/>
<circle cx="173.05" cy="249.15" r="1.2" fill="#0f4c8e"/>
<circle cx="168.92" cy="258.46" r="1.2" fill="#cc1028"/>
<circle cx="164.91" cy="282.87" r="1.2" fill="#cc1028"/>
<circle cx="168.93" cy="256.52" r="1.2" fill="#0f4c8e"/>
<circle cx="172.64" cy="262.03" r="1.2" fill="#0f4c8e"/>
<circle cx="166.57" cy="273.86" r="1.2" fill="#cc1028"/>
<circle cx="164.92" cy="267.73" r="1.2" fill="#cc1028"/>
<circle cx="164.92" cy="254.52" r="1.2" fill="#0f4c8e"/>
<circle cx="168.92" cy="248.74" r="1.2" fill="#0f4c8e"/>
<circle cx="170.76" cy="281.27" r="1.2" fill="#cc1028"/>
<circle cx="166.65" cy="288.74" r="1.2" fill="#cc1028"/>
<circle cx="168.72" cy="294.77" r="1.2" fill="#cc1028"/>
<circle cx="166.70" cy="250.54" r="1.2" fill="#cc1028"/>
<circle cx="165.02" cy="258.54" r="1.2" fill="#0f4c8e"/>
<circle cx="166.62" cy="264.09" r="1.2" fill="#0f4c8e"/>
<circle cx="160.82" cy="248.63" r="1.2" fill="#0f4c8e"/>
<circle cx="170.87" cy="237.41" r="1.2" fill="#0f4c8e"/>
<circle cx="168.98" cy="288.50" r="1.2" fill="#0f4c8e"/>
<circle cx="162.64" cy="286.73" r="1.2" fill="#0f4c8e"/>
<circle cx="170.79" cy="235.85" r="1.2" fill="#0f4c8e"/>
<circle cx="168.86" cy="292.69" r="1.2" fill="#cc1028"/>
<circle cx="164.71" cy="253.00" r="1.2" fill="#0f4c8e"/>
<circle cx="170.60" cy="273.74" r="1.2" fill="#0f4c8e"/>
<circle cx="160.75" cy="262.32" r="1.2" fill="#cc1028"/>
<circle cx="164.91" cy="235.79" r="1.2" fill="#0f4c8e"/>
<circle cx="166.92" cy="282.82" r="1.2" fill="#cc1028"/>
<circle cx="170.55" cy="279.35" r="1.2" fill="#0f4c8e"/>
<circle cx="164.82" cy="269.54" r="1.2" fill="#cc1028"/>
<circle cx="170.54" cy="256.73" r="1.2" fill="#0f4c8e"/>
<circle cx="168.71" cy="280.95" r="1.2" fill="#cc1028"/>
<circle cx="167.00" cy="303.00" r="1.25" fill="#cc1028"/>
<circle cx="166.50" cy="306.00" r="1.25" fill="#cc1028"/>
<circle cx="167.50" cy="312.00" r="1.25" fill="#cc1028"/>
<circle cx="166.60" cy="299.00" r="1.25" fill="#0f4c8e"/>
<circle cx="167.20" cy="309.50" r="1.25" fill="#0f4c8e"/>
<circle cx="161.00" cy="317.50" r="1.25" fill="#0f4c8e"/>
<circle cx="162.20" cy="317.50" r="1.25" fill="#0f4c8e"/>
<circle cx="163.40" cy="317.50" r="1.25" fill="#0f4c8e"/>
<circle cx="164.60" cy="317.50" r="1.25" fill="#0f4c8e"/>
<circle cx="165.80" cy="317.50" r="1.25" fill="#0f4c8e"/>
<circle cx="167.00" cy="317.50" r="1.25" fill="#cc1028"/>
<circle cx="168.20" cy="317.50" r="1.25" fill="#cc1028"/>
<circle cx="169.40" cy="317.50" r="1.25" fill="#cc1028"/>
<circle cx="170.60" cy="317.50" r="1.25" fill="#cc1028"/>
<circle cx="171.80" cy="317.50" r="1.25" fill="#cc1028"/>
<circle cx="173.00" cy="317.50" r="1.25" fill="#cc1028"/>
<line x1="166.50" y1="250.50" x2="166.50" y2="317.50" stroke="#555" stroke-width="0.8"/>
<line x1="166.50" y1="234.50" x2="166.50" y2="250.50" stroke="#231f20" stroke-width="1.0"/>
<line x1="162.50" y1="234.50" x2="171.00" y2="234.50" stroke="#231f20" stroke-width="1.15"/>
<line x1="162.50" y1="317.50" x2="171.00" y2="317.50" stroke="#231f20" stroke-width="1.15"/>
<rect x="158.50" y="250.50" width="17.00" height="67.00" fill="none" stroke="#231f20" stroke-width="1.15"/>
<line x1="158.50" y1="264.50" x2="175.50" y2="264.50" stroke="#231f20" stroke-width="1.15"/>
<path d="M73.40,236.10 V233.10 H103.80 V236.10" fill="none" stroke="#555" stroke-width="0.9"/>
<text x="88.50" y="230.90" font-size="8.4" text-anchor="middle" fill="#404040" textLength="28.40" lengthAdjust="spacingAndGlyphs"><tspan font-style="italic">P</tspan>=0.001</text>
<path d="M73.40,223.20 V220.80 H135.00 V223.20" fill="none" stroke="#555" stroke-width="0.9"/>
<text x="103.80" y="218.90" font-size="8.4" text-anchor="middle" fill="#404040" textLength="28.70" lengthAdjust="spacingAndGlyphs"><tspan font-style="italic">P</tspan>=0.006</text>
<path d="M135.00,223.20 V220.80 H168.50 V223.20" fill="none" stroke="#555" stroke-width="0.9"/>
<text x="152.00" y="218.90" font-size="8.4" text-anchor="middle" fill="#404040" textLength="24.90" lengthAdjust="spacingAndGlyphs"><tspan font-style="italic">P</tspan>=0.02</text>
<path d="M103.20,210.70 V208.40 H168.50 V210.70" fill="none" stroke="#555" stroke-width="0.9"/>
<text x="135.80" y="206.10" font-size="8.4" text-anchor="middle" fill="#404040" textLength="29.30" lengthAdjust="spacingAndGlyphs"><tspan font-style="italic">P</tspan>=0.004</text>
<text x="192.30" y="203.80" font-size="11" text-anchor="start" fill="#111" font-weight="bold">E</text>
<text transform="translate(203.30,269.90) rotate(-90)" font-size="8.6" text-anchor="middle" fill="#404040" textLength="96.50" lengthAdjust="spacingAndGlyphs">No. of  MC-commited CD34<tspan font-size='5.8' dy='-2.8'>+</tspan></text>
<text transform="translate(215.40,270.80) rotate(-90)" font-size="8.6" text-anchor="middle" fill="#404040" textLength="63.60" lengthAdjust="spacingAndGlyphs">cells/mL of PB (log)</text>
<line x1="239.75" y1="215.50" x2="239.75" y2="324.95" stroke="#231f20" stroke-width="1.3"/>
<line x1="239.10" y1="324.30" x2="346.50" y2="324.30" stroke="#231f20" stroke-width="1.3"/>
<line x1="236.95" y1="218.80" x2="239.75" y2="218.80" stroke="#231f20" stroke-width="1"/>
<text x="230.85" y="222.60" font-size="8.8" text-anchor="end" fill="#404040" textLength="7.60" lengthAdjust="spacingAndGlyphs">10</text>
<text x="230.85" y="219.40" font-size="5.8" text-anchor="start" fill="#404040">3</text>
<line x1="236.95" y1="250.40" x2="239.75" y2="250.40" stroke="#231f20" stroke-width="1"/>
<text x="230.85" y="254.20" font-size="8.8" text-anchor="end" fill="#404040" textLength="7.60" lengthAdjust="spacingAndGlyphs">10</text>
<text x="230.85" y="251.00" font-size="5.8" text-anchor="start" fill="#404040">2</text>
<line x1="236.95" y1="282.70" x2="239.75" y2="282.70" stroke="#231f20" stroke-width="1"/>
<text x="230.85" y="286.50" font-size="8.8" text-anchor="end" fill="#404040" textLength="7.60" lengthAdjust="spacingAndGlyphs">10</text>
<text x="230.85" y="283.30" font-size="5.8" text-anchor="start" fill="#404040">1</text>
<line x1="236.95" y1="306.50" x2="239.75" y2="306.50" stroke="#231f20" stroke-width="1"/>
<text x="233.55" y="309.40" font-size="8.6" text-anchor="end" fill="#404040">1</text>
<line x1="236.95" y1="316.50" x2="239.75" y2="316.50" stroke="#231f20" stroke-width="1"/>
<text x="233.55" y="319.40" font-size="8.6" text-anchor="end" fill="#404040">0</text>
<line x1="257.50" y1="324.30" x2="257.50" y2="327.30" stroke="#231f20" stroke-width="1"/>
<text x="255.20" y="336.90" font-size="8.6" text-anchor="middle" fill="#404040" textLength="36.30" lengthAdjust="spacingAndGlyphs">BMM+ISM</text>
<text x="254.70" y="345.30" font-size="8.6" text-anchor="middle" fill="#404040" textLength="25.20" lengthAdjust="spacingAndGlyphs">(n=146)</text>
<line x1="288.60" y1="324.30" x2="288.60" y2="327.30" stroke="#231f20" stroke-width="1"/>
<text x="288.60" y="336.90" font-size="8.6" text-anchor="middle" fill="#404040" textLength="15.30" lengthAdjust="spacingAndGlyphs">SSM</text>
<text x="288.60" y="345.30" font-size="8.6" text-anchor="middle" fill="#404040" textLength="17.50" lengthAdjust="spacingAndGlyphs">(n=9)</text>
<line x1="320.00" y1="324.30" x2="320.00" y2="327.30" stroke="#231f20" stroke-width="1"/>
<text x="320.00" y="336.90" font-size="8.6" text-anchor="middle" fill="#404040" textLength="24.00" lengthAdjust="spacingAndGlyphs">AdvSM</text>
<text x="320.00" y="345.30" font-size="8.6" text-anchor="middle" fill="#404040" textLength="21.40" lengthAdjust="spacingAndGlyphs">(n=25)</text>
<text x="291.70" y="359.10" font-size="9.2" text-anchor="middle" fill="#404040" textLength="65.80" lengthAdjust="spacingAndGlyphs">Diagnostic category</text>
<circle cx="252.62" cy="275.54" r="1.2" fill="#0f4c8e"/>
<circle cx="256.71" cy="287.19" r="1.2" fill="#cc1028"/>
<circle cx="253.00" cy="244.97" r="1.2" fill="#cc1028"/>
<circle cx="257.14" cy="249.02" r="1.2" fill="#0f4c8e"/>
<circle cx="253.09" cy="249.07" r="1.2" fill="#0f4c8e"/>
<circle cx="262.99" cy="256.75" r="1.2" fill="#0f4c8e"/>
<circle cx="263.01" cy="239.29" r="1.2" fill="#cc1028"/>
<circle cx="260.98" cy="252.46" r="1.2" fill="#cc1028"/>
<circle cx="258.89" cy="235.44" r="1.2" fill="#0f4c8e"/>
<circle cx="252.65" cy="260.56" r="1.2" fill="#0f4c8e"/>
<circle cx="254.76" cy="267.69" r="1.2" fill="#cc1028"/>
<circle cx="251.14" cy="248.79" r="1.2" fill="#0f4c8e"/>
<circle cx="255.03" cy="273.42" r="1.2" fill="#0f4c8e"/>
<circle cx="252.63" cy="247.03" r="1.2" fill="#0f4c8e"/>
<circle cx="261.03" cy="260.03" r="1.2" fill="#0f4c8e"/>
<circle cx="258.69" cy="277.17" r="1.2" fill="#0f4c8e"/>
<circle cx="256.69" cy="256.55" r="1.2" fill="#0f4c8e"/>
<circle cx="256.65" cy="244.87" r="1.2" fill="#0f4c8e"/>
<circle cx="255.10" cy="235.72" r="1.2" fill="#0f4c8e"/>
<circle cx="258.80" cy="286.86" r="1.2" fill="#cc1028"/>
<circle cx="256.77" cy="237.61" r="1.2" fill="#0f4c8e"/>
<circle cx="254.96" cy="246.86" r="1.2" fill="#0f4c8e"/>
<circle cx="252.86" cy="239.41" r="1.2" fill="#0f4c8e"/>
<circle cx="258.62" cy="237.32" r="1.2" fill="#0f4c8e"/>
<circle cx="263.07" cy="269.68" r="1.2" fill="#0f4c8e"/>
<circle cx="256.80" cy="273.71" r="1.2" fill="#0f4c8e"/>
<circle cx="261.13" cy="248.63" r="1.2" fill="#0f4c8e"/>
<circle cx="257.15" cy="292.60" r="1.2" fill="#cc1028"/>
<circle cx="260.92" cy="237.72" r="1.2" fill="#0f4c8e"/>
<circle cx="257.02" cy="250.98" r="1.2" fill="#0f4c8e"/>
<circle cx="250.82" cy="254.71" r="1.2" fill="#0f4c8e"/>
<circle cx="259.07" cy="254.79" r="1.2" fill="#cc1028"/>
<circle cx="256.85" cy="241.45" r="1.2" fill="#cc1028"/>
<circle cx="259.01" cy="263.90" r="1.2" fill="#0f4c8e"/>
<circle cx="260.86" cy="273.54" r="1.2" fill="#cc1028"/>
<circle cx="252.83" cy="254.44" r="1.2" fill="#0f4c8e"/>
<circle cx="258.87" cy="266.30" r="1.2" fill="#0f4c8e"/>
<circle cx="255.14" cy="271.44" r="1.2" fill="#0f4c8e"/>
<circle cx="256.83" cy="269.69" r="1.2" fill="#cc1028"/>
<circle cx="252.64" cy="256.64" r="1.2" fill="#cc1028"/>
<circle cx="259.05" cy="290.63" r="1.2" fill="#cc1028"/>
<circle cx="255.16" cy="258.38" r="1.2" fill="#0f4c8e"/>
<circle cx="255.18" cy="237.59" r="1.2" fill="#0f4c8e"/>
<circle cx="254.67" cy="262.39" r="1.2" fill="#0f4c8e"/>
<circle cx="258.78" cy="245.02" r="1.2" fill="#0f4c8e"/>
<circle cx="259.12" cy="271.59" r="1.2" fill="#cc1028"/>
<circle cx="250.71" cy="245.35" r="1.2" fill="#0f4c8e"/>
<circle cx="254.83" cy="275.47" r="1.2" fill="#0f4c8e"/>
<circle cx="262.87" cy="262.18" r="1.2" fill="#0f4c8e"/>
<circle cx="262.79" cy="260.41" r="1.2" fill="#0f4c8e"/>
<circle cx="254.92" cy="256.71" r="1.2" fill="#0f4c8e"/>
<circle cx="256.87" cy="271.70" r="1.2" fill="#0f4c8e"/>
<circle cx="253.02" cy="269.73" r="1.2" fill="#cc1028"/>
<circle cx="253.06" cy="243.42" r="1.2" fill="#0f4c8e"/>
<circle cx="252.94" cy="262.41" r="1.2" fill="#cc1028"/>
<circle cx="257.06" cy="298.18" r="1.2" fill="#cc1028"/>
<circle cx="262.83" cy="243.38" r="1.2" fill="#0f4c8e"/>
<circle cx="254.97" cy="248.87" r="1.2" fill="#0f4c8e"/>
<circle cx="257.04" cy="243.24" r="1.2" fill="#cc1028"/>
<circle cx="261.02" cy="243.05" r="1.2" fill="#0f4c8e"/>
<circle cx="255.05" cy="269.70" r="1.2" fill="#0f4c8e"/>
<circle cx="258.90" cy="275.36" r="1.2" fill="#cc1028"/>
<circle cx="256.83" cy="279.29" r="1.2" fill="#cc1028"/>
<circle cx="256.74" cy="247.22" r="1.2" fill="#0f4c8e"/>
<circle cx="254.93" cy="277.68" r="1.2" fill="#cc1028"/>
<circle cx="255.03" cy="254.81" r="1.2" fill="#0f4c8e"/>
<circle cx="260.95" cy="262.35" r="1.2" fill="#cc1028"/>
<circle cx="261.01" cy="239.20" r="1.2" fill="#0f4c8e"/>
<circle cx="258.74" cy="269.69" r="1.2" fill="#0f4c8e"/>
<circle cx="254.65" cy="250.91" r="1.2" fill="#0f4c8e"/>
<circle cx="254.89" cy="239.42" r="1.2" fill="#0f4c8e"/>
<circle cx="260.67" cy="258.62" r="1.2" fill="#0f4c8e"/>
<circle cx="257.00" cy="277.66" r="1.2" fill="#0f4c8e"/>
<circle cx="260.70" cy="275.48" r="1.2" fill="#cc1028"/>
<circle cx="258.90" cy="283.32" r="1.2" fill="#cc1028"/>
<circle cx="257.01" cy="235.79" r="1.2" fill="#0f4c8e"/>
<circle cx="263.06" cy="235.50" r="1.2" fill="#0f4c8e"/>
<circle cx="259.00" cy="239.65" r="1.2" fill="#0f4c8e"/>
<circle cx="259.05" cy="256.35" r="1.2" fill="#cc1028"/>
<circle cx="252.78" cy="250.52" r="1.2" fill="#0f4c8e"/>
<circle cx="250.60" cy="262.15" r="1.2" fill="#0f4c8e"/>
<circle cx="263.07" cy="244.96" r="1.2" fill="#0f4c8e"/>
<circle cx="262.77" cy="248.63" r="1.2" fill="#0f4c8e"/>
<circle cx="255.08" cy="260.01" r="1.2" fill="#0f4c8e"/>
<circle cx="254.75" cy="244.98" r="1.2" fill="#0f4c8e"/>
<circle cx="263.01" cy="250.61" r="1.2" fill="#0f4c8e"/>
<circle cx="259.19" cy="273.75" r="1.2" fill="#0f4c8e"/>
<circle cx="260.88" cy="269.72" r="1.2" fill="#0f4c8e"/>
<circle cx="257.00" cy="300.47" r="1.2" fill="#cc1028"/>
<circle cx="254.95" cy="252.88" r="1.2" fill="#0f4c8e"/>
<circle cx="260.94" cy="266.18" r="1.2" fill="#0f4c8e"/>
<circle cx="252.68" cy="241.22" r="1.2" fill="#0f4c8e"/>
<circle cx="259.03" cy="258.33" r="1.2" fill="#0f4c8e"/>
<circle cx="257.20" cy="252.43" r="1.2" fill="#0f4c8e"/>
<circle cx="257.04" cy="281.13" r="1.2" fill="#cc1028"/>
<circle cx="253.19" cy="235.88" r="1.2" fill="#0f4c8e"/>
<circle cx="261.04" cy="235.67" r="1.2" fill="#0f4c8e"/>
<circle cx="254.67" cy="243.31" r="1.2" fill="#0f4c8e"/>
<circle cx="251.05" cy="251.09" r="1.2" fill="#cc1028"/>
<circle cx="259.18" cy="260.29" r="1.2" fill="#cc1028"/>
<circle cx="258.71" cy="241.23" r="1.2" fill="#0f4c8e"/>
<circle cx="256.68" cy="283.06" r="1.2" fill="#cc1028"/>
<circle cx="258.86" cy="267.68" r="1.2" fill="#0f4c8e"/>
<circle cx="257.05" cy="239.65" r="1.2" fill="#0f4c8e"/>
<circle cx="258.91" cy="246.78" r="1.2" fill="#0f4c8e"/>
<circle cx="256.91" cy="290.71" r="1.2" fill="#cc1028"/>
<circle cx="256.84" cy="260.22" r="1.2" fill="#0f4c8e"/>
<circle cx="259.17" cy="250.67" r="1.2" fill="#0f4c8e"/>
<circle cx="254.92" cy="265.70" r="1.2" fill="#cc1028"/>
<circle cx="257.09" cy="254.68" r="1.2" fill="#0f4c8e"/>
<circle cx="260.95" cy="246.85" r="1.2" fill="#0f4c8e"/>
<circle cx="256.66" cy="266.26" r="1.2" fill="#0f4c8e"/>
<circle cx="260.80" cy="256.39" r="1.2" fill="#0f4c8e"/>
<circle cx="257.05" cy="264.07" r="1.2" fill="#0f4c8e"/>
<circle cx="261.02" cy="241.49" r="1.2" fill="#0f4c8e"/>
<circle cx="258.65" cy="262.05" r="1.2" fill="#0f4c8e"/>
<circle cx="256.70" cy="262.17" r="1.2" fill="#0f4c8e"/>
<circle cx="260.75" cy="244.89" r="1.2" fill="#0f4c8e"/>
<circle cx="260.63" cy="250.61" r="1.2" fill="#0f4c8e"/>
<circle cx="259.19" cy="294.70" r="1.2" fill="#cc1028"/>
<circle cx="252.70" cy="258.23" r="1.2" fill="#cc1028"/>
<circle cx="258.69" cy="248.65" r="1.2" fill="#cc1028"/>
<circle cx="260.73" cy="271.84" r="1.2" fill="#0f4c8e"/>
<circle cx="257.10" cy="294.76" r="1.2" fill="#cc1028"/>
<circle cx="254.98" cy="241.27" r="1.2" fill="#0f4c8e"/>
<circle cx="258.73" cy="281.16" r="1.2" fill="#cc1028"/>
<circle cx="260.97" cy="254.68" r="1.2" fill="#0f4c8e"/>
<circle cx="256.72" cy="275.26" r="1.2" fill="#0f4c8e"/>
<circle cx="253.14" cy="252.67" r="1.2" fill="#0f4c8e"/>
<circle cx="257.17" cy="258.61" r="1.2" fill="#0f4c8e"/>
<circle cx="259.08" cy="252.93" r="1.2" fill="#0f4c8e"/>
<circle cx="253.03" cy="237.47" r="1.2" fill="#cc1028"/>
<circle cx="258.98" cy="243.13" r="1.2" fill="#0f4c8e"/>
<circle cx="262.85" cy="254.72" r="1.2" fill="#0f4c8e"/>
<circle cx="257.11" cy="267.76" r="1.2" fill="#0f4c8e"/>
<circle cx="256.88" cy="233.96" r="1.2" fill="#0f4c8e"/>
<circle cx="257.00" cy="290.00" r="1.25" fill="#0f4c8e"/>
<circle cx="256.00" cy="293.50" r="1.25" fill="#0f4c8e"/>
<circle cx="258.00" cy="297.00" r="1.25" fill="#0f4c8e"/>
<circle cx="256.50" cy="305.20" r="1.25" fill="#0f4c8e"/>
<circle cx="257.00" cy="306.00" r="1.25" fill="#cc1028"/>
<circle cx="249.00" cy="318.00" r="1.25" fill="#0f4c8e"/>
<circle cx="250.30" cy="318.00" r="1.25" fill="#0f4c8e"/>
<circle cx="251.60" cy="318.00" r="1.25" fill="#0f4c8e"/>
<circle cx="252.90" cy="318.00" r="1.25" fill="#0f4c8e"/>
<circle cx="254.20" cy="318.00" r="1.25" fill="#0f4c8e"/>
<circle cx="255.50" cy="318.00" r="1.25" fill="#0f4c8e"/>
<circle cx="257.00" cy="318.00" r="1.25" fill="#cc1028"/>
<circle cx="258.30" cy="318.00" r="1.25" fill="#cc1028"/>
<circle cx="259.60" cy="318.00" r="1.25" fill="#cc1028"/>
<circle cx="260.90" cy="318.00" r="1.25" fill="#cc1028"/>
<circle cx="262.20" cy="318.00" r="1.25" fill="#cc1028"/>
<circle cx="263.50" cy="318.00" r="1.25" fill="#cc1028"/>
<circle cx="264.80" cy="318.00" r="1.25" fill="#cc1028"/>
<line x1="256.50" y1="248.50" x2="256.50" y2="283.50" stroke="#555" stroke-width="0.8"/>
<line x1="256.50" y1="234.50" x2="256.50" y2="248.50" stroke="#231f20" stroke-width="1.0"/>
<line x1="256.50" y1="283.50" x2="256.50" y2="318.50" stroke="#231f20" stroke-width="1.0"/>
<line x1="252.50" y1="234.50" x2="262.00" y2="234.50" stroke="#231f20" stroke-width="1.15"/>
<line x1="252.50" y1="318.50" x2="262.00" y2="318.50" stroke="#231f20" stroke-width="1.15"/>
<rect x="248.50" y="248.50" width="17.00" height="35.00" fill="none" stroke="#231f20" stroke-width="1.15"/>
<line x1="248.50" y1="258.50" x2="265.50" y2="258.50" stroke="#231f20" stroke-width="1.15"/>
<circle cx="288.10" cy="271.90" r="1.25" fill="#cc1028"/>
<circle cx="288.10" cy="278.10" r="1.25" fill="#cc1028"/>
<line x1="280.3" y1="318" x2="296.9" y2="318" stroke="#5a2a3a" stroke-width="1.6"/>
<circle cx="320.90" cy="233.10" r="1.25" fill="#cc1028"/>
<circle cx="319.50" cy="263.00" r="1.25" fill="#cc1028"/>
<circle cx="322.00" cy="264.00" r="1.25" fill="#cc1028"/>
<circle cx="321.00" cy="268.00" r="1.25" fill="#cc1028"/>
<circle cx="323.00" cy="274.00" r="1.25" fill="#cc1028"/>
<circle cx="319.80" cy="287.00" r="1.25" fill="#cc1028"/>
<circle cx="321.00" cy="275.00" r="1.25" fill="#cc1028"/>
<circle cx="313.00" cy="318.00" r="1.25" fill="#cc1028"/>
<circle cx="314.30" cy="318.00" r="1.25" fill="#cc1028"/>
<circle cx="315.60" cy="318.00" r="1.25" fill="#cc1028"/>
<circle cx="316.90" cy="318.00" r="1.25" fill="#cc1028"/>
<circle cx="318.20" cy="318.00" r="1.25" fill="#cc1028"/>
<circle cx="319.50" cy="318.00" r="1.25" fill="#cc1028"/>
<circle cx="320.80" cy="318.00" r="1.25" fill="#cc1028"/>
<circle cx="322.10" cy="318.00" r="1.25" fill="#cc1028"/>
<circle cx="323.40" cy="318.00" r="1.25" fill="#cc1028"/>
<circle cx="324.70" cy="318.00" r="1.25" fill="#cc1028"/>
<circle cx="326.00" cy="318.00" r="1.25" fill="#cc1028"/>
<circle cx="327.30" cy="318.00" r="1.25" fill="#cc1028"/>
<circle cx="328.60" cy="318.00" r="1.25" fill="#cc1028"/>
<line x1="320.50" y1="272.50" x2="320.50" y2="318.50" stroke="#555" stroke-width="0.8"/>
<line x1="320.50" y1="233.50" x2="320.50" y2="272.50" stroke="#231f20" stroke-width="1.0"/>
<line x1="316.50" y1="233.50" x2="326.00" y2="233.50" stroke="#231f20" stroke-width="1.15"/>
<line x1="316.50" y1="318.50" x2="326.00" y2="318.50" stroke="#231f20" stroke-width="1.15"/>
<rect x="312.50" y="272.50" width="17.00" height="46.00" fill="none" stroke="#231f20" stroke-width="1.15"/>
<line x1="312.50" y1="318.50" x2="329.50" y2="318.50" stroke="#231f20" stroke-width="1.15"/>
<path d="M256.20,217.60 V215.30 H321.10 V217.60" fill="none" stroke="#555" stroke-width="0.9"/>
<text x="288.60" y="213.10" font-size="8.4" text-anchor="middle" fill="#404040" textLength="33.50" lengthAdjust="spacingAndGlyphs"><tspan font-style="italic">P</tspan>&lt;0.0001</text>
<path d="M256.20,231.20 V228.90 H289.20 V231.20" fill="none" stroke="#555" stroke-width="0.9"/>
<text x="273.00" y="226.90" font-size="8.4" text-anchor="middle" fill="#404040" textLength="33.70" lengthAdjust="spacingAndGlyphs"><tspan font-style="italic">P</tspan>=0.0003</text>
<text x="357.10" y="203.80" font-size="11" text-anchor="start" fill="#111" font-weight="bold">F</text>
<text transform="translate(368.10,269.90) rotate(-90)" font-size="8.6" text-anchor="middle" fill="#404040" textLength="96.50" lengthAdjust="spacingAndGlyphs">No. of  MC-commited CD34<tspan font-size='5.8' dy='-2.8'>+</tspan></text>
<text transform="translate(380.30,270.80) rotate(-90)" font-size="8.6" text-anchor="middle" fill="#404040" textLength="63.60" lengthAdjust="spacingAndGlyphs">cells/mL of PB (log)</text>
<line x1="404.00" y1="215.80" x2="404.00" y2="324.95" stroke="#231f20" stroke-width="1.3"/>
<line x1="403.35" y1="324.30" x2="510.80" y2="324.30" stroke="#231f20" stroke-width="1.3"/>
<line x1="401.20" y1="241.90" x2="404.00" y2="241.90" stroke="#231f20" stroke-width="1"/>
<text x="395.10" y="245.70" font-size="8.8" text-anchor="end" fill="#404040" textLength="7.60" lengthAdjust="spacingAndGlyphs">10</text>
<text x="395.10" y="242.50" font-size="5.8" text-anchor="start" fill="#404040">2</text>
<line x1="401.20" y1="278.70" x2="404.00" y2="278.70" stroke="#231f20" stroke-width="1"/>
<text x="395.10" y="282.50" font-size="8.8" text-anchor="end" fill="#404040" textLength="7.60" lengthAdjust="spacingAndGlyphs">10</text>
<text x="395.10" y="279.30" font-size="5.8" text-anchor="start" fill="#404040">1</text>
<line x1="401.20" y1="307.30" x2="404.00" y2="307.30" stroke="#231f20" stroke-width="1"/>
<text x="397.80" y="310.20" font-size="8.6" text-anchor="end" fill="#404040">1</text>
<line x1="401.20" y1="319.00" x2="404.00" y2="319.00" stroke="#231f20" stroke-width="1"/>
<text x="397.80" y="321.90" font-size="8.6" text-anchor="end" fill="#404040">0</text>
<line x1="429.20" y1="324.30" x2="429.20" y2="327.30" stroke="#231f20" stroke-width="1"/>
<text x="429.90" y="336.90" font-size="8.6" text-anchor="middle" fill="#404040" textLength="18.00" lengthAdjust="spacingAndGlyphs">BMM</text>
<text x="429.40" y="345.30" font-size="8.6" text-anchor="middle" fill="#404040" textLength="33.30" lengthAdjust="spacingAndGlyphs">n=38 vs 3</text>
<line x1="481.40" y1="324.30" x2="481.40" y2="327.30" stroke="#231f20" stroke-width="1"/>
<text x="480.50" y="336.90" font-size="8.6" text-anchor="middle" fill="#404040" textLength="13.00" lengthAdjust="spacingAndGlyphs">ISM</text>
<text x="480.00" y="345.30" font-size="8.6" text-anchor="middle" fill="#404040" textLength="37.40" lengthAdjust="spacingAndGlyphs">n=58 vs 47</text>
<text x="457.20" y="359.10" font-size="9.2" text-anchor="middle" fill="#404040" textLength="65.10" lengthAdjust="spacingAndGlyphs">Diagnostic category</text>
<circle cx="419.52" cy="237.34" r="1.2" fill="#0f4c8e"/>
<circle cx="419.70" cy="244.90" r="1.2" fill="#0f4c8e"/>
<circle cx="417.80" cy="241.27" r="1.2" fill="#0f4c8e"/>
<circle cx="419.27" cy="239.32" r="1.2" fill="#0f4c8e"/>
<circle cx="419.52" cy="258.37" r="1.2" fill="#0f4c8e"/>
<circle cx="419.61" cy="235.85" r="1.2" fill="#0f4c8e"/>
<circle cx="417.28" cy="256.68" r="1.2" fill="#0f4c8e"/>
<circle cx="419.75" cy="247.29" r="1.2" fill="#0f4c8e"/>
<circle cx="417.49" cy="239.62" r="1.2" fill="#0f4c8e"/>
<circle cx="421.22" cy="248.91" r="1.2" fill="#0f4c8e"/>
<circle cx="419.41" cy="230.16" r="1.2" fill="#0f4c8e"/>
<circle cx="421.48" cy="239.11" r="1.2" fill="#0f4c8e"/>
<circle cx="419.22" cy="226.03" r="1.2" fill="#0f4c8e"/>
<circle cx="421.38" cy="233.42" r="1.2" fill="#0f4c8e"/>
<circle cx="419.24" cy="254.65" r="1.2" fill="#0f4c8e"/>
<circle cx="419.48" cy="251.07" r="1.2" fill="#0f4c8e"/>
<circle cx="419.20" cy="231.87" r="1.2" fill="#0f4c8e"/>
<circle cx="419.75" cy="256.40" r="1.2" fill="#0f4c8e"/>
<circle cx="419.49" cy="249.08" r="1.2" fill="#0f4c8e"/>
<circle cx="419.39" cy="241.44" r="1.2" fill="#0f4c8e"/>
<circle cx="419.58" cy="227.86" r="1.2" fill="#0f4c8e"/>
<circle cx="421.48" cy="241.12" r="1.2" fill="#0f4c8e"/>
<circle cx="423.31" cy="254.78" r="1.2" fill="#0f4c8e"/>
<circle cx="415.50" cy="254.73" r="1.2" fill="#0f4c8e"/>
<circle cx="421.33" cy="254.52" r="1.2" fill="#0f4c8e"/>
<circle cx="419.69" cy="233.66" r="1.2" fill="#0f4c8e"/>
<circle cx="421.43" cy="229.80" r="1.2" fill="#0f4c8e"/>
<circle cx="421.27" cy="256.28" r="1.2" fill="#0f4c8e"/>
<circle cx="419.36" cy="243.41" r="1.2" fill="#0f4c8e"/>
<circle cx="415.47" cy="239.32" r="1.2" fill="#0f4c8e"/>
<circle cx="417.50" cy="254.49" r="1.2" fill="#0f4c8e"/>
<circle cx="423.69" cy="239.66" r="1.2" fill="#0f4c8e"/>
<circle cx="419.30" cy="278.70" r="1.25" fill="#0f4c8e"/>
<circle cx="419.50" cy="302.90" r="1.25" fill="#0f4c8e"/>
<circle cx="417.00" cy="319.40" r="1.25" fill="#0f4c8e"/>
<circle cx="418.20" cy="319.40" r="1.25" fill="#0f4c8e"/>
<circle cx="419.40" cy="319.40" r="1.25" fill="#0f4c8e"/>
<circle cx="420.60" cy="319.40" r="1.25" fill="#0f4c8e"/>
<line x1="419.50" y1="225.50" x2="419.50" y2="237.50" stroke="#231f20" stroke-width="1.0"/>
<line x1="419.50" y1="253.50" x2="419.50" y2="258.50" stroke="#231f20" stroke-width="1.0"/>
<line x1="415.50" y1="225.50" x2="424.00" y2="225.50" stroke="#231f20" stroke-width="1.15"/>
<line x1="415.50" y1="258.50" x2="424.00" y2="258.50" stroke="#231f20" stroke-width="1.15"/>
<rect x="410.50" y="237.50" width="18.00" height="16.00" fill="none" stroke="#231f20" stroke-width="1.15"/>
<line x1="410.50" y1="241.50" x2="428.50" y2="241.50" stroke="#231f20" stroke-width="1.15"/>
<circle cx="440.50" cy="246.30" r="1.25" fill="#cc1028"/>
<circle cx="440.50" cy="266.00" r="1.25" fill="#cc1028"/>
<circle cx="440.50" cy="276.50" r="1.25" fill="#cc1028"/>
<line x1="440.50" y1="246.50" x2="440.50" y2="256.50" stroke="#231f20" stroke-width="1.0"/>
<line x1="440.50" y1="271.50" x2="440.50" y2="276.50" stroke="#231f20" stroke-width="1.0"/>
<line x1="436.50" y1="246.50" x2="445.00" y2="246.50" stroke="#231f20" stroke-width="1.15"/>
<line x1="436.50" y1="276.50" x2="445.00" y2="276.50" stroke="#231f20" stroke-width="1.15"/>
<rect x="431.50" y="256.50" width="18.00" height="15.00" fill="none" stroke="#231f20" stroke-width="1.15"/>
<line x1="431.50" y1="266.50" x2="449.50" y2="266.50" stroke="#231f20" stroke-width="1.15"/>
<circle cx="472.68" cy="254.36" r="1.2" fill="#0f4c8e"/>
<circle cx="470.58" cy="229.83" r="1.2" fill="#0f4c8e"/>
<circle cx="470.88" cy="233.54" r="1.2" fill="#0f4c8e"/>
<circle cx="470.96" cy="228.02" r="1.2" fill="#0f4c8e"/>
<circle cx="470.84" cy="252.63" r="1.2" fill="#0f4c8e"/>
<circle cx="472.79" cy="263.84" r="1.2" fill="#0f4c8e"/>
<circle cx="472.83" cy="230.05" r="1.2" fill="#0f4c8e"/>
<circle cx="470.76" cy="248.95" r="1.2" fill="#0f4c8e"/>
<circle cx="471.08" cy="264.29" r="1.2" fill="#0f4c8e"/>
<circle cx="472.63" cy="244.95" r="1.2" fill="#0f4c8e"/>
<circle cx="472.61" cy="258.31" r="1.2" fill="#0f4c8e"/>
<circle cx="468.99" cy="237.73" r="1.2" fill="#0f4c8e"/>
<circle cx="470.51" cy="246.72" r="1.2" fill="#0f4c8e"/>
<circle cx="470.87" cy="242.92" r="1.2" fill="#0f4c8e"/>
<circle cx="472.62" cy="243.48" r="1.2" fill="#0f4c8e"/>
<circle cx="470.57" cy="245.06" r="1.2" fill="#0f4c8e"/>
<circle cx="470.65" cy="226.39" r="1.2" fill="#0f4c8e"/>
<circle cx="473.08" cy="224.11" r="1.2" fill="#0f4c8e"/>
<circle cx="468.69" cy="258.13" r="1.2" fill="#0f4c8e"/>
<circle cx="474.74" cy="258.10" r="1.2" fill="#0f4c8e"/>
<circle cx="472.53" cy="233.73" r="1.2" fill="#0f4c8e"/>
<circle cx="470.74" cy="256.79" r="1.2" fill="#0f4c8e"/>
<circle cx="472.58" cy="251.02" r="1.2" fill="#0f4c8e"/>
<circle cx="470.50" cy="250.71" r="1.2" fill="#0f4c8e"/>
<circle cx="470.58" cy="224.43" r="1.2" fill="#0f4c8e"/>
<circle cx="470.98" cy="241.44" r="1.2" fill="#0f4c8e"/>
<circle cx="473.09" cy="239.68" r="1.2" fill="#0f4c8e"/>
<circle cx="470.66" cy="254.76" r="1.2" fill="#0f4c8e"/>
<circle cx="472.79" cy="228.02" r="1.2" fill="#0f4c8e"/>
<circle cx="470.55" cy="237.75" r="1.2" fill="#0f4c8e"/>
<circle cx="470.74" cy="258.61" r="1.2" fill="#0f4c8e"/>
<circle cx="472.83" cy="237.30" r="1.2" fill="#0f4c8e"/>
<circle cx="474.60" cy="251.01" r="1.2" fill="#0f4c8e"/>
<circle cx="472.70" cy="246.96" r="1.2" fill="#0f4c8e"/>
<circle cx="470.94" cy="239.31" r="1.2" fill="#0f4c8e"/>
<circle cx="468.79" cy="233.92" r="1.2" fill="#0f4c8e"/>
<circle cx="470.90" cy="261.91" r="1.2" fill="#0f4c8e"/>
<circle cx="471.10" cy="260.43" r="1.2" fill="#0f4c8e"/>
<circle cx="472.65" cy="256.65" r="1.2" fill="#0f4c8e"/>
<circle cx="468.63" cy="250.69" r="1.2" fill="#0f4c8e"/>
<circle cx="471.10" cy="231.99" r="1.2" fill="#0f4c8e"/>
<circle cx="468.97" cy="224.33" r="1.2" fill="#0f4c8e"/>
<circle cx="469.05" cy="228.20" r="1.2" fill="#0f4c8e"/>
<circle cx="473.06" cy="262.08" r="1.2" fill="#0f4c8e"/>
<circle cx="470.50" cy="275.50" r="1.25" fill="#0f4c8e"/>
<circle cx="470.90" cy="282.60" r="1.25" fill="#0f4c8e"/>
<circle cx="471.20" cy="291.40" r="1.25" fill="#0f4c8e"/>
<circle cx="467.00" cy="319.80" r="1.25" fill="#0f4c8e"/>
<circle cx="468.20" cy="319.80" r="1.25" fill="#0f4c8e"/>
<circle cx="469.40" cy="319.80" r="1.25" fill="#0f4c8e"/>
<circle cx="470.60" cy="319.80" r="1.25" fill="#0f4c8e"/>
<circle cx="471.80" cy="319.80" r="1.25" fill="#0f4c8e"/>
<circle cx="473.00" cy="319.80" r="1.25" fill="#0f4c8e"/>
<circle cx="474.20" cy="319.80" r="1.25" fill="#0f4c8e"/>
<line x1="470.50" y1="222.50" x2="470.50" y2="232.50" stroke="#231f20" stroke-width="1.0"/>
<line x1="470.50" y1="257.50" x2="470.50" y2="291.50" stroke="#231f20" stroke-width="1.0"/>
<line x1="466.50" y1="222.50" x2="475.00" y2="222.50" stroke="#231f20" stroke-width="1.15"/>
<line x1="466.50" y1="291.50" x2="475.00" y2="291.50" stroke="#231f20" stroke-width="1.15"/>
<rect x="462.50" y="232.50" width="17.00" height="25.00" fill="none" stroke="#231f20" stroke-width="1.15"/>
<line x1="462.50" y1="245.50" x2="479.50" y2="245.50" stroke="#231f20" stroke-width="1.15"/>
<circle cx="491.71" cy="243.45" r="1.2" fill="#cc1028"/>
<circle cx="491.77" cy="294.59" r="1.2" fill="#cc1028"/>
<circle cx="491.63" cy="268.03" r="1.2" fill="#cc1028"/>
<circle cx="491.45" cy="262.40" r="1.2" fill="#cc1028"/>
<circle cx="491.83" cy="273.60" r="1.2" fill="#cc1028"/>
<circle cx="491.50" cy="286.90" r="1.2" fill="#cc1028"/>
<circle cx="491.89" cy="241.36" r="1.2" fill="#cc1028"/>
<circle cx="493.85" cy="262.41" r="1.2" fill="#cc1028"/>
<circle cx="491.62" cy="256.42" r="1.2" fill="#cc1028"/>
<circle cx="491.40" cy="303.79" r="1.2" fill="#cc1028"/>
<circle cx="491.44" cy="292.52" r="1.2" fill="#cc1028"/>
<circle cx="493.61" cy="239.67" r="1.2" fill="#cc1028"/>
<circle cx="491.78" cy="266.18" r="1.2" fill="#cc1028"/>
<circle cx="491.79" cy="301.87" r="1.2" fill="#cc1028"/>
<circle cx="491.35" cy="248.92" r="1.2" fill="#cc1028"/>
<circle cx="491.33" cy="247.14" r="1.2" fill="#cc1028"/>
<circle cx="491.76" cy="296.12" r="1.2" fill="#cc1028"/>
<circle cx="491.32" cy="275.20" r="1.2" fill="#cc1028"/>
<circle cx="491.35" cy="285.02" r="1.2" fill="#cc1028"/>
<circle cx="491.88" cy="280.91" r="1.2" fill="#cc1028"/>
<circle cx="491.42" cy="252.64" r="1.2" fill="#cc1028"/>
<circle cx="491.39" cy="254.82" r="1.2" fill="#cc1028"/>
<circle cx="491.80" cy="279.27" r="1.2" fill="#cc1028"/>
<circle cx="491.72" cy="239.12" r="1.2" fill="#cc1028"/>
<circle cx="491.60" cy="223.70" r="1.25" fill="#cc1028"/>
<circle cx="485.00" cy="319.10" r="1.25" fill="#cc1028"/>
<circle cx="486.30" cy="319.10" r="1.25" fill="#cc1028"/>
<circle cx="487.60" cy="319.10" r="1.25" fill="#cc1028"/>
<circle cx="488.90" cy="319.10" r="1.25" fill="#cc1028"/>
<circle cx="490.20" cy="319.10" r="1.25" fill="#cc1028"/>
<circle cx="491.50" cy="319.10" r="1.25" fill="#cc1028"/>
<circle cx="492.80" cy="319.10" r="1.25" fill="#cc1028"/>
<circle cx="494.10" cy="319.10" r="1.25" fill="#cc1028"/>
<circle cx="495.40" cy="319.10" r="1.25" fill="#cc1028"/>
<circle cx="496.70" cy="319.10" r="1.25" fill="#cc1028"/>
<circle cx="498.00" cy="319.10" r="1.25" fill="#cc1028"/>
<line x1="491.50" y1="255.50" x2="491.50" y2="319.50" stroke="#555" stroke-width="0.8"/>
<line x1="491.50" y1="223.50" x2="491.50" y2="255.50" stroke="#231f20" stroke-width="1.0"/>
<line x1="487.50" y1="223.50" x2="496.00" y2="223.50" stroke="#231f20" stroke-width="1.15"/>
<line x1="487.50" y1="319.50" x2="496.00" y2="319.50" stroke="#231f20" stroke-width="1.15"/>
<rect x="482.50" y="255.50" width="18.00" height="64.00" fill="none" stroke="#231f20" stroke-width="1.15"/>
<line x1="482.50" y1="287.50" x2="500.50" y2="287.50" stroke="#231f20" stroke-width="1.15"/>
<path d="M470.90,219.80 V216.70 H490.70 V219.80" fill="none" stroke="#555" stroke-width="0.9"/>
<text x="480.70" y="214.50" font-size="8.4" text-anchor="middle" fill="#404040" textLength="32.60" lengthAdjust="spacingAndGlyphs"><tspan font-style="italic">P</tspan>&lt;0.0001</text>
<text x="8.10" y="384.40" font-size="11" text-anchor="start" fill="#111" font-weight="bold">G</text>
<text transform="translate(18.40,461.20) rotate(-90)" font-size="8.6" text-anchor="middle" fill="#404040" textLength="104.70" lengthAdjust="spacingAndGlyphs">% of MC-commited CD34<tspan font-size='5.8' dy='-2.8'>+</tspan><tspan dy='2.8'> cells</tspan></text>
<text transform="translate(30.30,462.70) rotate(-90)" font-size="8.6" text-anchor="middle" fill="#404040" textLength="95.40" lengthAdjust="spacingAndGlyphs">from all PB CD34<tspan font-size='5.8' dy='-2.8'>+</tspan><tspan dy='2.8'> HPC (log)</tspan></text>
<line x1="56.50" y1="407.50" x2="56.50" y2="515.95" stroke="#231f20" stroke-width="1.3"/>
<line x1="55.85" y1="515.30" x2="178.90" y2="515.30" stroke="#231f20" stroke-width="1.3"/>
<line x1="53.70" y1="442.10" x2="56.50" y2="442.10" stroke="#231f20" stroke-width="1"/>
<text x="50.30" y="445.00" font-size="8.6" text-anchor="end" fill="#404040">10</text>
<line x1="53.70" y1="490.20" x2="56.50" y2="490.20" stroke="#231f20" stroke-width="1"/>
<text x="50.30" y="493.10" font-size="8.6" text-anchor="end" fill="#404040">1</text>
<line x1="53.70" y1="510.10" x2="56.50" y2="510.10" stroke="#231f20" stroke-width="1"/>
<text x="50.30" y="513.00" font-size="8.6" text-anchor="end" fill="#404040">0</text>
<line x1="74.60" y1="515.30" x2="74.60" y2="518.30" stroke="#231f20" stroke-width="1"/>
<text x="74.60" y="527.90" font-size="8.6" text-anchor="middle" fill="#404040" textLength="11.60" lengthAdjust="spacingAndGlyphs">HD</text>
<text x="74.60" y="536.30" font-size="8.6" text-anchor="middle" fill="#404040" textLength="21.40" lengthAdjust="spacingAndGlyphs">(n=14)</text>
<line x1="102.70" y1="515.30" x2="102.70" y2="518.30" stroke="#231f20" stroke-width="1"/>
<text x="102.70" y="527.90" font-size="8.6" text-anchor="middle" fill="#404040" textLength="21.30" lengthAdjust="spacingAndGlyphs">MCAS</text>
<text x="102.70" y="536.30" font-size="8.6" text-anchor="middle" fill="#404040" textLength="22.30" lengthAdjust="spacingAndGlyphs">(n=21)</text>
<line x1="133.50" y1="515.30" x2="133.50" y2="518.30" stroke="#231f20" stroke-width="1"/>
<text x="133.50" y="527.90" font-size="8.6" text-anchor="middle" fill="#404040" textLength="12.00" lengthAdjust="spacingAndGlyphs">CM</text>
<text x="133.50" y="536.30" font-size="8.6" text-anchor="middle" fill="#404040" textLength="21.40" lengthAdjust="spacingAndGlyphs">(n=13)</text>
<line x1="166.50" y1="515.30" x2="166.50" y2="518.30" stroke="#231f20" stroke-width="1"/>
<text x="166.50" y="527.90" font-size="8.6" text-anchor="middle" fill="#404040" textLength="11.60" lengthAdjust="spacingAndGlyphs">SM</text>
<text x="166.50" y="536.30" font-size="8.6" text-anchor="middle" fill="#404040" textLength="25.80" lengthAdjust="spacingAndGlyphs">(n=180)</text>
<text x="116.60" y="550.10" font-size="9.2" text-anchor="middle" fill="#404040" textLength="64.70" lengthAdjust="spacingAndGlyphs">Diagnostic category</text>
<circle cx="74.51" cy="473.06" r="1.2" fill="#0f4c8e"/>
<circle cx="74.65" cy="488.11" r="1.2" fill="#0f4c8e"/>
<circle cx="74.99" cy="463.51" r="1.2" fill="#0f4c8e"/>
<circle cx="74.55" cy="497.89" r="1.2" fill="#0f4c8e"/>
<circle cx="74.93" cy="492.40" r="1.2" fill="#0f4c8e"/>
<circle cx="74.82" cy="471.16" r="1.2" fill="#0f4c8e"/>
<circle cx="74.98" cy="477.16" r="1.2" fill="#0f4c8e"/>
<circle cx="74.80" cy="480.79" r="1.2" fill="#0f4c8e"/>
<circle cx="74.79" cy="486.68" r="1.2" fill="#0f4c8e"/>
<circle cx="74.56" cy="461.77" r="1.2" fill="#0f4c8e"/>
<circle cx="74.72" cy="499.97" r="1.2" fill="#0f4c8e"/>
<circle cx="76.87" cy="461.90" r="1.2" fill="#0f4c8e"/>
<circle cx="75.07" cy="467.55" r="1.2" fill="#0f4c8e"/>
<circle cx="74.80" cy="510.10" r="1.25" fill="#0f4c8e"/>
<line x1="74.50" y1="460.50" x2="74.50" y2="465.50" stroke="#231f20" stroke-width="1.0"/>
<line x1="74.50" y1="490.50" x2="74.50" y2="510.50" stroke="#231f20" stroke-width="1.0"/>
<line x1="70.50" y1="460.50" x2="79.00" y2="460.50" stroke="#231f20" stroke-width="1.15"/>
<line x1="70.50" y1="510.50" x2="79.00" y2="510.50" stroke="#231f20" stroke-width="1.15"/>
<rect x="66.50" y="465.50" width="17.00" height="25.00" fill="none" stroke="#231f20" stroke-width="1.15"/>
<line x1="66.50" y1="478.50" x2="83.50" y2="478.50" stroke="#231f20" stroke-width="1.15"/>
<circle cx="103.01" cy="448.46" r="1.2" fill="#0f4c8e"/>
<circle cx="102.84" cy="452.17" r="1.2" fill="#0f4c8e"/>
<circle cx="102.89" cy="437.29" r="1.2" fill="#0f4c8e"/>
<circle cx="102.90" cy="469.25" r="1.2" fill="#0f4c8e"/>
<circle cx="102.75" cy="457.95" r="1.2" fill="#0f4c8e"/>
<circle cx="102.67" cy="414.34" r="1.2" fill="#0f4c8e"/>
<circle cx="103.12" cy="438.93" r="1.2" fill="#0f4c8e"/>
<circle cx="102.91" cy="471.15" r="1.2" fill="#0f4c8e"/>
<circle cx="102.92" cy="431.10" r="1.2" fill="#0f4c8e"/>
<circle cx="102.71" cy="427.61" r="1.2" fill="#0f4c8e"/>
<circle cx="102.97" cy="473.10" r="1.2" fill="#0f4c8e"/>
<circle cx="103.18" cy="461.41" r="1.2" fill="#0f4c8e"/>
<circle cx="102.88" cy="450.46" r="1.2" fill="#0f4c8e"/>
<circle cx="102.95" cy="423.56" r="1.2" fill="#0f4c8e"/>
<circle cx="102.63" cy="444.60" r="1.2" fill="#0f4c8e"/>
<circle cx="103.18" cy="465.65" r="1.2" fill="#0f4c8e"/>
<circle cx="102.82" cy="467.15" r="1.2" fill="#0f4c8e"/>
<circle cx="102.94" cy="419.99" r="1.2" fill="#0f4c8e"/>
<circle cx="102.72" cy="442.63" r="1.2" fill="#0f4c8e"/>
<circle cx="104.88" cy="461.59" r="1.2" fill="#0f4c8e"/>
<circle cx="102.50" cy="510.10" r="1.25" fill="#0f4c8e"/>
<line x1="102.50" y1="414.50" x2="102.50" y2="435.50" stroke="#231f20" stroke-width="1.0"/>
<line x1="102.50" y1="464.50" x2="102.50" y2="473.50" stroke="#231f20" stroke-width="1.0"/>
<line x1="98.50" y1="414.50" x2="107.00" y2="414.50" stroke="#231f20" stroke-width="1.15"/>
<line x1="98.50" y1="473.50" x2="107.00" y2="473.50" stroke="#231f20" stroke-width="1.15"/>
<rect x="94.50" y="435.50" width="17.00" height="29.00" fill="none" stroke="#231f20" stroke-width="1.15"/>
<line x1="94.50" y1="449.50" x2="111.50" y2="449.50" stroke="#231f20" stroke-width="1.15"/>
<circle cx="133.74" cy="478.97" r="1.2" fill="#0f4c8e"/>
<circle cx="133.82" cy="436.80" r="1.2" fill="#0f4c8e"/>
<circle cx="133.77" cy="429.56" r="1.2" fill="#0f4c8e"/>
<circle cx="133.98" cy="442.49" r="1.2" fill="#0f4c8e"/>
<circle cx="133.67" cy="432.95" r="1.2" fill="#0f4c8e"/>
<circle cx="133.55" cy="451.91" r="1.2" fill="#0f4c8e"/>
<circle cx="133.72" cy="472.82" r="1.2" fill="#0f4c8e"/>
<circle cx="134.07" cy="444.41" r="1.2" fill="#0f4c8e"/>
<circle cx="133.81" cy="435.22" r="1.2" fill="#0f4c8e"/>
<circle cx="133.91" cy="431.26" r="1.2" fill="#0f4c8e"/>
<circle cx="133.87" cy="467.13" r="1.2" fill="#0f4c8e"/>
<circle cx="133.97" cy="476.76" r="1.2" fill="#0f4c8e"/>
<circle cx="133.94" cy="457.99" r="1.2" fill="#0f4c8e"/>
<line x1="133.50" y1="428.50" x2="133.50" y2="434.50" stroke="#231f20" stroke-width="1.0"/>
<line x1="133.50" y1="468.50" x2="133.50" y2="481.50" stroke="#231f20" stroke-width="1.0"/>
<line x1="129.50" y1="428.50" x2="138.00" y2="428.50" stroke="#231f20" stroke-width="1.15"/>
<line x1="129.50" y1="481.50" x2="138.00" y2="481.50" stroke="#231f20" stroke-width="1.15"/>
<rect x="125.50" y="434.50" width="17.00" height="34.00" fill="none" stroke="#231f20" stroke-width="1.15"/>
<line x1="125.50" y1="445.50" x2="142.50" y2="445.50" stroke="#231f20" stroke-width="1.15"/>
<circle cx="168.51" cy="454.21" r="1.2" fill="#0f4c8e"/>
<circle cx="160.58" cy="458.18" r="1.2" fill="#cc1028"/>
<circle cx="162.59" cy="484.35" r="1.2" fill="#0f4c8e"/>
<circle cx="164.42" cy="453.85" r="1.2" fill="#0f4c8e"/>
<circle cx="162.52" cy="492.14" r="1.2" fill="#cc1028"/>
<circle cx="166.34" cy="429.70" r="1.2" fill="#0f4c8e"/>
<circle cx="168.54" cy="499.98" r="1.2" fill="#cc1028"/>
<circle cx="170.43" cy="463.64" r="1.2" fill="#0f4c8e"/>
<circle cx="160.77" cy="473.24" r="1.2" fill="#cc1028"/>
<circle cx="166.30" cy="497.63" r="1.2" fill="#cc1028"/>
<circle cx="168.68" cy="486.22" r="1.2" fill="#cc1028"/>
<circle cx="166.71" cy="495.76" r="1.2" fill="#cc1028"/>
<circle cx="168.52" cy="452.28" r="1.2" fill="#0f4c8e"/>
<circle cx="166.78" cy="438.70" r="1.2" fill="#0f4c8e"/>
<circle cx="160.42" cy="467.69" r="1.2" fill="#cc1028"/>
<circle cx="164.63" cy="461.74" r="1.2" fill="#0f4c8e"/>
<circle cx="170.48" cy="476.91" r="1.2" fill="#cc1028"/>
<circle cx="162.65" cy="486.18" r="1.2" fill="#0f4c8e"/>
<circle cx="170.59" cy="471.08" r="1.2" fill="#0f4c8e"/>
<circle cx="166.50" cy="465.22" r="1.2" fill="#cc1028"/>
<circle cx="170.75" cy="478.84" r="1.2" fill="#0f4c8e"/>
<circle cx="166.67" cy="442.58" r="1.2" fill="#0f4c8e"/>
<circle cx="162.60" cy="453.82" r="1.2" fill="#0f4c8e"/>
<circle cx="168.79" cy="490.18" r="1.2" fill="#0f4c8e"/>
<circle cx="166.61" cy="467.53" r="1.2" fill="#0f4c8e"/>
<circle cx="168.63" cy="484.36" r="1.2" fill="#cc1028"/>
<circle cx="164.36" cy="480.57" r="1.2" fill="#0f4c8e"/>
<circle cx="164.26" cy="446.24" r="1.2" fill="#0f4c8e"/>
<circle cx="166.26" cy="471.27" r="1.2" fill="#0f4c8e"/>
<circle cx="170.47" cy="454.29" r="1.2" fill="#cc1028"/>
<circle cx="166.76" cy="473.24" r="1.2" fill="#cc1028"/>
<circle cx="168.63" cy="440.81" r="1.2" fill="#cc1028"/>
<circle cx="170.48" cy="484.54" r="1.2" fill="#0f4c8e"/>
<circle cx="166.34" cy="432.92" r="1.2" fill="#0f4c8e"/>
<circle cx="164.26" cy="476.70" r="1.2" fill="#0f4c8e"/>
<circle cx="162.49" cy="457.71" r="1.2" fill="#0f4c8e"/>
<circle cx="168.45" cy="438.92" r="1.2" fill="#0f4c8e"/>
<circle cx="170.42" cy="488.29" r="1.2" fill="#0f4c8e"/>
<circle cx="172.70" cy="453.83" r="1.2" fill="#0f4c8e"/>
<circle cx="170.58" cy="465.50" r="1.2" fill="#0f4c8e"/>
<circle cx="168.21" cy="492.01" r="1.2" fill="#cc1028"/>
<circle cx="160.30" cy="478.98" r="1.2" fill="#0f4c8e"/>
<circle cx="174.68" cy="473.12" r="1.2" fill="#0f4c8e"/>
<circle cx="164.54" cy="465.38" r="1.2" fill="#cc1028"/>
<circle cx="168.28" cy="450.09" r="1.2" fill="#cc1028"/>
<circle cx="170.25" cy="461.59" r="1.2" fill="#0f4c8e"/>
<circle cx="172.54" cy="478.77" r="1.2" fill="#cc1028"/>
<circle cx="170.58" cy="473.26" r="1.2" fill="#0f4c8e"/>
<circle cx="170.70" cy="491.80" r="1.2" fill="#0f4c8e"/>
<circle cx="168.75" cy="461.99" r="1.2" fill="#0f4c8e"/>
<circle cx="168.77" cy="469.27" r="1.2" fill="#0f4c8e"/>
<circle cx="166.36" cy="427.71" r="1.2" fill="#0f4c8e"/>
<circle cx="170.25" cy="480.81" r="1.2" fill="#cc1028"/>
<circle cx="166.36" cy="463.85" r="1.2" fill="#0f4c8e"/>
<circle cx="162.58" cy="482.31" r="1.2" fill="#cc1028"/>
<circle cx="162.36" cy="490.50" r="1.2" fill="#cc1028"/>
<circle cx="168.25" cy="480.71" r="1.2" fill="#0f4c8e"/>
<circle cx="166.77" cy="480.78" r="1.2" fill="#cc1028"/>
<circle cx="168.32" cy="467.50" r="1.2" fill="#0f4c8e"/>
<circle cx="172.63" cy="465.73" r="1.2" fill="#0f4c8e"/>
<circle cx="162.67" cy="488.11" r="1.2" fill="#cc1028"/>
<circle cx="170.73" cy="475.00" r="1.2" fill="#cc1028"/>
<circle cx="168.49" cy="465.76" r="1.2" fill="#0f4c8e"/>
<circle cx="172.55" cy="467.21" r="1.2" fill="#0f4c8e"/>
<circle cx="168.28" cy="458.17" r="1.2" fill="#0f4c8e"/>
<circle cx="166.58" cy="490.18" r="1.2" fill="#0f4c8e"/>
<circle cx="172.24" cy="482.80" r="1.2" fill="#0f4c8e"/>
<circle cx="166.30" cy="476.76" r="1.2" fill="#0f4c8e"/>
<circle cx="172.63" cy="473.00" r="1.2" fill="#0f4c8e"/>
<circle cx="164.36" cy="463.78" r="1.2" fill="#0f4c8e"/>
<circle cx="166.31" cy="499.80" r="1.2" fill="#cc1028"/>
<circle cx="170.61" cy="482.80" r="1.2" fill="#0f4c8e"/>
<circle cx="166.23" cy="452.01" r="1.2" fill="#cc1028"/>
<circle cx="168.78" cy="478.63" r="1.2" fill="#0f4c8e"/>
<circle cx="162.53" cy="469.51" r="1.2" fill="#cc1028"/>
<circle cx="162.40" cy="461.45" r="1.2" fill="#0f4c8e"/>
<circle cx="166.69" cy="454.12" r="1.2" fill="#0f4c8e"/>
<circle cx="162.63" cy="473.10" r="1.2" fill="#0f4c8e"/>
<circle cx="162.24" cy="474.72" r="1.2" fill="#0f4c8e"/>
<circle cx="172.65" cy="458.16" r="1.2" fill="#0f4c8e"/>
<circle cx="168.76" cy="448.59" r="1.2" fill="#0f4c8e"/>
<circle cx="166.26" cy="456.23" r="1.2" fill="#0f4c8e"/>
<circle cx="160.62" cy="469.32" r="1.2" fill="#0f4c8e"/>
<circle cx="166.32" cy="459.95" r="1.2" fill="#0f4c8e"/>
<circle cx="172.43" cy="461.62" r="1.2" fill="#cc1028"/>
<circle cx="170.47" cy="457.82" r="1.2" fill="#cc1028"/>
<circle cx="166.79" cy="425.88" r="1.2" fill="#0f4c8e"/>
<circle cx="166.45" cy="457.64" r="1.2" fill="#0f4c8e"/>
<circle cx="164.57" cy="475.13" r="1.2" fill="#0f4c8e"/>
<circle cx="168.29" cy="471.01" r="1.2" fill="#0f4c8e"/>
<circle cx="162.59" cy="480.56" r="1.2" fill="#0f4c8e"/>
<circle cx="164.35" cy="472.91" r="1.2" fill="#cc1028"/>
<circle cx="166.75" cy="469.28" r="1.2" fill="#0f4c8e"/>
<circle cx="164.32" cy="486.61" r="1.2" fill="#cc1028"/>
<circle cx="164.27" cy="440.76" r="1.2" fill="#0f4c8e"/>
<circle cx="164.64" cy="490.00" r="1.2" fill="#cc1028"/>
<circle cx="166.21" cy="421.63" r="1.2" fill="#0f4c8e"/>
<circle cx="166.71" cy="448.26" r="1.2" fill="#cc1028"/>
<circle cx="168.53" cy="482.38" r="1.2" fill="#0f4c8e"/>
<circle cx="166.44" cy="461.47" r="1.2" fill="#cc1028"/>
<circle cx="166.30" cy="434.99" r="1.2" fill="#0f4c8e"/>
<circle cx="164.65" cy="482.32" r="1.2" fill="#0f4c8e"/>
<circle cx="168.49" cy="477.01" r="1.2" fill="#0f4c8e"/>
<circle cx="164.77" cy="469.19" r="1.2" fill="#cc1028"/>
<circle cx="166.79" cy="484.59" r="1.2" fill="#0f4c8e"/>
<circle cx="166.69" cy="486.51" r="1.2" fill="#0f4c8e"/>
<circle cx="168.21" cy="455.89" r="1.2" fill="#0f4c8e"/>
<circle cx="162.50" cy="478.96" r="1.2" fill="#0f4c8e"/>
<circle cx="168.38" cy="474.84" r="1.2" fill="#0f4c8e"/>
<circle cx="172.71" cy="469.11" r="1.2" fill="#0f4c8e"/>
<circle cx="166.31" cy="482.89" r="1.2" fill="#cc1028"/>
<circle cx="166.39" cy="493.87" r="1.2" fill="#cc1028"/>
<circle cx="168.46" cy="473.39" r="1.2" fill="#0f4c8e"/>
<circle cx="168.60" cy="446.31" r="1.2" fill="#0f4c8e"/>
<circle cx="166.53" cy="450.34" r="1.2" fill="#0f4c8e"/>
<circle cx="164.58" cy="491.93" r="1.2" fill="#cc1028"/>
<circle cx="170.67" cy="467.19" r="1.2" fill="#0f4c8e"/>
<circle cx="166.71" cy="492.12" r="1.2" fill="#0f4c8e"/>
<circle cx="166.50" cy="478.53" r="1.2" fill="#cc1028"/>
<circle cx="162.45" cy="467.17" r="1.2" fill="#cc1028"/>
<circle cx="168.61" cy="435.01" r="1.2" fill="#0f4c8e"/>
<circle cx="164.29" cy="471.34" r="1.2" fill="#cc1028"/>
<circle cx="166.51" cy="474.81" r="1.2" fill="#0f4c8e"/>
<circle cx="166.23" cy="444.64" r="1.2" fill="#0f4c8e"/>
<circle cx="166.35" cy="441.07" r="1.2" fill="#0f4c8e"/>
<circle cx="164.61" cy="478.71" r="1.2" fill="#cc1028"/>
<circle cx="168.20" cy="459.82" r="1.2" fill="#0f4c8e"/>
<circle cx="164.39" cy="444.90" r="1.2" fill="#cc1028"/>
<circle cx="164.53" cy="457.74" r="1.2" fill="#0f4c8e"/>
<circle cx="168.40" cy="419.78" r="1.2" fill="#0f4c8e"/>
<circle cx="168.67" cy="421.57" r="1.2" fill="#0f4c8e"/>
<circle cx="170.42" cy="490.28" r="1.2" fill="#0f4c8e"/>
<circle cx="168.24" cy="444.49" r="1.2" fill="#cc1028"/>
<circle cx="168.22" cy="423.56" r="1.2" fill="#0f4c8e"/>
<circle cx="170.38" cy="459.78" r="1.2" fill="#0f4c8e"/>
<circle cx="164.66" cy="484.72" r="1.2" fill="#cc1028"/>
<circle cx="164.30" cy="467.25" r="1.2" fill="#0f4c8e"/>
<circle cx="164.33" cy="455.83" r="1.2" fill="#0f4c8e"/>
<circle cx="168.31" cy="488.18" r="1.2" fill="#0f4c8e"/>
<circle cx="162.50" cy="465.58" r="1.2" fill="#0f4c8e"/>
<circle cx="170.46" cy="486.11" r="1.2" fill="#0f4c8e"/>
<circle cx="166.25" cy="488.08" r="1.2" fill="#0f4c8e"/>
<circle cx="168.30" cy="495.85" r="1.2" fill="#cc1028"/>
<circle cx="166.58" cy="446.37" r="1.2" fill="#0f4c8e"/>
<circle cx="168.53" cy="429.52" r="1.2" fill="#0f4c8e"/>
<circle cx="166.47" cy="423.70" r="1.2" fill="#0f4c8e"/>
<circle cx="164.29" cy="488.51" r="1.2" fill="#cc1028"/>
<circle cx="164.28" cy="459.69" r="1.2" fill="#0f4c8e"/>
<circle cx="168.42" cy="497.69" r="1.2" fill="#cc1028"/>
<circle cx="166.46" cy="419.78" r="1.2" fill="#0f4c8e"/>
<circle cx="170.51" cy="469.34" r="1.2" fill="#0f4c8e"/>
<circle cx="168.31" cy="463.80" r="1.2" fill="#0f4c8e"/>
<circle cx="166.32" cy="431.20" r="1.2" fill="#0f4c8e"/>
<circle cx="166.80" cy="494.00" r="1.25" fill="#cc1028"/>
<circle cx="166.00" cy="498.00" r="1.25" fill="#cc1028"/>
<circle cx="167.50" cy="503.00" r="1.25" fill="#cc1028"/>
<circle cx="166.40" cy="506.00" r="1.25" fill="#cc1028"/>
<circle cx="166.20" cy="500.50" r="1.25" fill="#0f4c8e"/>
<circle cx="160.00" cy="510.40" r="1.25" fill="#0f4c8e"/>
<circle cx="161.20" cy="510.40" r="1.25" fill="#0f4c8e"/>
<circle cx="162.40" cy="510.40" r="1.25" fill="#0f4c8e"/>
<circle cx="163.60" cy="510.40" r="1.25" fill="#0f4c8e"/>
<circle cx="164.80" cy="510.40" r="1.25" fill="#0f4c8e"/>
<circle cx="166.00" cy="510.40" r="1.25" fill="#0f4c8e"/>
<circle cx="167.00" cy="510.40" r="1.25" fill="#cc1028"/>
<circle cx="168.20" cy="510.40" r="1.25" fill="#cc1028"/>
<circle cx="169.40" cy="510.40" r="1.25" fill="#cc1028"/>
<circle cx="170.60" cy="510.40" r="1.25" fill="#cc1028"/>
<circle cx="171.80" cy="510.40" r="1.25" fill="#cc1028"/>
<circle cx="173.00" cy="510.40" r="1.25" fill="#cc1028"/>
<line x1="166.50" y1="456.50" x2="166.50" y2="510.50" stroke="#555" stroke-width="0.8"/>
<line x1="166.50" y1="417.50" x2="166.50" y2="456.50" stroke="#231f20" stroke-width="1.0"/>
<line x1="162.50" y1="417.50" x2="171.00" y2="417.50" stroke="#231f20" stroke-width="1.15"/>
<line x1="162.50" y1="510.50" x2="171.00" y2="510.50" stroke="#231f20" stroke-width="1.15"/>
<rect x="157.50" y="456.50" width="18.00" height="54.00" fill="none" stroke="#231f20" stroke-width="1.15"/>
<line x1="157.50" y1="472.50" x2="175.50" y2="472.50" stroke="#231f20" stroke-width="1.15"/>
<path d="M102.70,387.70 V385.40 H165.70 V387.70" fill="none" stroke="#555" stroke-width="0.9"/>
<text x="134.20" y="383.20" font-size="8.4" text-anchor="middle" fill="#404040" textLength="33.00" lengthAdjust="spacingAndGlyphs"><tspan font-style="italic">P</tspan>&lt;0.0001</text>
<path d="M74.30,400.40 V398.10 H133.40 V400.40" fill="none" stroke="#555" stroke-width="0.9"/>
<text x="103.80" y="396.30" font-size="8.4" text-anchor="middle" fill="#404040" textLength="29.10" lengthAdjust="spacingAndGlyphs"><tspan font-style="italic">P</tspan>=0.001</text>
<path d="M74.30,412.30 V410.10 H102.70 V412.30" fill="none" stroke="#555" stroke-width="0.9"/>
<text x="88.20" y="408.60" font-size="8.4" text-anchor="middle" fill="#404040" textLength="33.50" lengthAdjust="spacingAndGlyphs"><tspan font-style="italic">P</tspan>=0.0003</text>
<path d="M133.40,414.50 V412.00 H165.70 V414.50" fill="none" stroke="#555" stroke-width="0.9"/>
<text x="150.00" y="411.90" font-size="8.4" text-anchor="middle" fill="#404040" textLength="24.40" lengthAdjust="spacingAndGlyphs"><tspan font-style="italic">P</tspan>=0.03</text>
<text x="192.30" y="384.40" font-size="11" text-anchor="start" fill="#111" font-weight="bold">H</text>
<text transform="translate(202.10,461.20) rotate(-90)" font-size="8.6" text-anchor="middle" fill="#404040" textLength="104.70" lengthAdjust="spacingAndGlyphs">% of MC-commited CD34<tspan font-size='5.8' dy='-2.8'>+</tspan><tspan dy='2.8'> cells</tspan></text>
<text transform="translate(214.30,462.70) rotate(-90)" font-size="8.6" text-anchor="middle" fill="#404040" textLength="95.40" lengthAdjust="spacingAndGlyphs">from all PB CD34<tspan font-size='5.8' dy='-2.8'>+</tspan><tspan dy='2.8'> HPC (log)</tspan></text>
<line x1="239.75" y1="407.00" x2="239.75" y2="515.95" stroke="#231f20" stroke-width="1.3"/>
<line x1="239.10" y1="515.30" x2="346.50" y2="515.30" stroke="#231f20" stroke-width="1.3"/>
<line x1="236.95" y1="435.90" x2="239.75" y2="435.90" stroke="#231f20" stroke-width="1"/>
<text x="233.55" y="438.80" font-size="8.6" text-anchor="end" fill="#404040">10</text>
<line x1="236.95" y1="488.30" x2="239.75" y2="488.30" stroke="#231f20" stroke-width="1"/>
<text x="233.55" y="491.20" font-size="8.6" text-anchor="end" fill="#404040">1</text>
<line x1="236.95" y1="509.80" x2="239.75" y2="509.80" stroke="#231f20" stroke-width="1"/>
<text x="233.55" y="512.70" font-size="8.6" text-anchor="end" fill="#404040">0</text>
<line x1="258.20" y1="515.30" x2="258.20" y2="518.30" stroke="#231f20" stroke-width="1"/>
<text x="258.20" y="527.90" font-size="8.6" text-anchor="middle" fill="#404040" textLength="35.00" lengthAdjust="spacingAndGlyphs">BMM+ISM</text>
<text x="258.20" y="536.30" font-size="8.6" text-anchor="middle" fill="#404040" textLength="25.60" lengthAdjust="spacingAndGlyphs">(n=146)</text>
<line x1="288.80" y1="515.30" x2="288.80" y2="518.30" stroke="#231f20" stroke-width="1"/>
<text x="288.80" y="527.90" font-size="8.6" text-anchor="middle" fill="#404040" textLength="15.30" lengthAdjust="spacingAndGlyphs">SSM</text>
<text x="288.80" y="536.30" font-size="8.6" text-anchor="middle" fill="#404040" textLength="17.50" lengthAdjust="spacingAndGlyphs">(n=9)</text>
<line x1="320.30" y1="515.30" x2="320.30" y2="518.30" stroke="#231f20" stroke-width="1"/>
<text x="320.30" y="527.90" font-size="8.6" text-anchor="middle" fill="#404040" textLength="24.00" lengthAdjust="spacingAndGlyphs">AdvSM</text>
<text x="320.30" y="536.30" font-size="8.6" text-anchor="middle" fill="#404040" textLength="21.40" lengthAdjust="spacingAndGlyphs">(n=25)</text>
<text x="292.00" y="550.10" font-size="9.2" text-anchor="middle" fill="#404040" textLength="65.80" lengthAdjust="spacingAndGlyphs">Diagnostic category</text>
<circle cx="264.89" cy="450.02" r="1.2" fill="#0f4c8e"/>
<circle cx="260.31" cy="499.47" r="1.2" fill="#cc1028"/>
<circle cx="260.85" cy="448.11" r="1.2" fill="#0f4c8e"/>
<circle cx="258.85" cy="488.58" r="1.2" fill="#0f4c8e"/>
<circle cx="264.51" cy="469.32" r="1.2" fill="#0f4c8e"/>
<circle cx="256.31" cy="476.77" r="1.2" fill="#0f4c8e"/>
<circle cx="258.75" cy="457.65" r="1.2" fill="#0f4c8e"/>
<circle cx="262.76" cy="440.77" r="1.2" fill="#cc1028"/>
<circle cx="260.66" cy="412.02" r="1.2" fill="#0f4c8e"/>
<circle cx="260.53" cy="444.45" r="1.2" fill="#0f4c8e"/>
<circle cx="258.80" cy="478.82" r="1.2" fill="#cc1028"/>
<circle cx="260.89" cy="456.26" r="1.2" fill="#0f4c8e"/>
<circle cx="258.50" cy="497.86" r="1.2" fill="#0f4c8e"/>
<circle cx="262.42" cy="422.10" r="1.2" fill="#0f4c8e"/>
<circle cx="262.55" cy="451.91" r="1.2" fill="#0f4c8e"/>
<circle cx="262.35" cy="465.23" r="1.2" fill="#0f4c8e"/>
<circle cx="256.43" cy="450.12" r="1.2" fill="#0f4c8e"/>
<circle cx="260.32" cy="503.56" r="1.2" fill="#cc1028"/>
<circle cx="262.60" cy="435.16" r="1.2" fill="#0f4c8e"/>
<circle cx="262.73" cy="444.55" r="1.2" fill="#cc1028"/>
<circle cx="260.53" cy="480.63" r="1.2" fill="#0f4c8e"/>
<circle cx="264.49" cy="459.68" r="1.2" fill="#0f4c8e"/>
<circle cx="258.83" cy="418.13" r="1.2" fill="#0f4c8e"/>
<circle cx="258.82" cy="454.05" r="1.2" fill="#cc1028"/>
<circle cx="260.60" cy="488.27" r="1.2" fill="#0f4c8e"/>
<circle cx="260.72" cy="450.34" r="1.2" fill="#cc1028"/>
<circle cx="260.34" cy="496.15" r="1.2" fill="#0f4c8e"/>
<circle cx="258.73" cy="467.23" r="1.2" fill="#0f4c8e"/>
<circle cx="258.68" cy="475.02" r="1.2" fill="#0f4c8e"/>
<circle cx="260.34" cy="486.64" r="1.2" fill="#0f4c8e"/>
<circle cx="258.51" cy="492.34" r="1.2" fill="#0f4c8e"/>
<circle cx="262.69" cy="453.90" r="1.2" fill="#0f4c8e"/>
<circle cx="260.36" cy="482.40" r="1.2" fill="#0f4c8e"/>
<circle cx="264.75" cy="467.46" r="1.2" fill="#cc1028"/>
<circle cx="260.54" cy="438.65" r="1.2" fill="#0f4c8e"/>
<circle cx="262.78" cy="482.40" r="1.2" fill="#cc1028"/>
<circle cx="262.59" cy="476.89" r="1.2" fill="#0f4c8e"/>
<circle cx="258.68" cy="484.63" r="1.2" fill="#0f4c8e"/>
<circle cx="262.36" cy="471.02" r="1.2" fill="#0f4c8e"/>
<circle cx="260.49" cy="471.26" r="1.2" fill="#cc1028"/>
<circle cx="258.62" cy="452.30" r="1.2" fill="#cc1028"/>
<circle cx="262.32" cy="492.14" r="1.2" fill="#0f4c8e"/>
<circle cx="258.74" cy="471.04" r="1.2" fill="#0f4c8e"/>
<circle cx="260.80" cy="436.94" r="1.2" fill="#0f4c8e"/>
<circle cx="262.79" cy="446.71" r="1.2" fill="#0f4c8e"/>
<circle cx="260.85" cy="414.45" r="1.2" fill="#0f4c8e"/>
<circle cx="258.67" cy="444.65" r="1.2" fill="#0f4c8e"/>
<circle cx="258.90" cy="437.08" r="1.2" fill="#0f4c8e"/>
<circle cx="258.65" cy="469.42" r="1.2" fill="#0f4c8e"/>
<circle cx="262.55" cy="437.12" r="1.2" fill="#cc1028"/>
<circle cx="262.60" cy="463.87" r="1.2" fill="#0f4c8e"/>
<circle cx="258.51" cy="459.50" r="1.2" fill="#0f4c8e"/>
<circle cx="258.81" cy="495.79" r="1.2" fill="#0f4c8e"/>
<circle cx="260.64" cy="478.92" r="1.2" fill="#0f4c8e"/>
<circle cx="260.75" cy="493.94" r="1.2" fill="#cc1028"/>
<circle cx="262.63" cy="478.55" r="1.2" fill="#0f4c8e"/>
<circle cx="260.63" cy="410.25" r="1.2" fill="#0f4c8e"/>
<circle cx="260.68" cy="490.38" r="1.2" fill="#0f4c8e"/>
<circle cx="258.84" cy="480.62" r="1.2" fill="#cc1028"/>
<circle cx="262.73" cy="459.62" r="1.2" fill="#0f4c8e"/>
<circle cx="260.89" cy="442.88" r="1.2" fill="#0f4c8e"/>
<circle cx="264.77" cy="456.25" r="1.2" fill="#0f4c8e"/>
<circle cx="266.79" cy="450.40" r="1.2" fill="#0f4c8e"/>
<circle cx="258.64" cy="429.25" r="1.2" fill="#0f4c8e"/>
<circle cx="258.51" cy="482.77" r="1.2" fill="#0f4c8e"/>
<circle cx="260.32" cy="463.75" r="1.2" fill="#cc1028"/>
<circle cx="262.70" cy="484.65" r="1.2" fill="#0f4c8e"/>
<circle cx="262.84" cy="490.39" r="1.2" fill="#0f4c8e"/>
<circle cx="260.30" cy="461.49" r="1.2" fill="#0f4c8e"/>
<circle cx="262.78" cy="455.77" r="1.2" fill="#0f4c8e"/>
<circle cx="262.78" cy="412.52" r="1.2" fill="#0f4c8e"/>
<circle cx="264.35" cy="473.02" r="1.2" fill="#0f4c8e"/>
<circle cx="260.88" cy="427.41" r="1.2" fill="#cc1028"/>
<circle cx="264.79" cy="446.32" r="1.2" fill="#0f4c8e"/>
<circle cx="262.68" cy="457.64" r="1.2" fill="#0f4c8e"/>
<circle cx="260.56" cy="433.34" r="1.2" fill="#cc1028"/>
<circle cx="260.82" cy="476.64" r="1.2" fill="#0f4c8e"/>
<circle cx="260.68" cy="435.12" r="1.2" fill="#0f4c8e"/>
<circle cx="260.86" cy="472.95" r="1.2" fill="#cc1028"/>
<circle cx="260.49" cy="484.26" r="1.2" fill="#0f4c8e"/>
<circle cx="258.33" cy="465.61" r="1.2" fill="#0f4c8e"/>
<circle cx="258.47" cy="450.15" r="1.2" fill="#cc1028"/>
<circle cx="260.37" cy="418.09" r="1.2" fill="#0f4c8e"/>
<circle cx="260.43" cy="492.13" r="1.2" fill="#cc1028"/>
<circle cx="260.89" cy="446.79" r="1.2" fill="#cc1028"/>
<circle cx="264.33" cy="490.18" r="1.2" fill="#cc1028"/>
<circle cx="262.45" cy="475.26" r="1.2" fill="#0f4c8e"/>
<circle cx="260.51" cy="421.51" r="1.2" fill="#cc1028"/>
<circle cx="260.84" cy="441.06" r="1.2" fill="#0f4c8e"/>
<circle cx="262.75" cy="486.25" r="1.2" fill="#cc1028"/>
<circle cx="260.57" cy="416.03" r="1.2" fill="#0f4c8e"/>
<circle cx="258.41" cy="490.50" r="1.2" fill="#0f4c8e"/>
<circle cx="264.32" cy="488.46" r="1.2" fill="#cc1028"/>
<circle cx="262.68" cy="469.05" r="1.2" fill="#0f4c8e"/>
<circle cx="262.68" cy="480.82" r="1.2" fill="#0f4c8e"/>
<circle cx="260.85" cy="425.79" r="1.2" fill="#0f4c8e"/>
<circle cx="262.59" cy="429.27" r="1.2" fill="#0f4c8e"/>
<circle cx="264.60" cy="465.57" r="1.2" fill="#cc1028"/>
<circle cx="256.37" cy="459.56" r="1.2" fill="#cc1028"/>
<circle cx="262.52" cy="472.84" r="1.2" fill="#0f4c8e"/>
<circle cx="264.60" cy="476.62" r="1.2" fill="#cc1028"/>
<circle cx="264.42" cy="491.98" r="1.2" fill="#0f4c8e"/>
<circle cx="260.77" cy="423.67" r="1.2" fill="#0f4c8e"/>
<circle cx="260.64" cy="452.22" r="1.2" fill="#0f4c8e"/>
<circle cx="260.83" cy="454.38" r="1.2" fill="#0f4c8e"/>
<circle cx="258.55" cy="463.58" r="1.2" fill="#0f4c8e"/>
<circle cx="262.84" cy="433.17" r="1.2" fill="#0f4c8e"/>
<circle cx="260.58" cy="501.65" r="1.2" fill="#cc1028"/>
<circle cx="262.90" cy="427.64" r="1.2" fill="#0f4c8e"/>
<circle cx="262.85" cy="425.84" r="1.2" fill="#0f4c8e"/>
<circle cx="264.59" cy="458.06" r="1.2" fill="#cc1028"/>
<circle cx="260.78" cy="420.10" r="1.2" fill="#0f4c8e"/>
<circle cx="262.76" cy="416.19" r="1.2" fill="#cc1028"/>
<circle cx="258.40" cy="412.23" r="1.2" fill="#0f4c8e"/>
<circle cx="258.39" cy="446.73" r="1.2" fill="#0f4c8e"/>
<circle cx="260.54" cy="474.79" r="1.2" fill="#cc1028"/>
<circle cx="262.39" cy="448.37" r="1.2" fill="#0f4c8e"/>
<circle cx="262.65" cy="461.72" r="1.2" fill="#0f4c8e"/>
<circle cx="262.89" cy="488.31" r="1.2" fill="#0f4c8e"/>
<circle cx="260.37" cy="469.30" r="1.2" fill="#0f4c8e"/>
<circle cx="262.77" cy="442.58" r="1.2" fill="#0f4c8e"/>
<circle cx="260.80" cy="429.20" r="1.2" fill="#cc1028"/>
<circle cx="260.51" cy="467.24" r="1.2" fill="#cc1028"/>
<circle cx="258.47" cy="476.70" r="1.2" fill="#0f4c8e"/>
<circle cx="262.62" cy="493.89" r="1.2" fill="#0f4c8e"/>
<circle cx="262.63" cy="450.13" r="1.2" fill="#0f4c8e"/>
<circle cx="258.60" cy="456.00" r="1.2" fill="#0f4c8e"/>
<circle cx="260.42" cy="497.51" r="1.2" fill="#cc1028"/>
<circle cx="260.61" cy="431.40" r="1.2" fill="#0f4c8e"/>
<circle cx="264.73" cy="444.86" r="1.2" fill="#0f4c8e"/>
<circle cx="260.42" cy="459.67" r="1.2" fill="#cc1028"/>
<circle cx="260.80" cy="457.62" r="1.2" fill="#0f4c8e"/>
<circle cx="262.82" cy="498.09" r="1.2" fill="#0f4c8e"/>
<circle cx="262.35" cy="495.82" r="1.2" fill="#cc1028"/>
<circle cx="260.88" cy="465.77" r="1.2" fill="#0f4c8e"/>
<circle cx="262.41" cy="467.47" r="1.2" fill="#0f4c8e"/>
<circle cx="258.79" cy="472.91" r="1.2" fill="#0f4c8e"/>
<circle cx="262.89" cy="418.26" r="1.2" fill="#cc1028"/>
<circle cx="253.00" cy="509.80" r="1.25" fill="#cc1028"/>
<circle cx="254.30" cy="509.80" r="1.25" fill="#cc1028"/>
<circle cx="255.60" cy="509.80" r="1.25" fill="#cc1028"/>
<circle cx="256.90" cy="509.80" r="1.25" fill="#cc1028"/>
<circle cx="259.00" cy="509.80" r="1.25" fill="#0f4c8e"/>
<circle cx="260.30" cy="509.80" r="1.25" fill="#0f4c8e"/>
<circle cx="261.60" cy="509.80" r="1.25" fill="#0f4c8e"/>
<circle cx="262.90" cy="509.80" r="1.25" fill="#0f4c8e"/>
<circle cx="264.00" cy="509.80" r="1.25" fill="#cc1028"/>
<circle cx="265.30" cy="509.80" r="1.25" fill="#cc1028"/>
<circle cx="266.60" cy="509.80" r="1.25" fill="#cc1028"/>
<line x1="260.50" y1="409.50" x2="260.50" y2="445.50" stroke="#231f20" stroke-width="1.0"/>
<line x1="260.50" y1="483.50" x2="260.50" y2="509.50" stroke="#231f20" stroke-width="1.0"/>
<line x1="256.50" y1="409.50" x2="266.00" y2="409.50" stroke="#231f20" stroke-width="1.15"/>
<line x1="256.50" y1="509.50" x2="266.00" y2="509.50" stroke="#231f20" stroke-width="1.15"/>
<rect x="251.50" y="445.50" width="18.00" height="38.00" fill="none" stroke="#231f20" stroke-width="1.15"/>
<line x1="251.50" y1="462.50" x2="269.50" y2="462.50" stroke="#231f20" stroke-width="1.15"/>
<circle cx="289.00" cy="475.60" r="1.25" fill="#cc1028"/>
<circle cx="289.00" cy="498.90" r="1.25" fill="#cc1028"/>
<line x1="280.7" y1="509.8" x2="297.6" y2="509.8" stroke="#6a2a3a" stroke-width="1.6"/>
<circle cx="320.30" cy="460.00" r="1.25" fill="#cc1028"/>
<circle cx="319.00" cy="463.00" r="1.25" fill="#cc1028"/>
<circle cx="321.50" cy="468.00" r="1.25" fill="#cc1028"/>
<circle cx="319.50" cy="480.00" r="1.25" fill="#cc1028"/>
<circle cx="322.00" cy="485.00" r="1.25" fill="#cc1028"/>
<circle cx="320.50" cy="503.00" r="1.25" fill="#cc1028"/>
<circle cx="313.00" cy="509.80" r="1.25" fill="#cc1028"/>
<circle cx="314.30" cy="509.80" r="1.25" fill="#cc1028"/>
<circle cx="315.60" cy="509.80" r="1.25" fill="#cc1028"/>
<circle cx="316.90" cy="509.80" r="1.25" fill="#cc1028"/>
<circle cx="318.20" cy="509.80" r="1.25" fill="#cc1028"/>
<circle cx="319.50" cy="509.80" r="1.25" fill="#cc1028"/>
<circle cx="320.80" cy="509.80" r="1.25" fill="#cc1028"/>
<circle cx="322.10" cy="509.80" r="1.25" fill="#cc1028"/>
<circle cx="323.40" cy="509.80" r="1.25" fill="#cc1028"/>
<circle cx="324.70" cy="509.80" r="1.25" fill="#cc1028"/>
<circle cx="326.00" cy="509.80" r="1.25" fill="#cc1028"/>
<circle cx="327.30" cy="509.80" r="1.25" fill="#cc1028"/>
<circle cx="328.60" cy="509.80" r="1.25" fill="#cc1028"/>
<line x1="320.50" y1="475.50" x2="320.50" y2="509.50" stroke="#555" stroke-width="0.8"/>
<line x1="320.50" y1="460.50" x2="320.50" y2="475.50" stroke="#231f20" stroke-width="1.0"/>
<line x1="316.50" y1="460.50" x2="326.00" y2="460.50" stroke="#231f20" stroke-width="1.15"/>
<line x1="316.50" y1="509.50" x2="326.00" y2="509.50" stroke="#231f20" stroke-width="1.15"/>
<rect x="312.50" y="475.50" width="17.00" height="34.00" fill="none" stroke="#231f20" stroke-width="1.15"/>
<line x1="312.50" y1="509.50" x2="329.50" y2="509.50" stroke="#231f20" stroke-width="1.15"/>
<path d="M260.00,393.10 V390.60 H320.90 V393.10" fill="none" stroke="#555" stroke-width="0.9"/>
<text x="289.80" y="388.10" font-size="8.4" text-anchor="middle" fill="#404040" textLength="33.60" lengthAdjust="spacingAndGlyphs"><tspan font-style="italic">P</tspan>&lt;0.0001</text>
<path d="M260.00,406.10 V403.50 H289.00 V406.10" fill="none" stroke="#555" stroke-width="0.9"/>
<text x="275.80" y="401.00" font-size="8.4" text-anchor="middle" fill="#404040" textLength="34.20" lengthAdjust="spacingAndGlyphs"><tspan font-style="italic">P</tspan>=0.0002</text>
<text x="357.10" y="384.40" font-size="11" text-anchor="start" fill="#111" font-weight="bold">I</text>
<text transform="translate(367.00,461.20) rotate(-90)" font-size="8.6" text-anchor="middle" fill="#404040" textLength="104.70" lengthAdjust="spacingAndGlyphs">% of MC-commited CD34<tspan font-size='5.8' dy='-2.8'>+</tspan><tspan dy='2.8'> cells</tspan></text>
<text transform="translate(379.20,462.70) rotate(-90)" font-size="8.6" text-anchor="middle" fill="#404040" textLength="95.40" lengthAdjust="spacingAndGlyphs">from all PB CD34<tspan font-size='5.8' dy='-2.8'>+</tspan><tspan dy='2.8'> HPC (log)</tspan></text>
<line x1="404.00" y1="407.30" x2="404.00" y2="515.95" stroke="#231f20" stroke-width="1.3"/>
<line x1="403.35" y1="515.30" x2="510.80" y2="515.30" stroke="#231f20" stroke-width="1.3"/>
<line x1="401.20" y1="441.90" x2="404.00" y2="441.90" stroke="#231f20" stroke-width="1"/>
<text x="397.80" y="444.80" font-size="8.6" text-anchor="end" fill="#404040">10</text>
<line x1="401.20" y1="490.20" x2="404.00" y2="490.20" stroke="#231f20" stroke-width="1"/>
<text x="397.80" y="493.10" font-size="8.6" text-anchor="end" fill="#404040">1</text>
<line x1="401.20" y1="509.50" x2="404.00" y2="509.50" stroke="#231f20" stroke-width="1"/>
<text x="397.80" y="512.40" font-size="8.6" text-anchor="end" fill="#404040">0</text>
<line x1="429.20" y1="515.30" x2="429.20" y2="518.30" stroke="#231f20" stroke-width="1"/>
<text x="429.90" y="527.90" font-size="8.6" text-anchor="middle" fill="#404040" textLength="18.00" lengthAdjust="spacingAndGlyphs">BMM</text>
<text x="429.40" y="536.30" font-size="8.6" text-anchor="middle" fill="#404040" textLength="33.30" lengthAdjust="spacingAndGlyphs">n=38 vs 3</text>
<line x1="481.40" y1="515.30" x2="481.40" y2="518.30" stroke="#231f20" stroke-width="1"/>
<text x="481.90" y="527.90" font-size="8.6" text-anchor="middle" fill="#404040" textLength="13.00" lengthAdjust="spacingAndGlyphs">ISM</text>
<text x="481.40" y="536.30" font-size="8.6" text-anchor="middle" fill="#404040" textLength="36.00" lengthAdjust="spacingAndGlyphs">n=58 vs 47</text>
<text x="457.20" y="550.10" font-size="9.2" text-anchor="middle" fill="#404040" textLength="65.10" lengthAdjust="spacingAndGlyphs">Diagnostic category</text>
<circle cx="420.10" cy="436.86" r="1.2" fill="#0f4c8e"/>
<circle cx="418.48" cy="471.11" r="1.2" fill="#0f4c8e"/>
<circle cx="416.45" cy="452.40" r="1.2" fill="#0f4c8e"/>
<circle cx="418.49" cy="438.68" r="1.2" fill="#0f4c8e"/>
<circle cx="418.11" cy="472.83" r="1.2" fill="#0f4c8e"/>
<circle cx="420.51" cy="450.54" r="1.2" fill="#0f4c8e"/>
<circle cx="418.54" cy="457.76" r="1.2" fill="#0f4c8e"/>
<circle cx="420.35" cy="473.34" r="1.2" fill="#0f4c8e"/>
<circle cx="418.42" cy="476.97" r="1.2" fill="#0f4c8e"/>
<circle cx="418.38" cy="444.48" r="1.2" fill="#0f4c8e"/>
<circle cx="420.40" cy="461.66" r="1.2" fill="#0f4c8e"/>
<circle cx="418.30" cy="478.72" r="1.2" fill="#0f4c8e"/>
<circle cx="418.32" cy="461.95" r="1.2" fill="#0f4c8e"/>
<circle cx="418.52" cy="456.24" r="1.2" fill="#0f4c8e"/>
<circle cx="420.12" cy="431.06" r="1.2" fill="#0f4c8e"/>
<circle cx="418.21" cy="452.25" r="1.2" fill="#0f4c8e"/>
<circle cx="418.05" cy="454.03" r="1.2" fill="#0f4c8e"/>
<circle cx="418.43" cy="448.26" r="1.2" fill="#0f4c8e"/>
<circle cx="418.33" cy="437.02" r="1.2" fill="#0f4c8e"/>
<circle cx="418.59" cy="431.57" r="1.2" fill="#0f4c8e"/>
<circle cx="418.08" cy="465.21" r="1.2" fill="#0f4c8e"/>
<circle cx="418.50" cy="474.92" r="1.2" fill="#0f4c8e"/>
<circle cx="418.09" cy="450.55" r="1.2" fill="#0f4c8e"/>
<circle cx="420.18" cy="467.12" r="1.2" fill="#0f4c8e"/>
<circle cx="418.47" cy="446.20" r="1.2" fill="#0f4c8e"/>
<circle cx="418.32" cy="463.47" r="1.2" fill="#0f4c8e"/>
<circle cx="420.37" cy="452.12" r="1.2" fill="#0f4c8e"/>
<circle cx="420.18" cy="465.22" r="1.2" fill="#0f4c8e"/>
<circle cx="420.29" cy="457.80" r="1.2" fill="#0f4c8e"/>
<circle cx="418.46" cy="469.24" r="1.2" fill="#0f4c8e"/>
<circle cx="420.01" cy="456.22" r="1.2" fill="#0f4c8e"/>
<circle cx="418.45" cy="467.35" r="1.2" fill="#0f4c8e"/>
<circle cx="418.30" cy="419.60" r="1.25" fill="#0f4c8e"/>
<circle cx="416.00" cy="509.80" r="1.25" fill="#0f4c8e"/>
<circle cx="417.20" cy="509.80" r="1.25" fill="#0f4c8e"/>
<circle cx="418.40" cy="509.80" r="1.25" fill="#0f4c8e"/>
<circle cx="419.60" cy="509.80" r="1.25" fill="#0f4c8e"/>
<line x1="418.50" y1="429.50" x2="418.50" y2="449.50" stroke="#231f20" stroke-width="1.0"/>
<line x1="418.50" y1="468.50" x2="418.50" y2="478.50" stroke="#231f20" stroke-width="1.0"/>
<line x1="414.50" y1="429.50" x2="423.00" y2="429.50" stroke="#231f20" stroke-width="1.15"/>
<line x1="414.50" y1="478.50" x2="423.00" y2="478.50" stroke="#231f20" stroke-width="1.15"/>
<rect x="409.50" y="449.50" width="18.00" height="19.00" fill="none" stroke="#231f20" stroke-width="1.15"/>
<line x1="409.50" y1="457.50" x2="427.50" y2="457.50" stroke="#231f20" stroke-width="1.15"/>
<circle cx="440.00" cy="477.50" r="1.25" fill="#cc1028"/>
<circle cx="440.00" cy="486.70" r="1.25" fill="#cc1028"/>
<line x1="440.50" y1="477.50" x2="440.50" y2="477.50" stroke="#231f20" stroke-width="1.0"/>
<line x1="440.50" y1="482.50" x2="440.50" y2="486.50" stroke="#231f20" stroke-width="1.0"/>
<line x1="436.50" y1="477.50" x2="444.00" y2="477.50" stroke="#231f20" stroke-width="1.15"/>
<line x1="436.50" y1="486.50" x2="444.00" y2="486.50" stroke="#231f20" stroke-width="1.15"/>
<rect x="431.50" y="477.50" width="17.00" height="5.00" fill="none" stroke="#231f20" stroke-width="1.15"/>
<line x1="431.50" y1="479.50" x2="448.50" y2="479.50" stroke="#231f20" stroke-width="1.15"/>
<circle cx="471.00" cy="421.85" r="1.2" fill="#0f4c8e"/>
<circle cx="471.22" cy="465.48" r="1.2" fill="#0f4c8e"/>
<circle cx="471.03" cy="452.36" r="1.2" fill="#0f4c8e"/>
<circle cx="473.40" cy="472.84" r="1.2" fill="#0f4c8e"/>
<circle cx="471.29" cy="429.14" r="1.2" fill="#0f4c8e"/>
<circle cx="472.92" cy="444.60" r="1.2" fill="#0f4c8e"/>
<circle cx="471.20" cy="425.60" r="1.2" fill="#0f4c8e"/>
<circle cx="472.89" cy="448.70" r="1.2" fill="#0f4c8e"/>
<circle cx="471.29" cy="434.87" r="1.2" fill="#0f4c8e"/>
<circle cx="473.21" cy="475.29" r="1.2" fill="#0f4c8e"/>
<circle cx="471.13" cy="448.11" r="1.2" fill="#0f4c8e"/>
<circle cx="470.88" cy="477.20" r="1.2" fill="#0f4c8e"/>
<circle cx="473.14" cy="461.90" r="1.2" fill="#0f4c8e"/>
<circle cx="472.88" cy="459.80" r="1.2" fill="#0f4c8e"/>
<circle cx="472.81" cy="435.08" r="1.2" fill="#0f4c8e"/>
<circle cx="471.37" cy="454.36" r="1.2" fill="#0f4c8e"/>
<circle cx="471.03" cy="461.58" r="1.2" fill="#0f4c8e"/>
<circle cx="472.98" cy="496.06" r="1.2" fill="#0f4c8e"/>
<circle cx="471.02" cy="488.09" r="1.2" fill="#0f4c8e"/>
<circle cx="471.39" cy="450.37" r="1.2" fill="#0f4c8e"/>
<circle cx="472.96" cy="452.20" r="1.2" fill="#0f4c8e"/>
<circle cx="471.24" cy="442.89" r="1.2" fill="#0f4c8e"/>
<circle cx="473.33" cy="425.89" r="1.2" fill="#0f4c8e"/>
<circle cx="473.31" cy="467.37" r="1.2" fill="#0f4c8e"/>
<circle cx="471.14" cy="433.48" r="1.2" fill="#0f4c8e"/>
<circle cx="471.02" cy="463.39" r="1.2" fill="#0f4c8e"/>
<circle cx="470.90" cy="484.40" r="1.2" fill="#0f4c8e"/>
<circle cx="470.98" cy="431.56" r="1.2" fill="#0f4c8e"/>
<circle cx="470.96" cy="475.13" r="1.2" fill="#0f4c8e"/>
<circle cx="471.00" cy="467.19" r="1.2" fill="#0f4c8e"/>
<circle cx="471.12" cy="469.46" r="1.2" fill="#0f4c8e"/>
<circle cx="471.07" cy="420.02" r="1.2" fill="#0f4c8e"/>
<circle cx="471.33" cy="492.26" r="1.2" fill="#0f4c8e"/>
<circle cx="473.14" cy="465.31" r="1.2" fill="#0f4c8e"/>
<circle cx="471.25" cy="455.91" r="1.2" fill="#0f4c8e"/>
<circle cx="471.37" cy="439.20" r="1.2" fill="#0f4c8e"/>
<circle cx="471.22" cy="417.77" r="1.2" fill="#0f4c8e"/>
<circle cx="470.89" cy="457.85" r="1.2" fill="#0f4c8e"/>
<circle cx="471.31" cy="501.53" r="1.2" fill="#0f4c8e"/>
<circle cx="470.98" cy="486.51" r="1.2" fill="#0f4c8e"/>
<circle cx="471.18" cy="478.59" r="1.2" fill="#0f4c8e"/>
<circle cx="470.85" cy="472.86" r="1.2" fill="#0f4c8e"/>
<circle cx="469.14" cy="448.32" r="1.2" fill="#0f4c8e"/>
<circle cx="470.89" cy="499.67" r="1.2" fill="#0f4c8e"/>
<circle cx="471.14" cy="490.25" r="1.2" fill="#0f4c8e"/>
<circle cx="473.08" cy="469.03" r="1.2" fill="#0f4c8e"/>
<circle cx="471.13" cy="459.58" r="1.2" fill="#0f4c8e"/>
<circle cx="471.15" cy="505.53" r="1.2" fill="#0f4c8e"/>
<circle cx="471.39" cy="495.63" r="1.2" fill="#0f4c8e"/>
<circle cx="470.99" cy="480.94" r="1.2" fill="#0f4c8e"/>
<circle cx="471.09" cy="471.34" r="1.2" fill="#0f4c8e"/>
<circle cx="471.38" cy="444.38" r="1.2" fill="#0f4c8e"/>
<circle cx="467.00" cy="510.30" r="1.25" fill="#0f4c8e"/>
<circle cx="468.20" cy="510.30" r="1.25" fill="#0f4c8e"/>
<circle cx="469.40" cy="510.30" r="1.25" fill="#0f4c8e"/>
<circle cx="470.60" cy="510.30" r="1.25" fill="#0f4c8e"/>
<circle cx="471.80" cy="510.30" r="1.25" fill="#0f4c8e"/>
<circle cx="473.00" cy="510.30" r="1.25" fill="#0f4c8e"/>
<circle cx="474.20" cy="510.30" r="1.25" fill="#0f4c8e"/>
<line x1="471.50" y1="417.50" x2="471.50" y2="444.50" stroke="#231f20" stroke-width="1.0"/>
<line x1="471.50" y1="476.50" x2="471.50" y2="510.50" stroke="#231f20" stroke-width="1.0"/>
<line x1="467.50" y1="417.50" x2="476.00" y2="417.50" stroke="#231f20" stroke-width="1.15"/>
<line x1="467.50" y1="510.50" x2="476.00" y2="510.50" stroke="#231f20" stroke-width="1.15"/>
<rect x="462.50" y="444.50" width="17.00" height="32.00" fill="none" stroke="#231f20" stroke-width="1.15"/>
<line x1="462.50" y1="462.50" x2="479.50" y2="462.50" stroke="#231f20" stroke-width="1.15"/>
<circle cx="491.46" cy="444.14" r="1.2" fill="#cc1028"/>
<circle cx="491.59" cy="496.93" r="1.2" fill="#cc1028"/>
<circle cx="491.38" cy="472.52" r="1.2" fill="#cc1028"/>
<circle cx="491.63" cy="491.94" r="1.2" fill="#cc1028"/>
<circle cx="491.34" cy="463.33" r="1.2" fill="#cc1028"/>
<circle cx="491.68" cy="437.00" r="1.2" fill="#cc1028"/>
<circle cx="491.38" cy="477.72" r="1.2" fill="#cc1028"/>
<circle cx="491.84" cy="470.15" r="1.2" fill="#cc1028"/>
<circle cx="491.89" cy="501.52" r="1.2" fill="#cc1028"/>
<circle cx="491.61" cy="480.24" r="1.2" fill="#cc1028"/>
<circle cx="493.30" cy="448.85" r="1.2" fill="#cc1028"/>
<circle cx="491.87" cy="455.96" r="1.2" fill="#cc1028"/>
<circle cx="491.79" cy="453.66" r="1.2" fill="#cc1028"/>
<circle cx="491.67" cy="460.56" r="1.2" fill="#cc1028"/>
<circle cx="491.90" cy="475.26" r="1.2" fill="#cc1028"/>
<circle cx="491.75" cy="438.97" r="1.2" fill="#cc1028"/>
<circle cx="491.76" cy="498.90" r="1.2" fill="#cc1028"/>
<circle cx="491.77" cy="484.63" r="1.2" fill="#cc1028"/>
<circle cx="491.87" cy="487.10" r="1.2" fill="#cc1028"/>
<circle cx="491.38" cy="448.75" r="1.2" fill="#cc1028"/>
<circle cx="491.34" cy="503.73" r="1.2" fill="#cc1028"/>
<circle cx="491.67" cy="494.27" r="1.2" fill="#cc1028"/>
<circle cx="491.60" cy="489.69" r="1.2" fill="#cc1028"/>
<circle cx="491.53" cy="482.57" r="1.2" fill="#cc1028"/>
<circle cx="493.57" cy="444.30" r="1.2" fill="#cc1028"/>
<circle cx="493.58" cy="501.36" r="1.2" fill="#cc1028"/>
<circle cx="491.40" cy="465.79" r="1.2" fill="#cc1028"/>
<circle cx="493.62" cy="485.08" r="1.2" fill="#cc1028"/>
<circle cx="491.58" cy="451.36" r="1.2" fill="#cc1028"/>
<circle cx="491.66" cy="467.70" r="1.2" fill="#cc1028"/>
<circle cx="485.00" cy="510.30" r="1.25" fill="#cc1028"/>
<circle cx="486.30" cy="510.30" r="1.25" fill="#cc1028"/>
<circle cx="487.60" cy="510.30" r="1.25" fill="#cc1028"/>
<circle cx="488.90" cy="510.30" r="1.25" fill="#cc1028"/>
<circle cx="490.20" cy="510.30" r="1.25" fill="#cc1028"/>
<circle cx="491.50" cy="510.30" r="1.25" fill="#cc1028"/>
<circle cx="492.80" cy="510.30" r="1.25" fill="#cc1028"/>
<circle cx="494.10" cy="510.30" r="1.25" fill="#cc1028"/>
<circle cx="495.40" cy="510.30" r="1.25" fill="#cc1028"/>
<circle cx="496.70" cy="510.30" r="1.25" fill="#cc1028"/>
<circle cx="498.00" cy="510.30" r="1.25" fill="#cc1028"/>
<line x1="491.50" y1="467.50" x2="491.50" y2="510.50" stroke="#555" stroke-width="0.8"/>
<line x1="491.50" y1="436.50" x2="491.50" y2="467.50" stroke="#231f20" stroke-width="1.0"/>
<line x1="487.50" y1="436.50" x2="496.00" y2="436.50" stroke="#231f20" stroke-width="1.15"/>
<line x1="487.50" y1="510.50" x2="496.00" y2="510.50" stroke="#231f20" stroke-width="1.15"/>
<rect x="483.50" y="467.50" width="17.00" height="43.00" fill="none" stroke="#231f20" stroke-width="1.15"/>
<line x1="483.50" y1="493.50" x2="500.50" y2="493.50" stroke="#231f20" stroke-width="1.15"/>
<path d="M418.40,412.40 V410.20 H438.00 V412.40" fill="none" stroke="#555" stroke-width="0.9"/>
<text x="428.20" y="407.70" font-size="8.4" text-anchor="middle" fill="#404040" textLength="23.40" lengthAdjust="spacingAndGlyphs"><tspan font-style="italic">P</tspan>=0.02</text>
<path d="M470.80,412.00 V409.50 H491.40 V412.00" fill="none" stroke="#555" stroke-width="0.9"/>
<text x="480.80" y="408.10" font-size="8.4" text-anchor="middle" fill="#404040" textLength="31.30" lengthAdjust="spacingAndGlyphs"><tspan font-style="italic">P</tspan>&lt;0.0001</text>
<rect x="0.5" y="0.5" width="519" height="558" fill="none" stroke="#1a1414" stroke-width="1.2"/>
</svg></body></html>
